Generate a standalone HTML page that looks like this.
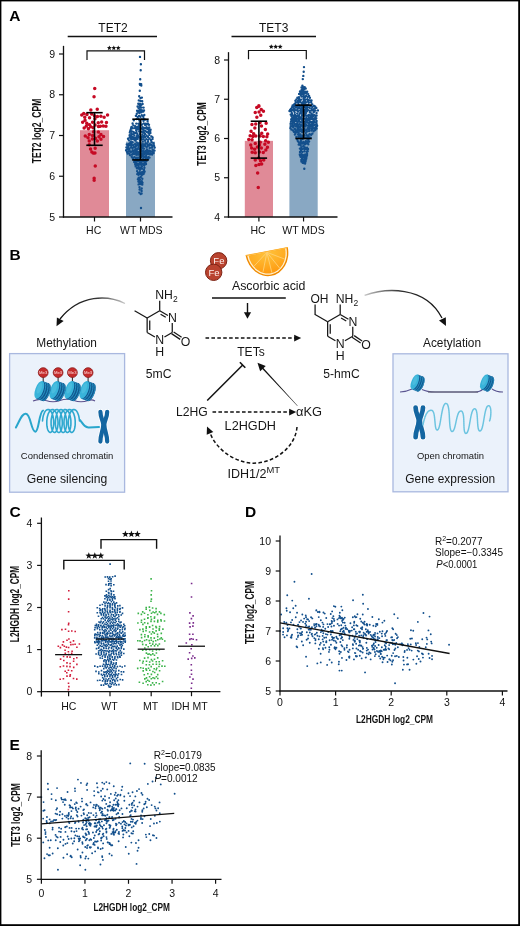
<!DOCTYPE html><html><head><meta charset="utf-8"><style>html,body{margin:0;padding:0;background:#fff;}svg{display:block;will-change:transform;}</style></head><body>
<svg width="520" height="926" viewBox="0 0 520 926" font-family='"Liberation Sans", sans-serif'>
<rect x="0" y="0" width="520" height="926" fill="#000"/>
<rect x="1.4" y="1.4" width="516.8" height="922.8" fill="#fff"/>
<text x="9.2" y="21.2" font-size="15.5" text-anchor="start" font-weight="bold" fill="#000" >A</text>
<text x="9.6" y="259.5" font-size="15.5" text-anchor="start" font-weight="bold" fill="#000" >B</text>
<text x="9.4" y="517.3" font-size="15.5" text-anchor="start" font-weight="bold" fill="#000" >C</text>
<text x="245" y="516.8" font-size="15.5" text-anchor="start" font-weight="bold" fill="#000" >D</text>
<text x="9.6" y="749.9" font-size="15.5" text-anchor="start" font-weight="bold" fill="#000" >E</text>
<text x="113" y="32.1" font-size="12" text-anchor="middle" font-weight="normal" fill="#111" >TET2</text>
<line x1="67.70" y1="36.50" x2="157.00" y2="36.50" stroke="#111" stroke-width="1.3" />
<rect x="80" y="130.20" width="29" height="86.80" fill="#e08a97"/>
<rect x="126" y="141.61" width="29" height="75.39" fill="#89a8c3"/>
<path d="M80.9,122.3a1.75,1.75 0 1,0 3.5,0a1.75,1.75 0 1,0 -3.5,0M89.9,114.1a1.75,1.75 0 1,0 3.5,0a1.75,1.75 0 1,0 -3.5,0M87.8,117.8a1.75,1.75 0 1,0 3.5,0a1.75,1.75 0 1,0 -3.5,0M86.3,137.7a1.75,1.75 0 1,0 3.5,0a1.75,1.75 0 1,0 -3.5,0M99.2,134.5a1.75,1.75 0 1,0 3.5,0a1.75,1.75 0 1,0 -3.5,0M105.8,114.9a1.75,1.75 0 1,0 3.5,0a1.75,1.75 0 1,0 -3.5,0M93.2,152.9a1.75,1.75 0 1,0 3.5,0a1.75,1.75 0 1,0 -3.5,0M95.7,116.4a1.75,1.75 0 1,0 3.5,0a1.75,1.75 0 1,0 -3.5,0M83.0,117.2a1.75,1.75 0 1,0 3.5,0a1.75,1.75 0 1,0 -3.5,0M91.4,127.8a1.75,1.75 0 1,0 3.5,0a1.75,1.75 0 1,0 -3.5,0M87.5,134.4a1.75,1.75 0 1,0 3.5,0a1.75,1.75 0 1,0 -3.5,0M90.8,135.4a1.75,1.75 0 1,0 3.5,0a1.75,1.75 0 1,0 -3.5,0M101.8,136.4a1.75,1.75 0 1,0 3.5,0a1.75,1.75 0 1,0 -3.5,0M86.6,128.7a1.75,1.75 0 1,0 3.5,0a1.75,1.75 0 1,0 -3.5,0M96.7,126.4a1.75,1.75 0 1,0 3.5,0a1.75,1.75 0 1,0 -3.5,0M87.8,124.7a1.75,1.75 0 1,0 3.5,0a1.75,1.75 0 1,0 -3.5,0M95.5,109.3a1.75,1.75 0 1,0 3.5,0a1.75,1.75 0 1,0 -3.5,0M102.4,117.3a1.75,1.75 0 1,0 3.5,0a1.75,1.75 0 1,0 -3.5,0M104.7,122.4a1.75,1.75 0 1,0 3.5,0a1.75,1.75 0 1,0 -3.5,0M89.1,109.9a1.75,1.75 0 1,0 3.5,0a1.75,1.75 0 1,0 -3.5,0M93.7,138.2a1.75,1.75 0 1,0 3.5,0a1.75,1.75 0 1,0 -3.5,0M87.5,140.9a1.75,1.75 0 1,0 3.5,0a1.75,1.75 0 1,0 -3.5,0M96.5,122.7a1.75,1.75 0 1,0 3.5,0a1.75,1.75 0 1,0 -3.5,0M93.4,148.3a1.75,1.75 0 1,0 3.5,0a1.75,1.75 0 1,0 -3.5,0M88.8,149.1a1.75,1.75 0 1,0 3.5,0a1.75,1.75 0 1,0 -3.5,0M101.5,126.0a1.75,1.75 0 1,0 3.5,0a1.75,1.75 0 1,0 -3.5,0M82.4,127.9a1.75,1.75 0 1,0 3.5,0a1.75,1.75 0 1,0 -3.5,0M82.0,113.4a1.75,1.75 0 1,0 3.5,0a1.75,1.75 0 1,0 -3.5,0M90.8,122.2a1.75,1.75 0 1,0 3.5,0a1.75,1.75 0 1,0 -3.5,0M84.6,126.1a1.75,1.75 0 1,0 3.5,0a1.75,1.75 0 1,0 -3.5,0M89.0,126.7a1.75,1.75 0 1,0 3.5,0a1.75,1.75 0 1,0 -3.5,0M97.2,136.7a1.75,1.75 0 1,0 3.5,0a1.75,1.75 0 1,0 -3.5,0M90.1,151.9a1.75,1.75 0 1,0 3.5,0a1.75,1.75 0 1,0 -3.5,0M99.2,139.3a1.75,1.75 0 1,0 3.5,0a1.75,1.75 0 1,0 -3.5,0M83.3,120.3a1.75,1.75 0 1,0 3.5,0a1.75,1.75 0 1,0 -3.5,0M90.6,138.9a1.75,1.75 0 1,0 3.5,0a1.75,1.75 0 1,0 -3.5,0M91.8,131.7a1.75,1.75 0 1,0 3.5,0a1.75,1.75 0 1,0 -3.5,0M91.4,153.1a1.75,1.75 0 1,0 3.5,0a1.75,1.75 0 1,0 -3.5,0M99.1,116.2a1.75,1.75 0 1,0 3.5,0a1.75,1.75 0 1,0 -3.5,0M95.6,141.1a1.75,1.75 0 1,0 3.5,0a1.75,1.75 0 1,0 -3.5,0M83.5,135.9a1.75,1.75 0 1,0 3.5,0a1.75,1.75 0 1,0 -3.5,0M85.2,114.6a1.75,1.75 0 1,0 3.5,0a1.75,1.75 0 1,0 -3.5,0M104.2,126.2a1.75,1.75 0 1,0 3.5,0a1.75,1.75 0 1,0 -3.5,0M92.7,115.7a1.75,1.75 0 1,0 3.5,0a1.75,1.75 0 1,0 -3.5,0M99.9,121.9a1.75,1.75 0 1,0 3.5,0a1.75,1.75 0 1,0 -3.5,0M93.2,118.8a1.75,1.75 0 1,0 3.5,0a1.75,1.75 0 1,0 -3.5,0M87.5,144.8a1.75,1.75 0 1,0 3.5,0a1.75,1.75 0 1,0 -3.5,0M93.3,125.1a1.75,1.75 0 1,0 3.5,0a1.75,1.75 0 1,0 -3.5,0M98.5,126.3a1.75,1.75 0 1,0 3.5,0a1.75,1.75 0 1,0 -3.5,0M80.0,114.9a1.75,1.75 0 1,0 3.5,0a1.75,1.75 0 1,0 -3.5,0M96.6,132.0a1.75,1.75 0 1,0 3.5,0a1.75,1.75 0 1,0 -3.5,0M85.0,123.2a1.75,1.75 0 1,0 3.5,0a1.75,1.75 0 1,0 -3.5,0M93.0,88.6a1.75,1.75 0 1,0 3.5,0a1.75,1.75 0 1,0 -3.5,0M92.3,96.8a1.75,1.75 0 1,0 3.5,0a1.75,1.75 0 1,0 -3.5,0M93.5,166.1a1.75,1.75 0 1,0 3.5,0a1.75,1.75 0 1,0 -3.5,0M92.4,178.3a1.75,1.75 0 1,0 3.5,0a1.75,1.75 0 1,0 -3.5,0M92.4,180.3a1.75,1.75 0 1,0 3.5,0a1.75,1.75 0 1,0 -3.5,0" fill="#c60a24"/>
<path d="M130.9,154.5a1.2,1.2 0 1,0 2.4,0a1.2,1.2 0 1,0 -2.4,0M142.3,174.0a1.2,1.2 0 1,0 2.4,0a1.2,1.2 0 1,0 -2.4,0M134.6,146.6a1.2,1.2 0 1,0 2.4,0a1.2,1.2 0 1,0 -2.4,0M136.2,127.0a1.2,1.2 0 1,0 2.4,0a1.2,1.2 0 1,0 -2.4,0M130.5,131.1a1.2,1.2 0 1,0 2.4,0a1.2,1.2 0 1,0 -2.4,0M144.6,158.3a1.2,1.2 0 1,0 2.4,0a1.2,1.2 0 1,0 -2.4,0M141.4,163.8a1.2,1.2 0 1,0 2.4,0a1.2,1.2 0 1,0 -2.4,0M140.7,151.2a1.2,1.2 0 1,0 2.4,0a1.2,1.2 0 1,0 -2.4,0M141.5,127.2a1.2,1.2 0 1,0 2.4,0a1.2,1.2 0 1,0 -2.4,0M128.5,143.4a1.2,1.2 0 1,0 2.4,0a1.2,1.2 0 1,0 -2.4,0M137.6,110.6a1.2,1.2 0 1,0 2.4,0a1.2,1.2 0 1,0 -2.4,0M141.2,134.4a1.2,1.2 0 1,0 2.4,0a1.2,1.2 0 1,0 -2.4,0M150.2,136.4a1.2,1.2 0 1,0 2.4,0a1.2,1.2 0 1,0 -2.4,0M145.3,127.3a1.2,1.2 0 1,0 2.4,0a1.2,1.2 0 1,0 -2.4,0M139.7,128.5a1.2,1.2 0 1,0 2.4,0a1.2,1.2 0 1,0 -2.4,0M124.9,150.2a1.2,1.2 0 1,0 2.4,0a1.2,1.2 0 1,0 -2.4,0M148.8,154.4a1.2,1.2 0 1,0 2.4,0a1.2,1.2 0 1,0 -2.4,0M127.1,145.9a1.2,1.2 0 1,0 2.4,0a1.2,1.2 0 1,0 -2.4,0M144.5,143.3a1.2,1.2 0 1,0 2.4,0a1.2,1.2 0 1,0 -2.4,0M138.7,163.3a1.2,1.2 0 1,0 2.4,0a1.2,1.2 0 1,0 -2.4,0M130.3,145.7a1.2,1.2 0 1,0 2.4,0a1.2,1.2 0 1,0 -2.4,0M128.4,135.3a1.2,1.2 0 1,0 2.4,0a1.2,1.2 0 1,0 -2.4,0M144.8,164.0a1.2,1.2 0 1,0 2.4,0a1.2,1.2 0 1,0 -2.4,0M136.3,163.7a1.2,1.2 0 1,0 2.4,0a1.2,1.2 0 1,0 -2.4,0M137.8,160.1a1.2,1.2 0 1,0 2.4,0a1.2,1.2 0 1,0 -2.4,0M134.3,153.0a1.2,1.2 0 1,0 2.4,0a1.2,1.2 0 1,0 -2.4,0M139.3,100.9a1.2,1.2 0 1,0 2.4,0a1.2,1.2 0 1,0 -2.4,0M137.4,184.4a1.2,1.2 0 1,0 2.4,0a1.2,1.2 0 1,0 -2.4,0M134.3,159.2a1.2,1.2 0 1,0 2.4,0a1.2,1.2 0 1,0 -2.4,0M142.3,160.9a1.2,1.2 0 1,0 2.4,0a1.2,1.2 0 1,0 -2.4,0M139.4,144.1a1.2,1.2 0 1,0 2.4,0a1.2,1.2 0 1,0 -2.4,0M140.5,188.5a1.2,1.2 0 1,0 2.4,0a1.2,1.2 0 1,0 -2.4,0M150.3,144.9a1.2,1.2 0 1,0 2.4,0a1.2,1.2 0 1,0 -2.4,0M145.3,161.1a1.2,1.2 0 1,0 2.4,0a1.2,1.2 0 1,0 -2.4,0M139.4,153.7a1.2,1.2 0 1,0 2.4,0a1.2,1.2 0 1,0 -2.4,0M132.2,125.4a1.2,1.2 0 1,0 2.4,0a1.2,1.2 0 1,0 -2.4,0M131.8,159.2a1.2,1.2 0 1,0 2.4,0a1.2,1.2 0 1,0 -2.4,0M141.2,136.6a1.2,1.2 0 1,0 2.4,0a1.2,1.2 0 1,0 -2.4,0M139.6,147.3a1.2,1.2 0 1,0 2.4,0a1.2,1.2 0 1,0 -2.4,0M137.5,146.8a1.2,1.2 0 1,0 2.4,0a1.2,1.2 0 1,0 -2.4,0M146.7,123.5a1.2,1.2 0 1,0 2.4,0a1.2,1.2 0 1,0 -2.4,0M135.4,161.3a1.2,1.2 0 1,0 2.4,0a1.2,1.2 0 1,0 -2.4,0M141.5,110.5a1.2,1.2 0 1,0 2.4,0a1.2,1.2 0 1,0 -2.4,0M134.7,115.7a1.2,1.2 0 1,0 2.4,0a1.2,1.2 0 1,0 -2.4,0M143.8,133.7a1.2,1.2 0 1,0 2.4,0a1.2,1.2 0 1,0 -2.4,0M137.5,177.6a1.2,1.2 0 1,0 2.4,0a1.2,1.2 0 1,0 -2.4,0M138.6,134.0a1.2,1.2 0 1,0 2.4,0a1.2,1.2 0 1,0 -2.4,0M128.4,137.5a1.2,1.2 0 1,0 2.4,0a1.2,1.2 0 1,0 -2.4,0M130.3,126.9a1.2,1.2 0 1,0 2.4,0a1.2,1.2 0 1,0 -2.4,0M140.1,157.0a1.2,1.2 0 1,0 2.4,0a1.2,1.2 0 1,0 -2.4,0M138.8,103.8a1.2,1.2 0 1,0 2.4,0a1.2,1.2 0 1,0 -2.4,0M139.3,116.7a1.2,1.2 0 1,0 2.4,0a1.2,1.2 0 1,0 -2.4,0M137.3,166.7a1.2,1.2 0 1,0 2.4,0a1.2,1.2 0 1,0 -2.4,0M143.9,151.5a1.2,1.2 0 1,0 2.4,0a1.2,1.2 0 1,0 -2.4,0M138.0,182.1a1.2,1.2 0 1,0 2.4,0a1.2,1.2 0 1,0 -2.4,0M139.2,122.3a1.2,1.2 0 1,0 2.4,0a1.2,1.2 0 1,0 -2.4,0M140.1,112.2a1.2,1.2 0 1,0 2.4,0a1.2,1.2 0 1,0 -2.4,0M140.1,85.6a1.2,1.2 0 1,0 2.4,0a1.2,1.2 0 1,0 -2.4,0M146.8,136.9a1.2,1.2 0 1,0 2.4,0a1.2,1.2 0 1,0 -2.4,0M135.9,133.8a1.2,1.2 0 1,0 2.4,0a1.2,1.2 0 1,0 -2.4,0M133.9,133.1a1.2,1.2 0 1,0 2.4,0a1.2,1.2 0 1,0 -2.4,0M142.4,139.2a1.2,1.2 0 1,0 2.4,0a1.2,1.2 0 1,0 -2.4,0M141.4,104.0a1.2,1.2 0 1,0 2.4,0a1.2,1.2 0 1,0 -2.4,0M131.5,137.1a1.2,1.2 0 1,0 2.4,0a1.2,1.2 0 1,0 -2.4,0M153.3,150.6a1.2,1.2 0 1,0 2.4,0a1.2,1.2 0 1,0 -2.4,0M131.4,142.2a1.2,1.2 0 1,0 2.4,0a1.2,1.2 0 1,0 -2.4,0M138.3,187.1a1.2,1.2 0 1,0 2.4,0a1.2,1.2 0 1,0 -2.4,0M135.0,130.2a1.2,1.2 0 1,0 2.4,0a1.2,1.2 0 1,0 -2.4,0M145.8,132.1a1.2,1.2 0 1,0 2.4,0a1.2,1.2 0 1,0 -2.4,0M141.7,146.6a1.2,1.2 0 1,0 2.4,0a1.2,1.2 0 1,0 -2.4,0M138.2,120.5a1.2,1.2 0 1,0 2.4,0a1.2,1.2 0 1,0 -2.4,0M133.6,128.1a1.2,1.2 0 1,0 2.4,0a1.2,1.2 0 1,0 -2.4,0M133.0,150.5a1.2,1.2 0 1,0 2.4,0a1.2,1.2 0 1,0 -2.4,0M138.5,172.2a1.2,1.2 0 1,0 2.4,0a1.2,1.2 0 1,0 -2.4,0M134.0,164.4a1.2,1.2 0 1,0 2.4,0a1.2,1.2 0 1,0 -2.4,0M146.9,159.2a1.2,1.2 0 1,0 2.4,0a1.2,1.2 0 1,0 -2.4,0M129.7,152.0a1.2,1.2 0 1,0 2.4,0a1.2,1.2 0 1,0 -2.4,0M148.0,145.4a1.2,1.2 0 1,0 2.4,0a1.2,1.2 0 1,0 -2.4,0M139.6,109.7a1.2,1.2 0 1,0 2.4,0a1.2,1.2 0 1,0 -2.4,0M136.9,153.3a1.2,1.2 0 1,0 2.4,0a1.2,1.2 0 1,0 -2.4,0M143.1,115.0a1.2,1.2 0 1,0 2.4,0a1.2,1.2 0 1,0 -2.4,0M149.2,132.9a1.2,1.2 0 1,0 2.4,0a1.2,1.2 0 1,0 -2.4,0M132.6,120.3a1.2,1.2 0 1,0 2.4,0a1.2,1.2 0 1,0 -2.4,0M153.5,147.5a1.2,1.2 0 1,0 2.4,0a1.2,1.2 0 1,0 -2.4,0M139.5,194.0a1.2,1.2 0 1,0 2.4,0a1.2,1.2 0 1,0 -2.4,0M139.2,125.8a1.2,1.2 0 1,0 2.4,0a1.2,1.2 0 1,0 -2.4,0M128.8,155.1a1.2,1.2 0 1,0 2.4,0a1.2,1.2 0 1,0 -2.4,0M143.2,163.2a1.2,1.2 0 1,0 2.4,0a1.2,1.2 0 1,0 -2.4,0M144.0,124.9a1.2,1.2 0 1,0 2.4,0a1.2,1.2 0 1,0 -2.4,0M128.6,132.6a1.2,1.2 0 1,0 2.4,0a1.2,1.2 0 1,0 -2.4,0M133.2,157.1a1.2,1.2 0 1,0 2.4,0a1.2,1.2 0 1,0 -2.4,0M145.9,153.9a1.2,1.2 0 1,0 2.4,0a1.2,1.2 0 1,0 -2.4,0M140.2,107.4a1.2,1.2 0 1,0 2.4,0a1.2,1.2 0 1,0 -2.4,0M141.8,153.8a1.2,1.2 0 1,0 2.4,0a1.2,1.2 0 1,0 -2.4,0M138.0,131.6a1.2,1.2 0 1,0 2.4,0a1.2,1.2 0 1,0 -2.4,0M137.5,164.7a1.2,1.2 0 1,0 2.4,0a1.2,1.2 0 1,0 -2.4,0M135.1,123.6a1.2,1.2 0 1,0 2.4,0a1.2,1.2 0 1,0 -2.4,0M140.7,166.2a1.2,1.2 0 1,0 2.4,0a1.2,1.2 0 1,0 -2.4,0M150.3,142.0a1.2,1.2 0 1,0 2.4,0a1.2,1.2 0 1,0 -2.4,0M140.6,181.3a1.2,1.2 0 1,0 2.4,0a1.2,1.2 0 1,0 -2.4,0M138.7,140.2a1.2,1.2 0 1,0 2.4,0a1.2,1.2 0 1,0 -2.4,0M146.4,120.9a1.2,1.2 0 1,0 2.4,0a1.2,1.2 0 1,0 -2.4,0M135.9,171.1a1.2,1.2 0 1,0 2.4,0a1.2,1.2 0 1,0 -2.4,0M126.4,153.5a1.2,1.2 0 1,0 2.4,0a1.2,1.2 0 1,0 -2.4,0M148.1,127.5a1.2,1.2 0 1,0 2.4,0a1.2,1.2 0 1,0 -2.4,0M144.2,137.1a1.2,1.2 0 1,0 2.4,0a1.2,1.2 0 1,0 -2.4,0M151.4,151.6a1.2,1.2 0 1,0 2.4,0a1.2,1.2 0 1,0 -2.4,0M135.9,136.0a1.2,1.2 0 1,0 2.4,0a1.2,1.2 0 1,0 -2.4,0M136.1,145.0a1.2,1.2 0 1,0 2.4,0a1.2,1.2 0 1,0 -2.4,0M140.1,119.4a1.2,1.2 0 1,0 2.4,0a1.2,1.2 0 1,0 -2.4,0M132.1,152.6a1.2,1.2 0 1,0 2.4,0a1.2,1.2 0 1,0 -2.4,0M143.5,128.0a1.2,1.2 0 1,0 2.4,0a1.2,1.2 0 1,0 -2.4,0M133.2,135.6a1.2,1.2 0 1,0 2.4,0a1.2,1.2 0 1,0 -2.4,0M146.3,129.1a1.2,1.2 0 1,0 2.4,0a1.2,1.2 0 1,0 -2.4,0M142.8,148.6a1.2,1.2 0 1,0 2.4,0a1.2,1.2 0 1,0 -2.4,0M142.4,130.2a1.2,1.2 0 1,0 2.4,0a1.2,1.2 0 1,0 -2.4,0M140.9,131.8a1.2,1.2 0 1,0 2.4,0a1.2,1.2 0 1,0 -2.4,0M131.3,148.2a1.2,1.2 0 1,0 2.4,0a1.2,1.2 0 1,0 -2.4,0M140.2,184.2a1.2,1.2 0 1,0 2.4,0a1.2,1.2 0 1,0 -2.4,0M137.6,100.4a1.2,1.2 0 1,0 2.4,0a1.2,1.2 0 1,0 -2.4,0M147.6,130.9a1.2,1.2 0 1,0 2.4,0a1.2,1.2 0 1,0 -2.4,0M136.5,157.6a1.2,1.2 0 1,0 2.4,0a1.2,1.2 0 1,0 -2.4,0M149.4,129.8a1.2,1.2 0 1,0 2.4,0a1.2,1.2 0 1,0 -2.4,0M150.5,153.3a1.2,1.2 0 1,0 2.4,0a1.2,1.2 0 1,0 -2.4,0M133.8,144.3a1.2,1.2 0 1,0 2.4,0a1.2,1.2 0 1,0 -2.4,0M144.1,119.6a1.2,1.2 0 1,0 2.4,0a1.2,1.2 0 1,0 -2.4,0M152.8,145.4a1.2,1.2 0 1,0 2.4,0a1.2,1.2 0 1,0 -2.4,0M147.3,152.8a1.2,1.2 0 1,0 2.4,0a1.2,1.2 0 1,0 -2.4,0M138.2,152.0a1.2,1.2 0 1,0 2.4,0a1.2,1.2 0 1,0 -2.4,0M140.9,172.3a1.2,1.2 0 1,0 2.4,0a1.2,1.2 0 1,0 -2.4,0M130.5,156.7a1.2,1.2 0 1,0 2.4,0a1.2,1.2 0 1,0 -2.4,0M143.8,153.7a1.2,1.2 0 1,0 2.4,0a1.2,1.2 0 1,0 -2.4,0M139.9,160.1a1.2,1.2 0 1,0 2.4,0a1.2,1.2 0 1,0 -2.4,0M137.3,174.8a1.2,1.2 0 1,0 2.4,0a1.2,1.2 0 1,0 -2.4,0M125.6,144.5a1.2,1.2 0 1,0 2.4,0a1.2,1.2 0 1,0 -2.4,0M147.3,157.0a1.2,1.2 0 1,0 2.4,0a1.2,1.2 0 1,0 -2.4,0M136.9,129.2a1.2,1.2 0 1,0 2.4,0a1.2,1.2 0 1,0 -2.4,0M135.9,110.8a1.2,1.2 0 1,0 2.4,0a1.2,1.2 0 1,0 -2.4,0M128.2,153.6a1.2,1.2 0 1,0 2.4,0a1.2,1.2 0 1,0 -2.4,0M151.3,139.1a1.2,1.2 0 1,0 2.4,0a1.2,1.2 0 1,0 -2.4,0M135.5,142.5a1.2,1.2 0 1,0 2.4,0a1.2,1.2 0 1,0 -2.4,0M136.7,172.6a1.2,1.2 0 1,0 2.4,0a1.2,1.2 0 1,0 -2.4,0M142.9,165.3a1.2,1.2 0 1,0 2.4,0a1.2,1.2 0 1,0 -2.4,0M136.5,116.9a1.2,1.2 0 1,0 2.4,0a1.2,1.2 0 1,0 -2.4,0M141.7,144.1a1.2,1.2 0 1,0 2.4,0a1.2,1.2 0 1,0 -2.4,0M140.9,124.5a1.2,1.2 0 1,0 2.4,0a1.2,1.2 0 1,0 -2.4,0M139.3,174.1a1.2,1.2 0 1,0 2.4,0a1.2,1.2 0 1,0 -2.4,0M134.6,137.8a1.2,1.2 0 1,0 2.4,0a1.2,1.2 0 1,0 -2.4,0M135.3,119.1a1.2,1.2 0 1,0 2.4,0a1.2,1.2 0 1,0 -2.4,0M137.3,118.9a1.2,1.2 0 1,0 2.4,0a1.2,1.2 0 1,0 -2.4,0M138.1,192.6a1.2,1.2 0 1,0 2.4,0a1.2,1.2 0 1,0 -2.4,0M146.7,141.7a1.2,1.2 0 1,0 2.4,0a1.2,1.2 0 1,0 -2.4,0M138.4,149.1a1.2,1.2 0 1,0 2.4,0a1.2,1.2 0 1,0 -2.4,0M138.0,127.8a1.2,1.2 0 1,0 2.4,0a1.2,1.2 0 1,0 -2.4,0M139.7,173.0a1.2,1.2 0 1,0 2.4,0a1.2,1.2 0 1,0 -2.4,0M132.9,154.0a1.2,1.2 0 1,0 2.4,0a1.2,1.2 0 1,0 -2.4,0M137.4,123.8a1.2,1.2 0 1,0 2.4,0a1.2,1.2 0 1,0 -2.4,0M146.3,144.3a1.2,1.2 0 1,0 2.4,0a1.2,1.2 0 1,0 -2.4,0M132.0,145.1a1.2,1.2 0 1,0 2.4,0a1.2,1.2 0 1,0 -2.4,0M139.3,98.1a1.2,1.2 0 1,0 2.4,0a1.2,1.2 0 1,0 -2.4,0M127.3,151.3a1.2,1.2 0 1,0 2.4,0a1.2,1.2 0 1,0 -2.4,0M138.7,179.5a1.2,1.2 0 1,0 2.4,0a1.2,1.2 0 1,0 -2.4,0M148.5,148.0a1.2,1.2 0 1,0 2.4,0a1.2,1.2 0 1,0 -2.4,0M133.0,162.0a1.2,1.2 0 1,0 2.4,0a1.2,1.2 0 1,0 -2.4,0M143.4,171.5a1.2,1.2 0 1,0 2.4,0a1.2,1.2 0 1,0 -2.4,0M132.0,139.3a1.2,1.2 0 1,0 2.4,0a1.2,1.2 0 1,0 -2.4,0M137.1,103.7a1.2,1.2 0 1,0 2.4,0a1.2,1.2 0 1,0 -2.4,0M136.5,138.7a1.2,1.2 0 1,0 2.4,0a1.2,1.2 0 1,0 -2.4,0M148.1,134.9a1.2,1.2 0 1,0 2.4,0a1.2,1.2 0 1,0 -2.4,0M149.3,151.1a1.2,1.2 0 1,0 2.4,0a1.2,1.2 0 1,0 -2.4,0M145.2,139.1a1.2,1.2 0 1,0 2.4,0a1.2,1.2 0 1,0 -2.4,0M131.5,128.3a1.2,1.2 0 1,0 2.4,0a1.2,1.2 0 1,0 -2.4,0M138.9,138.1a1.2,1.2 0 1,0 2.4,0a1.2,1.2 0 1,0 -2.4,0M145.5,124.6a1.2,1.2 0 1,0 2.4,0a1.2,1.2 0 1,0 -2.4,0M127.7,140.2a1.2,1.2 0 1,0 2.4,0a1.2,1.2 0 1,0 -2.4,0M138.4,158.1a1.2,1.2 0 1,0 2.4,0a1.2,1.2 0 1,0 -2.4,0M148.4,138.5a1.2,1.2 0 1,0 2.4,0a1.2,1.2 0 1,0 -2.4,0M152.3,143.3a1.2,1.2 0 1,0 2.4,0a1.2,1.2 0 1,0 -2.4,0M133.9,160.8a1.2,1.2 0 1,0 2.4,0a1.2,1.2 0 1,0 -2.4,0M139.5,136.5a1.2,1.2 0 1,0 2.4,0a1.2,1.2 0 1,0 -2.4,0M131.4,123.5a1.2,1.2 0 1,0 2.4,0a1.2,1.2 0 1,0 -2.4,0M135.1,164.0a1.2,1.2 0 1,0 2.4,0a1.2,1.2 0 1,0 -2.4,0M134.0,140.5a1.2,1.2 0 1,0 2.4,0a1.2,1.2 0 1,0 -2.4,0M129.5,129.6a1.2,1.2 0 1,0 2.4,0a1.2,1.2 0 1,0 -2.4,0M150.7,147.5a1.2,1.2 0 1,0 2.4,0a1.2,1.2 0 1,0 -2.4,0M140.6,153.7a1.2,1.2 0 1,0 2.4,0a1.2,1.2 0 1,0 -2.4,0M128.2,148.9a1.2,1.2 0 1,0 2.4,0a1.2,1.2 0 1,0 -2.4,0M143.9,140.7a1.2,1.2 0 1,0 2.4,0a1.2,1.2 0 1,0 -2.4,0M142.5,132.6a1.2,1.2 0 1,0 2.4,0a1.2,1.2 0 1,0 -2.4,0M147.0,139.8a1.2,1.2 0 1,0 2.4,0a1.2,1.2 0 1,0 -2.4,0M143.2,167.7a1.2,1.2 0 1,0 2.4,0a1.2,1.2 0 1,0 -2.4,0M142.6,123.4a1.2,1.2 0 1,0 2.4,0a1.2,1.2 0 1,0 -2.4,0M142.8,110.5a1.2,1.2 0 1,0 2.4,0a1.2,1.2 0 1,0 -2.4,0M140.7,168.5a1.2,1.2 0 1,0 2.4,0a1.2,1.2 0 1,0 -2.4,0M135.1,154.8a1.2,1.2 0 1,0 2.4,0a1.2,1.2 0 1,0 -2.4,0M143.6,160.1a1.2,1.2 0 1,0 2.4,0a1.2,1.2 0 1,0 -2.4,0M142.3,120.7a1.2,1.2 0 1,0 2.4,0a1.2,1.2 0 1,0 -2.4,0M138.1,113.0a1.2,1.2 0 1,0 2.4,0a1.2,1.2 0 1,0 -2.4,0M141.1,178.8a1.2,1.2 0 1,0 2.4,0a1.2,1.2 0 1,0 -2.4,0M135.5,150.7a1.2,1.2 0 1,0 2.4,0a1.2,1.2 0 1,0 -2.4,0M142.0,158.5a1.2,1.2 0 1,0 2.4,0a1.2,1.2 0 1,0 -2.4,0M127.2,144.3a1.2,1.2 0 1,0 2.4,0a1.2,1.2 0 1,0 -2.4,0M138.9,110.9a1.2,1.2 0 1,0 2.4,0a1.2,1.2 0 1,0 -2.4,0M140.9,173.5a1.2,1.2 0 1,0 2.4,0a1.2,1.2 0 1,0 -2.4,0M136.5,160.3a1.2,1.2 0 1,0 2.4,0a1.2,1.2 0 1,0 -2.4,0M137.4,143.4a1.2,1.2 0 1,0 2.4,0a1.2,1.2 0 1,0 -2.4,0M141.6,141.6a1.2,1.2 0 1,0 2.4,0a1.2,1.2 0 1,0 -2.4,0M141.3,128.8a1.2,1.2 0 1,0 2.4,0a1.2,1.2 0 1,0 -2.4,0M144.0,145.9a1.2,1.2 0 1,0 2.4,0a1.2,1.2 0 1,0 -2.4,0M140.1,163.3a1.2,1.2 0 1,0 2.4,0a1.2,1.2 0 1,0 -2.4,0M145.9,149.8a1.2,1.2 0 1,0 2.4,0a1.2,1.2 0 1,0 -2.4,0M138.6,90.8a1.2,1.2 0 1,0 2.4,0a1.2,1.2 0 1,0 -2.4,0M135.5,128.4a1.2,1.2 0 1,0 2.4,0a1.2,1.2 0 1,0 -2.4,0M134.5,166.4a1.2,1.2 0 1,0 2.4,0a1.2,1.2 0 1,0 -2.4,0M139.0,124.2a1.2,1.2 0 1,0 2.4,0a1.2,1.2 0 1,0 -2.4,0M145.9,151.7a1.2,1.2 0 1,0 2.4,0a1.2,1.2 0 1,0 -2.4,0M134.0,126.3a1.2,1.2 0 1,0 2.4,0a1.2,1.2 0 1,0 -2.4,0M138.4,189.5a1.2,1.2 0 1,0 2.4,0a1.2,1.2 0 1,0 -2.4,0M142.4,118.5a1.2,1.2 0 1,0 2.4,0a1.2,1.2 0 1,0 -2.4,0M140.9,161.1a1.2,1.2 0 1,0 2.4,0a1.2,1.2 0 1,0 -2.4,0M137.7,145.0a1.2,1.2 0 1,0 2.4,0a1.2,1.2 0 1,0 -2.4,0M132.0,134.1a1.2,1.2 0 1,0 2.4,0a1.2,1.2 0 1,0 -2.4,0M138.9,142.4a1.2,1.2 0 1,0 2.4,0a1.2,1.2 0 1,0 -2.4,0M137.2,160.8a1.2,1.2 0 1,0 2.4,0a1.2,1.2 0 1,0 -2.4,0M137.7,163.6a1.2,1.2 0 1,0 2.4,0a1.2,1.2 0 1,0 -2.4,0M152.4,153.0a1.2,1.2 0 1,0 2.4,0a1.2,1.2 0 1,0 -2.4,0M139.5,177.0a1.2,1.2 0 1,0 2.4,0a1.2,1.2 0 1,0 -2.4,0M143.1,156.8a1.2,1.2 0 1,0 2.4,0a1.2,1.2 0 1,0 -2.4,0M139.1,164.6a1.2,1.2 0 1,0 2.4,0a1.2,1.2 0 1,0 -2.4,0M143.6,144.5a1.2,1.2 0 1,0 2.4,0a1.2,1.2 0 1,0 -2.4,0M151.5,149.6a1.2,1.2 0 1,0 2.4,0a1.2,1.2 0 1,0 -2.4,0M133.1,138.3a1.2,1.2 0 1,0 2.4,0a1.2,1.2 0 1,0 -2.4,0M149.0,153.2a1.2,1.2 0 1,0 2.4,0a1.2,1.2 0 1,0 -2.4,0M139.1,181.7a1.2,1.2 0 1,0 2.4,0a1.2,1.2 0 1,0 -2.4,0M147.8,150.8a1.2,1.2 0 1,0 2.4,0a1.2,1.2 0 1,0 -2.4,0M142.3,128.1a1.2,1.2 0 1,0 2.4,0a1.2,1.2 0 1,0 -2.4,0M137.9,154.5a1.2,1.2 0 1,0 2.4,0a1.2,1.2 0 1,0 -2.4,0M125.2,147.4a1.2,1.2 0 1,0 2.4,0a1.2,1.2 0 1,0 -2.4,0M129.9,128.1a1.2,1.2 0 1,0 2.4,0a1.2,1.2 0 1,0 -2.4,0M145.4,147.3a1.2,1.2 0 1,0 2.4,0a1.2,1.2 0 1,0 -2.4,0M142.0,116.6a1.2,1.2 0 1,0 2.4,0a1.2,1.2 0 1,0 -2.4,0M136.7,111.6a1.2,1.2 0 1,0 2.4,0a1.2,1.2 0 1,0 -2.4,0M125.7,151.7a1.2,1.2 0 1,0 2.4,0a1.2,1.2 0 1,0 -2.4,0M138.6,129.4a1.2,1.2 0 1,0 2.4,0a1.2,1.2 0 1,0 -2.4,0M150.9,154.6a1.2,1.2 0 1,0 2.4,0a1.2,1.2 0 1,0 -2.4,0M142.3,163.5a1.2,1.2 0 1,0 2.4,0a1.2,1.2 0 1,0 -2.4,0M140.2,145.8a1.2,1.2 0 1,0 2.4,0a1.2,1.2 0 1,0 -2.4,0M135.9,137.4a1.2,1.2 0 1,0 2.4,0a1.2,1.2 0 1,0 -2.4,0M137.4,108.1a1.2,1.2 0 1,0 2.4,0a1.2,1.2 0 1,0 -2.4,0M134.5,162.8a1.2,1.2 0 1,0 2.4,0a1.2,1.2 0 1,0 -2.4,0M144.3,131.0a1.2,1.2 0 1,0 2.4,0a1.2,1.2 0 1,0 -2.4,0M130.1,144.0a1.2,1.2 0 1,0 2.4,0a1.2,1.2 0 1,0 -2.4,0M143.8,164.4a1.2,1.2 0 1,0 2.4,0a1.2,1.2 0 1,0 -2.4,0M138.0,96.2a1.2,1.2 0 1,0 2.4,0a1.2,1.2 0 1,0 -2.4,0M132.4,132.0a1.2,1.2 0 1,0 2.4,0a1.2,1.2 0 1,0 -2.4,0M140.3,164.8a1.2,1.2 0 1,0 2.4,0a1.2,1.2 0 1,0 -2.4,0M135.6,113.8a1.2,1.2 0 1,0 2.4,0a1.2,1.2 0 1,0 -2.4,0M135.7,168.2a1.2,1.2 0 1,0 2.4,0a1.2,1.2 0 1,0 -2.4,0M138.8,169.8a1.2,1.2 0 1,0 2.4,0a1.2,1.2 0 1,0 -2.4,0M131.3,150.8a1.2,1.2 0 1,0 2.4,0a1.2,1.2 0 1,0 -2.4,0M142.4,107.6a1.2,1.2 0 1,0 2.4,0a1.2,1.2 0 1,0 -2.4,0M140.0,182.0a1.2,1.2 0 1,0 2.4,0a1.2,1.2 0 1,0 -2.4,0M142.1,111.6a1.2,1.2 0 1,0 2.4,0a1.2,1.2 0 1,0 -2.4,0M137.6,136.9a1.2,1.2 0 1,0 2.4,0a1.2,1.2 0 1,0 -2.4,0M136.0,174.1a1.2,1.2 0 1,0 2.4,0a1.2,1.2 0 1,0 -2.4,0M130.0,139.3a1.2,1.2 0 1,0 2.4,0a1.2,1.2 0 1,0 -2.4,0M128.7,144.8a1.2,1.2 0 1,0 2.4,0a1.2,1.2 0 1,0 -2.4,0M140.3,139.5a1.2,1.2 0 1,0 2.4,0a1.2,1.2 0 1,0 -2.4,0M147.9,129.3a1.2,1.2 0 1,0 2.4,0a1.2,1.2 0 1,0 -2.4,0M147.3,133.1a1.2,1.2 0 1,0 2.4,0a1.2,1.2 0 1,0 -2.4,0M139.0,79.3a1.2,1.2 0 1,0 2.4,0a1.2,1.2 0 1,0 -2.4,0M139.2,161.7a1.2,1.2 0 1,0 2.4,0a1.2,1.2 0 1,0 -2.4,0M144.7,123.8a1.2,1.2 0 1,0 2.4,0a1.2,1.2 0 1,0 -2.4,0M132.9,147.1a1.2,1.2 0 1,0 2.4,0a1.2,1.2 0 1,0 -2.4,0M137.6,126.1a1.2,1.2 0 1,0 2.4,0a1.2,1.2 0 1,0 -2.4,0M137.9,116.0a1.2,1.2 0 1,0 2.4,0a1.2,1.2 0 1,0 -2.4,0M138.6,83.9a1.2,1.2 0 1,0 2.4,0a1.2,1.2 0 1,0 -2.4,0M147.6,153.9a1.2,1.2 0 1,0 2.4,0a1.2,1.2 0 1,0 -2.4,0M134.8,145.1a1.2,1.2 0 1,0 2.4,0a1.2,1.2 0 1,0 -2.4,0M136.4,106.5a1.2,1.2 0 1,0 2.4,0a1.2,1.2 0 1,0 -2.4,0M138.5,105.8a1.2,1.2 0 1,0 2.4,0a1.2,1.2 0 1,0 -2.4,0M134.4,148.9a1.2,1.2 0 1,0 2.4,0a1.2,1.2 0 1,0 -2.4,0M138.9,107.1a1.2,1.2 0 1,0 2.4,0a1.2,1.2 0 1,0 -2.4,0M129.8,147.4a1.2,1.2 0 1,0 2.4,0a1.2,1.2 0 1,0 -2.4,0M126.4,148.8a1.2,1.2 0 1,0 2.4,0a1.2,1.2 0 1,0 -2.4,0M146.9,128.0a1.2,1.2 0 1,0 2.4,0a1.2,1.2 0 1,0 -2.4,0M148.7,144.2a1.2,1.2 0 1,0 2.4,0a1.2,1.2 0 1,0 -2.4,0M142.4,145.3a1.2,1.2 0 1,0 2.4,0a1.2,1.2 0 1,0 -2.4,0M141.2,148.3a1.2,1.2 0 1,0 2.4,0a1.2,1.2 0 1,0 -2.4,0M146.5,146.1a1.2,1.2 0 1,0 2.4,0a1.2,1.2 0 1,0 -2.4,0M134.1,163.5a1.2,1.2 0 1,0 2.4,0a1.2,1.2 0 1,0 -2.4,0M140.5,175.2a1.2,1.2 0 1,0 2.4,0a1.2,1.2 0 1,0 -2.4,0M144.9,128.2a1.2,1.2 0 1,0 2.4,0a1.2,1.2 0 1,0 -2.4,0M135.1,139.5a1.2,1.2 0 1,0 2.4,0a1.2,1.2 0 1,0 -2.4,0M130.2,133.5a1.2,1.2 0 1,0 2.4,0a1.2,1.2 0 1,0 -2.4,0M147.8,124.7a1.2,1.2 0 1,0 2.4,0a1.2,1.2 0 1,0 -2.4,0M144.9,156.0a1.2,1.2 0 1,0 2.4,0a1.2,1.2 0 1,0 -2.4,0M141.5,155.8a1.2,1.2 0 1,0 2.4,0a1.2,1.2 0 1,0 -2.4,0M135.6,153.3a1.2,1.2 0 1,0 2.4,0a1.2,1.2 0 1,0 -2.4,0M136.5,152.0a1.2,1.2 0 1,0 2.4,0a1.2,1.2 0 1,0 -2.4,0M134.6,127.7a1.2,1.2 0 1,0 2.4,0a1.2,1.2 0 1,0 -2.4,0M136.5,148.8a1.2,1.2 0 1,0 2.4,0a1.2,1.2 0 1,0 -2.4,0M128.7,151.1a1.2,1.2 0 1,0 2.4,0a1.2,1.2 0 1,0 -2.4,0M145.4,135.5a1.2,1.2 0 1,0 2.4,0a1.2,1.2 0 1,0 -2.4,0M135.8,159.0a1.2,1.2 0 1,0 2.4,0a1.2,1.2 0 1,0 -2.4,0M139.1,167.8a1.2,1.2 0 1,0 2.4,0a1.2,1.2 0 1,0 -2.4,0M135.3,131.9a1.2,1.2 0 1,0 2.4,0a1.2,1.2 0 1,0 -2.4,0M136.8,128.0a1.2,1.2 0 1,0 2.4,0a1.2,1.2 0 1,0 -2.4,0M142.5,152.4a1.2,1.2 0 1,0 2.4,0a1.2,1.2 0 1,0 -2.4,0M130.2,135.6a1.2,1.2 0 1,0 2.4,0a1.2,1.2 0 1,0 -2.4,0M137.2,181.6a1.2,1.2 0 1,0 2.4,0a1.2,1.2 0 1,0 -2.4,0M127.0,147.4a1.2,1.2 0 1,0 2.4,0a1.2,1.2 0 1,0 -2.4,0M126.8,138.8a1.2,1.2 0 1,0 2.4,0a1.2,1.2 0 1,0 -2.4,0M136.5,154.6a1.2,1.2 0 1,0 2.4,0a1.2,1.2 0 1,0 -2.4,0M139.7,150.0a1.2,1.2 0 1,0 2.4,0a1.2,1.2 0 1,0 -2.4,0M142.5,137.0a1.2,1.2 0 1,0 2.4,0a1.2,1.2 0 1,0 -2.4,0M140.3,138.1a1.2,1.2 0 1,0 2.4,0a1.2,1.2 0 1,0 -2.4,0M144.4,161.9a1.2,1.2 0 1,0 2.4,0a1.2,1.2 0 1,0 -2.4,0M149.0,131.3a1.2,1.2 0 1,0 2.4,0a1.2,1.2 0 1,0 -2.4,0M142.2,171.8a1.2,1.2 0 1,0 2.4,0a1.2,1.2 0 1,0 -2.4,0M140.7,97.6a1.2,1.2 0 1,0 2.4,0a1.2,1.2 0 1,0 -2.4,0M135.0,157.8a1.2,1.2 0 1,0 2.4,0a1.2,1.2 0 1,0 -2.4,0M142.7,154.6a1.2,1.2 0 1,0 2.4,0a1.2,1.2 0 1,0 -2.4,0M146.2,158.0a1.2,1.2 0 1,0 2.4,0a1.2,1.2 0 1,0 -2.4,0M140.0,84.3a1.2,1.2 0 1,0 2.4,0a1.2,1.2 0 1,0 -2.4,0M145.1,152.9a1.2,1.2 0 1,0 2.4,0a1.2,1.2 0 1,0 -2.4,0M129.7,137.3a1.2,1.2 0 1,0 2.4,0a1.2,1.2 0 1,0 -2.4,0M139.0,84.9a1.2,1.2 0 1,0 2.4,0a1.2,1.2 0 1,0 -2.4,0M140.0,104.7a1.2,1.2 0 1,0 2.4,0a1.2,1.2 0 1,0 -2.4,0M136.7,179.3a1.2,1.2 0 1,0 2.4,0a1.2,1.2 0 1,0 -2.4,0M129.6,141.7a1.2,1.2 0 1,0 2.4,0a1.2,1.2 0 1,0 -2.4,0M151.4,137.5a1.2,1.2 0 1,0 2.4,0a1.2,1.2 0 1,0 -2.4,0M139.7,131.6a1.2,1.2 0 1,0 2.4,0a1.2,1.2 0 1,0 -2.4,0M142.1,150.6a1.2,1.2 0 1,0 2.4,0a1.2,1.2 0 1,0 -2.4,0M138.9,150.9a1.2,1.2 0 1,0 2.4,0a1.2,1.2 0 1,0 -2.4,0M140.4,193.4a1.2,1.2 0 1,0 2.4,0a1.2,1.2 0 1,0 -2.4,0M138.2,181.3a1.2,1.2 0 1,0 2.4,0a1.2,1.2 0 1,0 -2.4,0M149.8,140.2a1.2,1.2 0 1,0 2.4,0a1.2,1.2 0 1,0 -2.4,0M143.0,172.5a1.2,1.2 0 1,0 2.4,0a1.2,1.2 0 1,0 -2.4,0M131.3,157.8a1.2,1.2 0 1,0 2.4,0a1.2,1.2 0 1,0 -2.4,0M144.8,150.7a1.2,1.2 0 1,0 2.4,0a1.2,1.2 0 1,0 -2.4,0M138.1,173.4a1.2,1.2 0 1,0 2.4,0a1.2,1.2 0 1,0 -2.4,0M141.3,182.7a1.2,1.2 0 1,0 2.4,0a1.2,1.2 0 1,0 -2.4,0M138.5,109.9a1.2,1.2 0 1,0 2.4,0a1.2,1.2 0 1,0 -2.4,0M151.3,146.0a1.2,1.2 0 1,0 2.4,0a1.2,1.2 0 1,0 -2.4,0M148.3,157.6a1.2,1.2 0 1,0 2.4,0a1.2,1.2 0 1,0 -2.4,0M128.9,131.2a1.2,1.2 0 1,0 2.4,0a1.2,1.2 0 1,0 -2.4,0M140.4,190.9a1.2,1.2 0 1,0 2.4,0a1.2,1.2 0 1,0 -2.4,0M140.0,155.1a1.2,1.2 0 1,0 2.4,0a1.2,1.2 0 1,0 -2.4,0M141.0,101.3a1.2,1.2 0 1,0 2.4,0a1.2,1.2 0 1,0 -2.4,0M140.6,115.1a1.2,1.2 0 1,0 2.4,0a1.2,1.2 0 1,0 -2.4,0M142.9,135.6a1.2,1.2 0 1,0 2.4,0a1.2,1.2 0 1,0 -2.4,0M142.7,169.7a1.2,1.2 0 1,0 2.4,0a1.2,1.2 0 1,0 -2.4,0M134.3,151.4a1.2,1.2 0 1,0 2.4,0a1.2,1.2 0 1,0 -2.4,0M138.7,183.7a1.2,1.2 0 1,0 2.4,0a1.2,1.2 0 1,0 -2.4,0M138.6,156.7a1.2,1.2 0 1,0 2.4,0a1.2,1.2 0 1,0 -2.4,0M141.1,184.6a1.2,1.2 0 1,0 2.4,0a1.2,1.2 0 1,0 -2.4,0M136.1,165.1a1.2,1.2 0 1,0 2.4,0a1.2,1.2 0 1,0 -2.4,0M137.2,135.7a1.2,1.2 0 1,0 2.4,0a1.2,1.2 0 1,0 -2.4,0M137.2,168.6a1.2,1.2 0 1,0 2.4,0a1.2,1.2 0 1,0 -2.4,0M138.8,56.9a1.2,1.2 0 1,0 2.4,0a1.2,1.2 0 1,0 -2.4,0M139.7,64.2a1.2,1.2 0 1,0 2.4,0a1.2,1.2 0 1,0 -2.4,0M139.5,70.3a1.2,1.2 0 1,0 2.4,0a1.2,1.2 0 1,0 -2.4,0M139.8,208.0a1.2,1.2 0 1,0 2.4,0a1.2,1.2 0 1,0 -2.4,0" fill="#134f8c"/>
<line x1="94.50" y1="112.68" x2="94.50" y2="145.28" stroke="#000" stroke-width="1.6" />
<line x1="86.30" y1="112.68" x2="102.70" y2="112.68" stroke="#000" stroke-width="1.6" />
<line x1="86.30" y1="145.28" x2="102.70" y2="145.28" stroke="#000" stroke-width="1.6" />
<line x1="140.50" y1="119.20" x2="140.50" y2="159.95" stroke="#000" stroke-width="1.6" />
<line x1="132.30" y1="119.20" x2="148.70" y2="119.20" stroke="#000" stroke-width="1.6" />
<line x1="132.30" y1="159.95" x2="148.70" y2="159.95" stroke="#000" stroke-width="1.6" />
<line x1="63.50" y1="45.85" x2="63.50" y2="217.60" stroke="#111" stroke-width="1.3" />
<line x1="62.90" y1="217.00" x2="172.50" y2="217.00" stroke="#111" stroke-width="1.3" />
<line x1="59.00" y1="217.00" x2="63.50" y2="217.00" stroke="#111" stroke-width="1.2" />
<text x="55.0" y="220.6" font-size="10.5" text-anchor="end" font-weight="normal" fill="#111" >5</text>
<line x1="59.00" y1="176.25" x2="63.50" y2="176.25" stroke="#111" stroke-width="1.2" />
<text x="55.0" y="179.85" font-size="10.5" text-anchor="end" font-weight="normal" fill="#111" >6</text>
<line x1="59.00" y1="135.50" x2="63.50" y2="135.50" stroke="#111" stroke-width="1.2" />
<text x="55.0" y="139.1" font-size="10.5" text-anchor="end" font-weight="normal" fill="#111" >7</text>
<line x1="59.00" y1="94.75" x2="63.50" y2="94.75" stroke="#111" stroke-width="1.2" />
<text x="55.0" y="98.35" font-size="10.5" text-anchor="end" font-weight="normal" fill="#111" >8</text>
<line x1="59.00" y1="54.00" x2="63.50" y2="54.00" stroke="#111" stroke-width="1.2" />
<text x="55.0" y="57.6" font-size="10.5" text-anchor="end" font-weight="normal" fill="#111" >9</text>
<line x1="94.50" y1="217.00" x2="94.50" y2="221.50" stroke="#111" stroke-width="1.2" />
<line x1="140.50" y1="217.00" x2="140.50" y2="221.50" stroke="#111" stroke-width="1.2" />
<text transform="translate(41.2,131) rotate(-90)" x="0" y="0" font-size="12.2" font-weight="bold" text-anchor="middle" fill="#111" textLength="64.5" lengthAdjust="spacingAndGlyphs">TET2 log2_CPM</text>
<path d="M87,60 V50.8 H144.5 V60" fill="none" stroke="#111" stroke-width="1.2"/>
<path d="M109.35,45.45 L110.02,47.07 L111.78,47.21 L110.44,48.35 L110.85,50.06 L109.35,49.15 L107.85,50.06 L108.26,48.35 L106.92,47.21 L108.68,47.07ZM113.80,45.45 L114.47,47.07 L116.23,47.21 L114.89,48.35 L115.30,50.06 L113.80,49.15 L112.30,50.06 L112.71,48.35 L111.37,47.21 L113.13,47.07ZM118.25,45.45 L118.92,47.07 L120.68,47.21 L119.34,48.35 L119.75,50.06 L118.25,49.15 L116.75,50.06 L117.16,48.35 L115.82,47.21 L117.58,47.07Z" fill="#111"/>
<text x="93.7" y="234.2" font-size="10.5" text-anchor="middle" font-weight="normal" fill="#111" >HC</text>
<text x="141.3" y="234.2" font-size="10.5" text-anchor="middle" font-weight="normal" fill="#111" >WT MDS</text>
<text x="273.7" y="32.1" font-size="12" text-anchor="middle" font-weight="normal" fill="#111" >TET3</text>
<line x1="231.50" y1="36.50" x2="316.00" y2="36.50" stroke="#111" stroke-width="1.3" />
<rect x="244.8" y="140.85" width="28.19999999999999" height="76.15" fill="#e08a97"/>
<rect x="289.4" y="122.41" width="28.30000000000001" height="94.59" fill="#89a8c3"/>
<path d="M262.0,160.1a1.75,1.75 0 1,0 3.5,0a1.75,1.75 0 1,0 -3.5,0M265.9,133.9a1.75,1.75 0 1,0 3.5,0a1.75,1.75 0 1,0 -3.5,0M261.5,152.5a1.75,1.75 0 1,0 3.5,0a1.75,1.75 0 1,0 -3.5,0M250.3,139.8a1.75,1.75 0 1,0 3.5,0a1.75,1.75 0 1,0 -3.5,0M258.5,142.2a1.75,1.75 0 1,0 3.5,0a1.75,1.75 0 1,0 -3.5,0M248.4,135.8a1.75,1.75 0 1,0 3.5,0a1.75,1.75 0 1,0 -3.5,0M261.6,136.4a1.75,1.75 0 1,0 3.5,0a1.75,1.75 0 1,0 -3.5,0M259.0,115.2a1.75,1.75 0 1,0 3.5,0a1.75,1.75 0 1,0 -3.5,0M251.9,133.7a1.75,1.75 0 1,0 3.5,0a1.75,1.75 0 1,0 -3.5,0M255.6,147.1a1.75,1.75 0 1,0 3.5,0a1.75,1.75 0 1,0 -3.5,0M264.4,123.3a1.75,1.75 0 1,0 3.5,0a1.75,1.75 0 1,0 -3.5,0M253.5,160.0a1.75,1.75 0 1,0 3.5,0a1.75,1.75 0 1,0 -3.5,0M250.2,124.5a1.75,1.75 0 1,0 3.5,0a1.75,1.75 0 1,0 -3.5,0M258.3,136.1a1.75,1.75 0 1,0 3.5,0a1.75,1.75 0 1,0 -3.5,0M253.5,152.7a1.75,1.75 0 1,0 3.5,0a1.75,1.75 0 1,0 -3.5,0M259.7,125.9a1.75,1.75 0 1,0 3.5,0a1.75,1.75 0 1,0 -3.5,0M259.9,164.0a1.75,1.75 0 1,0 3.5,0a1.75,1.75 0 1,0 -3.5,0M255.9,172.9a1.75,1.75 0 1,0 3.5,0a1.75,1.75 0 1,0 -3.5,0M257.7,152.0a1.75,1.75 0 1,0 3.5,0a1.75,1.75 0 1,0 -3.5,0M247.0,139.4a1.75,1.75 0 1,0 3.5,0a1.75,1.75 0 1,0 -3.5,0M260.0,133.3a1.75,1.75 0 1,0 3.5,0a1.75,1.75 0 1,0 -3.5,0M252.9,149.3a1.75,1.75 0 1,0 3.5,0a1.75,1.75 0 1,0 -3.5,0M254.1,136.0a1.75,1.75 0 1,0 3.5,0a1.75,1.75 0 1,0 -3.5,0M259.5,109.4a1.75,1.75 0 1,0 3.5,0a1.75,1.75 0 1,0 -3.5,0M257.1,105.8a1.75,1.75 0 1,0 3.5,0a1.75,1.75 0 1,0 -3.5,0M253.1,127.9a1.75,1.75 0 1,0 3.5,0a1.75,1.75 0 1,0 -3.5,0M264.1,150.0a1.75,1.75 0 1,0 3.5,0a1.75,1.75 0 1,0 -3.5,0M263.9,140.7a1.75,1.75 0 1,0 3.5,0a1.75,1.75 0 1,0 -3.5,0M258.3,122.5a1.75,1.75 0 1,0 3.5,0a1.75,1.75 0 1,0 -3.5,0M255.1,117.3a1.75,1.75 0 1,0 3.5,0a1.75,1.75 0 1,0 -3.5,0M253.5,112.6a1.75,1.75 0 1,0 3.5,0a1.75,1.75 0 1,0 -3.5,0M249.0,145.1a1.75,1.75 0 1,0 3.5,0a1.75,1.75 0 1,0 -3.5,0M259.6,147.9a1.75,1.75 0 1,0 3.5,0a1.75,1.75 0 1,0 -3.5,0M249.9,148.0a1.75,1.75 0 1,0 3.5,0a1.75,1.75 0 1,0 -3.5,0M254.0,123.9a1.75,1.75 0 1,0 3.5,0a1.75,1.75 0 1,0 -3.5,0M257.3,112.0a1.75,1.75 0 1,0 3.5,0a1.75,1.75 0 1,0 -3.5,0M265.1,136.7a1.75,1.75 0 1,0 3.5,0a1.75,1.75 0 1,0 -3.5,0M266.6,142.3a1.75,1.75 0 1,0 3.5,0a1.75,1.75 0 1,0 -3.5,0M249.3,131.3a1.75,1.75 0 1,0 3.5,0a1.75,1.75 0 1,0 -3.5,0M253.5,143.4a1.75,1.75 0 1,0 3.5,0a1.75,1.75 0 1,0 -3.5,0M251.2,136.4a1.75,1.75 0 1,0 3.5,0a1.75,1.75 0 1,0 -3.5,0M256.9,157.9a1.75,1.75 0 1,0 3.5,0a1.75,1.75 0 1,0 -3.5,0M254.1,165.4a1.75,1.75 0 1,0 3.5,0a1.75,1.75 0 1,0 -3.5,0M263.1,144.2a1.75,1.75 0 1,0 3.5,0a1.75,1.75 0 1,0 -3.5,0M250.4,152.2a1.75,1.75 0 1,0 3.5,0a1.75,1.75 0 1,0 -3.5,0M258.8,160.8a1.75,1.75 0 1,0 3.5,0a1.75,1.75 0 1,0 -3.5,0M261.7,111.2a1.75,1.75 0 1,0 3.5,0a1.75,1.75 0 1,0 -3.5,0M263.6,129.4a1.75,1.75 0 1,0 3.5,0a1.75,1.75 0 1,0 -3.5,0M257.8,145.1a1.75,1.75 0 1,0 3.5,0a1.75,1.75 0 1,0 -3.5,0M255.0,107.5a1.75,1.75 0 1,0 3.5,0a1.75,1.75 0 1,0 -3.5,0M257.3,164.6a1.75,1.75 0 1,0 3.5,0a1.75,1.75 0 1,0 -3.5,0M265.7,147.3a1.75,1.75 0 1,0 3.5,0a1.75,1.75 0 1,0 -3.5,0M256.5,187.6a1.75,1.75 0 1,0 3.5,0a1.75,1.75 0 1,0 -3.5,0M257.2,106.3a1.75,1.75 0 1,0 3.5,0a1.75,1.75 0 1,0 -3.5,0" fill="#c60a24"/>
<path d="M310.6,110.5a1.2,1.2 0 1,0 2.4,0a1.2,1.2 0 1,0 -2.4,0M305.0,93.6a1.2,1.2 0 1,0 2.4,0a1.2,1.2 0 1,0 -2.4,0M311.5,114.6a1.2,1.2 0 1,0 2.4,0a1.2,1.2 0 1,0 -2.4,0M299.8,102.4a1.2,1.2 0 1,0 2.4,0a1.2,1.2 0 1,0 -2.4,0M299.0,118.6a1.2,1.2 0 1,0 2.4,0a1.2,1.2 0 1,0 -2.4,0M308.4,134.3a1.2,1.2 0 1,0 2.4,0a1.2,1.2 0 1,0 -2.4,0M293.7,123.9a1.2,1.2 0 1,0 2.4,0a1.2,1.2 0 1,0 -2.4,0M307.7,114.9a1.2,1.2 0 1,0 2.4,0a1.2,1.2 0 1,0 -2.4,0M303.0,118.6a1.2,1.2 0 1,0 2.4,0a1.2,1.2 0 1,0 -2.4,0M306.4,106.7a1.2,1.2 0 1,0 2.4,0a1.2,1.2 0 1,0 -2.4,0M307.5,118.2a1.2,1.2 0 1,0 2.4,0a1.2,1.2 0 1,0 -2.4,0M307.0,125.7a1.2,1.2 0 1,0 2.4,0a1.2,1.2 0 1,0 -2.4,0M295.5,119.4a1.2,1.2 0 1,0 2.4,0a1.2,1.2 0 1,0 -2.4,0M290.0,119.2a1.2,1.2 0 1,0 2.4,0a1.2,1.2 0 1,0 -2.4,0M304.4,161.6a1.2,1.2 0 1,0 2.4,0a1.2,1.2 0 1,0 -2.4,0M313.0,128.2a1.2,1.2 0 1,0 2.4,0a1.2,1.2 0 1,0 -2.4,0M302.5,116.6a1.2,1.2 0 1,0 2.4,0a1.2,1.2 0 1,0 -2.4,0M306.9,110.1a1.2,1.2 0 1,0 2.4,0a1.2,1.2 0 1,0 -2.4,0M291.4,123.6a1.2,1.2 0 1,0 2.4,0a1.2,1.2 0 1,0 -2.4,0M301.3,108.6a1.2,1.2 0 1,0 2.4,0a1.2,1.2 0 1,0 -2.4,0M304.6,120.0a1.2,1.2 0 1,0 2.4,0a1.2,1.2 0 1,0 -2.4,0M294.6,126.3a1.2,1.2 0 1,0 2.4,0a1.2,1.2 0 1,0 -2.4,0M294.3,132.9a1.2,1.2 0 1,0 2.4,0a1.2,1.2 0 1,0 -2.4,0M313.0,105.9a1.2,1.2 0 1,0 2.4,0a1.2,1.2 0 1,0 -2.4,0M306.5,96.8a1.2,1.2 0 1,0 2.4,0a1.2,1.2 0 1,0 -2.4,0M293.5,109.4a1.2,1.2 0 1,0 2.4,0a1.2,1.2 0 1,0 -2.4,0M296.6,134.4a1.2,1.2 0 1,0 2.4,0a1.2,1.2 0 1,0 -2.4,0M299.0,110.4a1.2,1.2 0 1,0 2.4,0a1.2,1.2 0 1,0 -2.4,0M291.9,119.9a1.2,1.2 0 1,0 2.4,0a1.2,1.2 0 1,0 -2.4,0M300.2,96.5a1.2,1.2 0 1,0 2.4,0a1.2,1.2 0 1,0 -2.4,0M301.5,162.8a1.2,1.2 0 1,0 2.4,0a1.2,1.2 0 1,0 -2.4,0M294.6,107.2a1.2,1.2 0 1,0 2.4,0a1.2,1.2 0 1,0 -2.4,0M313.1,121.8a1.2,1.2 0 1,0 2.4,0a1.2,1.2 0 1,0 -2.4,0M305.1,102.4a1.2,1.2 0 1,0 2.4,0a1.2,1.2 0 1,0 -2.4,0M298.1,115.0a1.2,1.2 0 1,0 2.4,0a1.2,1.2 0 1,0 -2.4,0M302.9,162.3a1.2,1.2 0 1,0 2.4,0a1.2,1.2 0 1,0 -2.4,0M288.3,111.0a1.2,1.2 0 1,0 2.4,0a1.2,1.2 0 1,0 -2.4,0M313.2,118.5a1.2,1.2 0 1,0 2.4,0a1.2,1.2 0 1,0 -2.4,0M304.5,133.1a1.2,1.2 0 1,0 2.4,0a1.2,1.2 0 1,0 -2.4,0M304.9,143.5a1.2,1.2 0 1,0 2.4,0a1.2,1.2 0 1,0 -2.4,0M313.4,125.0a1.2,1.2 0 1,0 2.4,0a1.2,1.2 0 1,0 -2.4,0M311.0,117.2a1.2,1.2 0 1,0 2.4,0a1.2,1.2 0 1,0 -2.4,0M297.8,121.2a1.2,1.2 0 1,0 2.4,0a1.2,1.2 0 1,0 -2.4,0M302.3,159.8a1.2,1.2 0 1,0 2.4,0a1.2,1.2 0 1,0 -2.4,0M299.6,140.6a1.2,1.2 0 1,0 2.4,0a1.2,1.2 0 1,0 -2.4,0M301.2,111.5a1.2,1.2 0 1,0 2.4,0a1.2,1.2 0 1,0 -2.4,0M293.8,117.9a1.2,1.2 0 1,0 2.4,0a1.2,1.2 0 1,0 -2.4,0M296.5,108.7a1.2,1.2 0 1,0 2.4,0a1.2,1.2 0 1,0 -2.4,0M311.0,124.2a1.2,1.2 0 1,0 2.4,0a1.2,1.2 0 1,0 -2.4,0M301.0,132.0a1.2,1.2 0 1,0 2.4,0a1.2,1.2 0 1,0 -2.4,0M309.3,105.9a1.2,1.2 0 1,0 2.4,0a1.2,1.2 0 1,0 -2.4,0M299.2,134.5a1.2,1.2 0 1,0 2.4,0a1.2,1.2 0 1,0 -2.4,0M301.1,151.9a1.2,1.2 0 1,0 2.4,0a1.2,1.2 0 1,0 -2.4,0M304.0,126.4a1.2,1.2 0 1,0 2.4,0a1.2,1.2 0 1,0 -2.4,0M306.6,122.5a1.2,1.2 0 1,0 2.4,0a1.2,1.2 0 1,0 -2.4,0M303.0,135.2a1.2,1.2 0 1,0 2.4,0a1.2,1.2 0 1,0 -2.4,0M301.7,92.5a1.2,1.2 0 1,0 2.4,0a1.2,1.2 0 1,0 -2.4,0M311.2,133.6a1.2,1.2 0 1,0 2.4,0a1.2,1.2 0 1,0 -2.4,0M301.5,143.5a1.2,1.2 0 1,0 2.4,0a1.2,1.2 0 1,0 -2.4,0M308.6,112.4a1.2,1.2 0 1,0 2.4,0a1.2,1.2 0 1,0 -2.4,0M304.7,141.1a1.2,1.2 0 1,0 2.4,0a1.2,1.2 0 1,0 -2.4,0M303.6,130.7a1.2,1.2 0 1,0 2.4,0a1.2,1.2 0 1,0 -2.4,0M298.2,124.3a1.2,1.2 0 1,0 2.4,0a1.2,1.2 0 1,0 -2.4,0M307.9,131.0a1.2,1.2 0 1,0 2.4,0a1.2,1.2 0 1,0 -2.4,0M293.5,112.7a1.2,1.2 0 1,0 2.4,0a1.2,1.2 0 1,0 -2.4,0M307.9,141.5a1.2,1.2 0 1,0 2.4,0a1.2,1.2 0 1,0 -2.4,0M290.7,113.2a1.2,1.2 0 1,0 2.4,0a1.2,1.2 0 1,0 -2.4,0M307.1,144.3a1.2,1.2 0 1,0 2.4,0a1.2,1.2 0 1,0 -2.4,0M290.3,116.2a1.2,1.2 0 1,0 2.4,0a1.2,1.2 0 1,0 -2.4,0M301.4,87.7a1.2,1.2 0 1,0 2.4,0a1.2,1.2 0 1,0 -2.4,0M298.5,106.5a1.2,1.2 0 1,0 2.4,0a1.2,1.2 0 1,0 -2.4,0M297.9,93.9a1.2,1.2 0 1,0 2.4,0a1.2,1.2 0 1,0 -2.4,0M305.1,117.9a1.2,1.2 0 1,0 2.4,0a1.2,1.2 0 1,0 -2.4,0M296.0,139.6a1.2,1.2 0 1,0 2.4,0a1.2,1.2 0 1,0 -2.4,0M289.7,126.3a1.2,1.2 0 1,0 2.4,0a1.2,1.2 0 1,0 -2.4,0M290.8,107.1a1.2,1.2 0 1,0 2.4,0a1.2,1.2 0 1,0 -2.4,0M297.9,142.4a1.2,1.2 0 1,0 2.4,0a1.2,1.2 0 1,0 -2.4,0M312.6,112.3a1.2,1.2 0 1,0 2.4,0a1.2,1.2 0 1,0 -2.4,0M315.4,128.5a1.2,1.2 0 1,0 2.4,0a1.2,1.2 0 1,0 -2.4,0M303.7,97.2a1.2,1.2 0 1,0 2.4,0a1.2,1.2 0 1,0 -2.4,0M292.0,127.2a1.2,1.2 0 1,0 2.4,0a1.2,1.2 0 1,0 -2.4,0M310.1,128.5a1.2,1.2 0 1,0 2.4,0a1.2,1.2 0 1,0 -2.4,0M299.1,131.1a1.2,1.2 0 1,0 2.4,0a1.2,1.2 0 1,0 -2.4,0M297.0,118.2a1.2,1.2 0 1,0 2.4,0a1.2,1.2 0 1,0 -2.4,0M299.6,93.0a1.2,1.2 0 1,0 2.4,0a1.2,1.2 0 1,0 -2.4,0M315.1,118.2a1.2,1.2 0 1,0 2.4,0a1.2,1.2 0 1,0 -2.4,0M304.3,108.8a1.2,1.2 0 1,0 2.4,0a1.2,1.2 0 1,0 -2.4,0M309.9,119.1a1.2,1.2 0 1,0 2.4,0a1.2,1.2 0 1,0 -2.4,0M304.6,148.7a1.2,1.2 0 1,0 2.4,0a1.2,1.2 0 1,0 -2.4,0M296.2,115.9a1.2,1.2 0 1,0 2.4,0a1.2,1.2 0 1,0 -2.4,0M305.6,115.5a1.2,1.2 0 1,0 2.4,0a1.2,1.2 0 1,0 -2.4,0M315.4,115.5a1.2,1.2 0 1,0 2.4,0a1.2,1.2 0 1,0 -2.4,0M301.7,129.7a1.2,1.2 0 1,0 2.4,0a1.2,1.2 0 1,0 -2.4,0M305.8,131.4a1.2,1.2 0 1,0 2.4,0a1.2,1.2 0 1,0 -2.4,0M306.5,128.2a1.2,1.2 0 1,0 2.4,0a1.2,1.2 0 1,0 -2.4,0M301.8,156.9a1.2,1.2 0 1,0 2.4,0a1.2,1.2 0 1,0 -2.4,0M307.3,139.3a1.2,1.2 0 1,0 2.4,0a1.2,1.2 0 1,0 -2.4,0M295.6,130.3a1.2,1.2 0 1,0 2.4,0a1.2,1.2 0 1,0 -2.4,0M300.4,119.5a1.2,1.2 0 1,0 2.4,0a1.2,1.2 0 1,0 -2.4,0M308.7,97.8a1.2,1.2 0 1,0 2.4,0a1.2,1.2 0 1,0 -2.4,0M314.2,110.6a1.2,1.2 0 1,0 2.4,0a1.2,1.2 0 1,0 -2.4,0M314.5,119.4a1.2,1.2 0 1,0 2.4,0a1.2,1.2 0 1,0 -2.4,0M291.4,109.9a1.2,1.2 0 1,0 2.4,0a1.2,1.2 0 1,0 -2.4,0M315.1,122.8a1.2,1.2 0 1,0 2.4,0a1.2,1.2 0 1,0 -2.4,0M305.9,154.0a1.2,1.2 0 1,0 2.4,0a1.2,1.2 0 1,0 -2.4,0M296.9,111.3a1.2,1.2 0 1,0 2.4,0a1.2,1.2 0 1,0 -2.4,0M316.7,110.4a1.2,1.2 0 1,0 2.4,0a1.2,1.2 0 1,0 -2.4,0M305.0,112.7a1.2,1.2 0 1,0 2.4,0a1.2,1.2 0 1,0 -2.4,0M307.7,102.6a1.2,1.2 0 1,0 2.4,0a1.2,1.2 0 1,0 -2.4,0M303.3,106.8a1.2,1.2 0 1,0 2.4,0a1.2,1.2 0 1,0 -2.4,0M301.0,104.1a1.2,1.2 0 1,0 2.4,0a1.2,1.2 0 1,0 -2.4,0M300.1,154.2a1.2,1.2 0 1,0 2.4,0a1.2,1.2 0 1,0 -2.4,0M302.1,75.9a1.2,1.2 0 1,0 2.4,0a1.2,1.2 0 1,0 -2.4,0M293.0,115.8a1.2,1.2 0 1,0 2.4,0a1.2,1.2 0 1,0 -2.4,0M300.9,115.6a1.2,1.2 0 1,0 2.4,0a1.2,1.2 0 1,0 -2.4,0M289.5,114.6a1.2,1.2 0 1,0 2.4,0a1.2,1.2 0 1,0 -2.4,0M312.4,131.2a1.2,1.2 0 1,0 2.4,0a1.2,1.2 0 1,0 -2.4,0M290.2,129.5a1.2,1.2 0 1,0 2.4,0a1.2,1.2 0 1,0 -2.4,0M296.9,100.8a1.2,1.2 0 1,0 2.4,0a1.2,1.2 0 1,0 -2.4,0M313.4,115.3a1.2,1.2 0 1,0 2.4,0a1.2,1.2 0 1,0 -2.4,0M304.2,91.7a1.2,1.2 0 1,0 2.4,0a1.2,1.2 0 1,0 -2.4,0M305.4,135.2a1.2,1.2 0 1,0 2.4,0a1.2,1.2 0 1,0 -2.4,0M294.6,116.0a1.2,1.2 0 1,0 2.4,0a1.2,1.2 0 1,0 -2.4,0M309.7,115.3a1.2,1.2 0 1,0 2.4,0a1.2,1.2 0 1,0 -2.4,0M304.6,155.7a1.2,1.2 0 1,0 2.4,0a1.2,1.2 0 1,0 -2.4,0M303.7,114.0a1.2,1.2 0 1,0 2.4,0a1.2,1.2 0 1,0 -2.4,0M300.8,125.6a1.2,1.2 0 1,0 2.4,0a1.2,1.2 0 1,0 -2.4,0M295.9,123.5a1.2,1.2 0 1,0 2.4,0a1.2,1.2 0 1,0 -2.4,0M307.7,137.1a1.2,1.2 0 1,0 2.4,0a1.2,1.2 0 1,0 -2.4,0M304.1,115.5a1.2,1.2 0 1,0 2.4,0a1.2,1.2 0 1,0 -2.4,0M303.0,111.9a1.2,1.2 0 1,0 2.4,0a1.2,1.2 0 1,0 -2.4,0M299.9,99.6a1.2,1.2 0 1,0 2.4,0a1.2,1.2 0 1,0 -2.4,0M294.2,103.3a1.2,1.2 0 1,0 2.4,0a1.2,1.2 0 1,0 -2.4,0M303.5,87.3a1.2,1.2 0 1,0 2.4,0a1.2,1.2 0 1,0 -2.4,0M304.5,88.5a1.2,1.2 0 1,0 2.4,0a1.2,1.2 0 1,0 -2.4,0M308.6,110.7a1.2,1.2 0 1,0 2.4,0a1.2,1.2 0 1,0 -2.4,0M310.2,130.6a1.2,1.2 0 1,0 2.4,0a1.2,1.2 0 1,0 -2.4,0M291.0,118.2a1.2,1.2 0 1,0 2.4,0a1.2,1.2 0 1,0 -2.4,0M298.7,148.6a1.2,1.2 0 1,0 2.4,0a1.2,1.2 0 1,0 -2.4,0M298.2,116.9a1.2,1.2 0 1,0 2.4,0a1.2,1.2 0 1,0 -2.4,0M297.8,129.3a1.2,1.2 0 1,0 2.4,0a1.2,1.2 0 1,0 -2.4,0M300.9,118.4a1.2,1.2 0 1,0 2.4,0a1.2,1.2 0 1,0 -2.4,0M310.3,108.4a1.2,1.2 0 1,0 2.4,0a1.2,1.2 0 1,0 -2.4,0M298.8,151.9a1.2,1.2 0 1,0 2.4,0a1.2,1.2 0 1,0 -2.4,0M302.5,100.9a1.2,1.2 0 1,0 2.4,0a1.2,1.2 0 1,0 -2.4,0M298.9,155.6a1.2,1.2 0 1,0 2.4,0a1.2,1.2 0 1,0 -2.4,0M308.1,120.6a1.2,1.2 0 1,0 2.4,0a1.2,1.2 0 1,0 -2.4,0M293.7,134.5a1.2,1.2 0 1,0 2.4,0a1.2,1.2 0 1,0 -2.4,0M302.6,155.4a1.2,1.2 0 1,0 2.4,0a1.2,1.2 0 1,0 -2.4,0M294.2,121.1a1.2,1.2 0 1,0 2.4,0a1.2,1.2 0 1,0 -2.4,0M292.7,131.7a1.2,1.2 0 1,0 2.4,0a1.2,1.2 0 1,0 -2.4,0M300.9,149.1a1.2,1.2 0 1,0 2.4,0a1.2,1.2 0 1,0 -2.4,0M303.8,104.4a1.2,1.2 0 1,0 2.4,0a1.2,1.2 0 1,0 -2.4,0M297.4,132.7a1.2,1.2 0 1,0 2.4,0a1.2,1.2 0 1,0 -2.4,0M302.6,94.9a1.2,1.2 0 1,0 2.4,0a1.2,1.2 0 1,0 -2.4,0M291.3,114.9a1.2,1.2 0 1,0 2.4,0a1.2,1.2 0 1,0 -2.4,0M311.2,127.0a1.2,1.2 0 1,0 2.4,0a1.2,1.2 0 1,0 -2.4,0M305.6,151.9a1.2,1.2 0 1,0 2.4,0a1.2,1.2 0 1,0 -2.4,0M310.0,102.4a1.2,1.2 0 1,0 2.4,0a1.2,1.2 0 1,0 -2.4,0M299.5,145.2a1.2,1.2 0 1,0 2.4,0a1.2,1.2 0 1,0 -2.4,0M300.4,107.1a1.2,1.2 0 1,0 2.4,0a1.2,1.2 0 1,0 -2.4,0M311.5,118.7a1.2,1.2 0 1,0 2.4,0a1.2,1.2 0 1,0 -2.4,0M310.0,122.3a1.2,1.2 0 1,0 2.4,0a1.2,1.2 0 1,0 -2.4,0M306.8,149.0a1.2,1.2 0 1,0 2.4,0a1.2,1.2 0 1,0 -2.4,0M302.2,124.0a1.2,1.2 0 1,0 2.4,0a1.2,1.2 0 1,0 -2.4,0M300.1,159.9a1.2,1.2 0 1,0 2.4,0a1.2,1.2 0 1,0 -2.4,0M308.2,107.7a1.2,1.2 0 1,0 2.4,0a1.2,1.2 0 1,0 -2.4,0M295.1,110.4a1.2,1.2 0 1,0 2.4,0a1.2,1.2 0 1,0 -2.4,0M302.3,141.9a1.2,1.2 0 1,0 2.4,0a1.2,1.2 0 1,0 -2.4,0M306.2,119.7a1.2,1.2 0 1,0 2.4,0a1.2,1.2 0 1,0 -2.4,0M304.4,137.7a1.2,1.2 0 1,0 2.4,0a1.2,1.2 0 1,0 -2.4,0M302.9,110.2a1.2,1.2 0 1,0 2.4,0a1.2,1.2 0 1,0 -2.4,0M297.5,136.8a1.2,1.2 0 1,0 2.4,0a1.2,1.2 0 1,0 -2.4,0M299.5,138.2a1.2,1.2 0 1,0 2.4,0a1.2,1.2 0 1,0 -2.4,0M291.9,130.4a1.2,1.2 0 1,0 2.4,0a1.2,1.2 0 1,0 -2.4,0M302.6,89.5a1.2,1.2 0 1,0 2.4,0a1.2,1.2 0 1,0 -2.4,0M307.2,104.7a1.2,1.2 0 1,0 2.4,0a1.2,1.2 0 1,0 -2.4,0M308.9,124.8a1.2,1.2 0 1,0 2.4,0a1.2,1.2 0 1,0 -2.4,0M292.7,106.1a1.2,1.2 0 1,0 2.4,0a1.2,1.2 0 1,0 -2.4,0M297.7,126.7a1.2,1.2 0 1,0 2.4,0a1.2,1.2 0 1,0 -2.4,0M295.2,136.9a1.2,1.2 0 1,0 2.4,0a1.2,1.2 0 1,0 -2.4,0M306.2,99.2a1.2,1.2 0 1,0 2.4,0a1.2,1.2 0 1,0 -2.4,0M300.4,155.8a1.2,1.2 0 1,0 2.4,0a1.2,1.2 0 1,0 -2.4,0M296.2,106.2a1.2,1.2 0 1,0 2.4,0a1.2,1.2 0 1,0 -2.4,0M306.0,91.8a1.2,1.2 0 1,0 2.4,0a1.2,1.2 0 1,0 -2.4,0M302.4,148.5a1.2,1.2 0 1,0 2.4,0a1.2,1.2 0 1,0 -2.4,0M295.8,102.1a1.2,1.2 0 1,0 2.4,0a1.2,1.2 0 1,0 -2.4,0M311.2,106.9a1.2,1.2 0 1,0 2.4,0a1.2,1.2 0 1,0 -2.4,0M301.3,154.8a1.2,1.2 0 1,0 2.4,0a1.2,1.2 0 1,0 -2.4,0M304.5,122.8a1.2,1.2 0 1,0 2.4,0a1.2,1.2 0 1,0 -2.4,0M296.1,131.8a1.2,1.2 0 1,0 2.4,0a1.2,1.2 0 1,0 -2.4,0M315.9,125.7a1.2,1.2 0 1,0 2.4,0a1.2,1.2 0 1,0 -2.4,0M292.6,125.8a1.2,1.2 0 1,0 2.4,0a1.2,1.2 0 1,0 -2.4,0M305.2,125.2a1.2,1.2 0 1,0 2.4,0a1.2,1.2 0 1,0 -2.4,0M300.2,161.6a1.2,1.2 0 1,0 2.4,0a1.2,1.2 0 1,0 -2.4,0M294.2,131.2a1.2,1.2 0 1,0 2.4,0a1.2,1.2 0 1,0 -2.4,0M314.0,130.1a1.2,1.2 0 1,0 2.4,0a1.2,1.2 0 1,0 -2.4,0M315.3,112.9a1.2,1.2 0 1,0 2.4,0a1.2,1.2 0 1,0 -2.4,0M304.5,110.9a1.2,1.2 0 1,0 2.4,0a1.2,1.2 0 1,0 -2.4,0M313.5,108.4a1.2,1.2 0 1,0 2.4,0a1.2,1.2 0 1,0 -2.4,0M296.0,113.5a1.2,1.2 0 1,0 2.4,0a1.2,1.2 0 1,0 -2.4,0M295.2,99.4a1.2,1.2 0 1,0 2.4,0a1.2,1.2 0 1,0 -2.4,0M299.6,117.4a1.2,1.2 0 1,0 2.4,0a1.2,1.2 0 1,0 -2.4,0M293.7,128.9a1.2,1.2 0 1,0 2.4,0a1.2,1.2 0 1,0 -2.4,0M305.8,155.2a1.2,1.2 0 1,0 2.4,0a1.2,1.2 0 1,0 -2.4,0M312.2,109.5a1.2,1.2 0 1,0 2.4,0a1.2,1.2 0 1,0 -2.4,0M309.0,117.1a1.2,1.2 0 1,0 2.4,0a1.2,1.2 0 1,0 -2.4,0M301.4,139.1a1.2,1.2 0 1,0 2.4,0a1.2,1.2 0 1,0 -2.4,0M293.7,119.6a1.2,1.2 0 1,0 2.4,0a1.2,1.2 0 1,0 -2.4,0M307.0,94.1a1.2,1.2 0 1,0 2.4,0a1.2,1.2 0 1,0 -2.4,0M293.8,115.0a1.2,1.2 0 1,0 2.4,0a1.2,1.2 0 1,0 -2.4,0M299.7,129.1a1.2,1.2 0 1,0 2.4,0a1.2,1.2 0 1,0 -2.4,0M294.5,105.4a1.2,1.2 0 1,0 2.4,0a1.2,1.2 0 1,0 -2.4,0M296.8,125.2a1.2,1.2 0 1,0 2.4,0a1.2,1.2 0 1,0 -2.4,0M303.7,160.3a1.2,1.2 0 1,0 2.4,0a1.2,1.2 0 1,0 -2.4,0M303.5,149.1a1.2,1.2 0 1,0 2.4,0a1.2,1.2 0 1,0 -2.4,0M298.8,91.5a1.2,1.2 0 1,0 2.4,0a1.2,1.2 0 1,0 -2.4,0M300.2,147.2a1.2,1.2 0 1,0 2.4,0a1.2,1.2 0 1,0 -2.4,0M304.8,106.7a1.2,1.2 0 1,0 2.4,0a1.2,1.2 0 1,0 -2.4,0M303.6,156.9a1.2,1.2 0 1,0 2.4,0a1.2,1.2 0 1,0 -2.4,0M289.6,123.8a1.2,1.2 0 1,0 2.4,0a1.2,1.2 0 1,0 -2.4,0M297.1,130.6a1.2,1.2 0 1,0 2.4,0a1.2,1.2 0 1,0 -2.4,0M302.1,127.5a1.2,1.2 0 1,0 2.4,0a1.2,1.2 0 1,0 -2.4,0M305.9,147.6a1.2,1.2 0 1,0 2.4,0a1.2,1.2 0 1,0 -2.4,0M299.5,124.8a1.2,1.2 0 1,0 2.4,0a1.2,1.2 0 1,0 -2.4,0M315.1,107.9a1.2,1.2 0 1,0 2.4,0a1.2,1.2 0 1,0 -2.4,0M308.4,118.9a1.2,1.2 0 1,0 2.4,0a1.2,1.2 0 1,0 -2.4,0M300.1,142.3a1.2,1.2 0 1,0 2.4,0a1.2,1.2 0 1,0 -2.4,0M301.5,105.5a1.2,1.2 0 1,0 2.4,0a1.2,1.2 0 1,0 -2.4,0M306.7,101.3a1.2,1.2 0 1,0 2.4,0a1.2,1.2 0 1,0 -2.4,0M300.7,122.3a1.2,1.2 0 1,0 2.4,0a1.2,1.2 0 1,0 -2.4,0M296.1,126.8a1.2,1.2 0 1,0 2.4,0a1.2,1.2 0 1,0 -2.4,0M304.9,159.6a1.2,1.2 0 1,0 2.4,0a1.2,1.2 0 1,0 -2.4,0M299.7,150.4a1.2,1.2 0 1,0 2.4,0a1.2,1.2 0 1,0 -2.4,0M309.9,126.1a1.2,1.2 0 1,0 2.4,0a1.2,1.2 0 1,0 -2.4,0M297.5,144.6a1.2,1.2 0 1,0 2.4,0a1.2,1.2 0 1,0 -2.4,0M300.4,90.0a1.2,1.2 0 1,0 2.4,0a1.2,1.2 0 1,0 -2.4,0M298.6,113.2a1.2,1.2 0 1,0 2.4,0a1.2,1.2 0 1,0 -2.4,0M303.2,129.0a1.2,1.2 0 1,0 2.4,0a1.2,1.2 0 1,0 -2.4,0M311.9,116.0a1.2,1.2 0 1,0 2.4,0a1.2,1.2 0 1,0 -2.4,0M305.9,138.6a1.2,1.2 0 1,0 2.4,0a1.2,1.2 0 1,0 -2.4,0M297.8,97.3a1.2,1.2 0 1,0 2.4,0a1.2,1.2 0 1,0 -2.4,0M312.5,120.1a1.2,1.2 0 1,0 2.4,0a1.2,1.2 0 1,0 -2.4,0M292.8,110.7a1.2,1.2 0 1,0 2.4,0a1.2,1.2 0 1,0 -2.4,0M302.4,137.4a1.2,1.2 0 1,0 2.4,0a1.2,1.2 0 1,0 -2.4,0M289.8,121.4a1.2,1.2 0 1,0 2.4,0a1.2,1.2 0 1,0 -2.4,0M300.8,110.1a1.2,1.2 0 1,0 2.4,0a1.2,1.2 0 1,0 -2.4,0M302.4,125.5a1.2,1.2 0 1,0 2.4,0a1.2,1.2 0 1,0 -2.4,0M303.3,151.2a1.2,1.2 0 1,0 2.4,0a1.2,1.2 0 1,0 -2.4,0M302.9,121.6a1.2,1.2 0 1,0 2.4,0a1.2,1.2 0 1,0 -2.4,0M311.1,104.4a1.2,1.2 0 1,0 2.4,0a1.2,1.2 0 1,0 -2.4,0M292.9,122.0a1.2,1.2 0 1,0 2.4,0a1.2,1.2 0 1,0 -2.4,0M302.4,87.4a1.2,1.2 0 1,0 2.4,0a1.2,1.2 0 1,0 -2.4,0M292.2,117.2a1.2,1.2 0 1,0 2.4,0a1.2,1.2 0 1,0 -2.4,0M308.8,100.4a1.2,1.2 0 1,0 2.4,0a1.2,1.2 0 1,0 -2.4,0M305.5,156.6a1.2,1.2 0 1,0 2.4,0a1.2,1.2 0 1,0 -2.4,0M300.6,113.8a1.2,1.2 0 1,0 2.4,0a1.2,1.2 0 1,0 -2.4,0M297.8,119.6a1.2,1.2 0 1,0 2.4,0a1.2,1.2 0 1,0 -2.4,0M314.8,126.9a1.2,1.2 0 1,0 2.4,0a1.2,1.2 0 1,0 -2.4,0M302.3,98.7a1.2,1.2 0 1,0 2.4,0a1.2,1.2 0 1,0 -2.4,0M303.7,147.4a1.2,1.2 0 1,0 2.4,0a1.2,1.2 0 1,0 -2.4,0M301.1,120.8a1.2,1.2 0 1,0 2.4,0a1.2,1.2 0 1,0 -2.4,0M307.9,129.3a1.2,1.2 0 1,0 2.4,0a1.2,1.2 0 1,0 -2.4,0M300.4,91.8a1.2,1.2 0 1,0 2.4,0a1.2,1.2 0 1,0 -2.4,0M301.4,106.8a1.2,1.2 0 1,0 2.4,0a1.2,1.2 0 1,0 -2.4,0M301.2,135.8a1.2,1.2 0 1,0 2.4,0a1.2,1.2 0 1,0 -2.4,0M306.4,142.9a1.2,1.2 0 1,0 2.4,0a1.2,1.2 0 1,0 -2.4,0M300.8,158.3a1.2,1.2 0 1,0 2.4,0a1.2,1.2 0 1,0 -2.4,0M309.4,137.6a1.2,1.2 0 1,0 2.4,0a1.2,1.2 0 1,0 -2.4,0M304.9,96.0a1.2,1.2 0 1,0 2.4,0a1.2,1.2 0 1,0 -2.4,0M298.7,101.1a1.2,1.2 0 1,0 2.4,0a1.2,1.2 0 1,0 -2.4,0M299.9,105.8a1.2,1.2 0 1,0 2.4,0a1.2,1.2 0 1,0 -2.4,0M295.2,124.9a1.2,1.2 0 1,0 2.4,0a1.2,1.2 0 1,0 -2.4,0M315.4,121.0a1.2,1.2 0 1,0 2.4,0a1.2,1.2 0 1,0 -2.4,0M314.3,116.5a1.2,1.2 0 1,0 2.4,0a1.2,1.2 0 1,0 -2.4,0M305.6,105.2a1.2,1.2 0 1,0 2.4,0a1.2,1.2 0 1,0 -2.4,0M303.9,163.5a1.2,1.2 0 1,0 2.4,0a1.2,1.2 0 1,0 -2.4,0M306.5,137.4a1.2,1.2 0 1,0 2.4,0a1.2,1.2 0 1,0 -2.4,0M307.2,116.2a1.2,1.2 0 1,0 2.4,0a1.2,1.2 0 1,0 -2.4,0M296.7,141.3a1.2,1.2 0 1,0 2.4,0a1.2,1.2 0 1,0 -2.4,0M299.5,94.9a1.2,1.2 0 1,0 2.4,0a1.2,1.2 0 1,0 -2.4,0M304.0,154.4a1.2,1.2 0 1,0 2.4,0a1.2,1.2 0 1,0 -2.4,0M301.3,89.0a1.2,1.2 0 1,0 2.4,0a1.2,1.2 0 1,0 -2.4,0M310.0,134.8a1.2,1.2 0 1,0 2.4,0a1.2,1.2 0 1,0 -2.4,0M298.9,136.4a1.2,1.2 0 1,0 2.4,0a1.2,1.2 0 1,0 -2.4,0M307.9,123.8a1.2,1.2 0 1,0 2.4,0a1.2,1.2 0 1,0 -2.4,0M310.3,113.5a1.2,1.2 0 1,0 2.4,0a1.2,1.2 0 1,0 -2.4,0M300.3,87.5a1.2,1.2 0 1,0 2.4,0a1.2,1.2 0 1,0 -2.4,0M296.0,121.3a1.2,1.2 0 1,0 2.4,0a1.2,1.2 0 1,0 -2.4,0M298.1,99.1a1.2,1.2 0 1,0 2.4,0a1.2,1.2 0 1,0 -2.4,0M304.2,99.7a1.2,1.2 0 1,0 2.4,0a1.2,1.2 0 1,0 -2.4,0M301.2,85.7a1.2,1.2 0 1,0 2.4,0a1.2,1.2 0 1,0 -2.4,0M299.3,126.8a1.2,1.2 0 1,0 2.4,0a1.2,1.2 0 1,0 -2.4,0M305.6,121.4a1.2,1.2 0 1,0 2.4,0a1.2,1.2 0 1,0 -2.4,0M303.5,158.8a1.2,1.2 0 1,0 2.4,0a1.2,1.2 0 1,0 -2.4,0M311.8,125.7a1.2,1.2 0 1,0 2.4,0a1.2,1.2 0 1,0 -2.4,0M308.3,127.1a1.2,1.2 0 1,0 2.4,0a1.2,1.2 0 1,0 -2.4,0M302.9,143.2a1.2,1.2 0 1,0 2.4,0a1.2,1.2 0 1,0 -2.4,0M297.2,103.9a1.2,1.2 0 1,0 2.4,0a1.2,1.2 0 1,0 -2.4,0M300.5,130.7a1.2,1.2 0 1,0 2.4,0a1.2,1.2 0 1,0 -2.4,0M304.0,142.5a1.2,1.2 0 1,0 2.4,0a1.2,1.2 0 1,0 -2.4,0M303.8,144.3a1.2,1.2 0 1,0 2.4,0a1.2,1.2 0 1,0 -2.4,0M305.1,158.2a1.2,1.2 0 1,0 2.4,0a1.2,1.2 0 1,0 -2.4,0M292.3,108.1a1.2,1.2 0 1,0 2.4,0a1.2,1.2 0 1,0 -2.4,0M293.0,118.6a1.2,1.2 0 1,0 2.4,0a1.2,1.2 0 1,0 -2.4,0M301.7,119.0a1.2,1.2 0 1,0 2.4,0a1.2,1.2 0 1,0 -2.4,0M304.0,124.3a1.2,1.2 0 1,0 2.4,0a1.2,1.2 0 1,0 -2.4,0M302.4,91.1a1.2,1.2 0 1,0 2.4,0a1.2,1.2 0 1,0 -2.4,0M308.8,125.9a1.2,1.2 0 1,0 2.4,0a1.2,1.2 0 1,0 -2.4,0M311.5,121.4a1.2,1.2 0 1,0 2.4,0a1.2,1.2 0 1,0 -2.4,0M305.9,111.1a1.2,1.2 0 1,0 2.4,0a1.2,1.2 0 1,0 -2.4,0M307.9,96.0a1.2,1.2 0 1,0 2.4,0a1.2,1.2 0 1,0 -2.4,0M301.7,102.2a1.2,1.2 0 1,0 2.4,0a1.2,1.2 0 1,0 -2.4,0M310.3,100.5a1.2,1.2 0 1,0 2.4,0a1.2,1.2 0 1,0 -2.4,0M300.4,137.3a1.2,1.2 0 1,0 2.4,0a1.2,1.2 0 1,0 -2.4,0M301.1,94.1a1.2,1.2 0 1,0 2.4,0a1.2,1.2 0 1,0 -2.4,0M292.9,104.4a1.2,1.2 0 1,0 2.4,0a1.2,1.2 0 1,0 -2.4,0M289.2,128.1a1.2,1.2 0 1,0 2.4,0a1.2,1.2 0 1,0 -2.4,0M291.4,105.5a1.2,1.2 0 1,0 2.4,0a1.2,1.2 0 1,0 -2.4,0M303.5,92.9a1.2,1.2 0 1,0 2.4,0a1.2,1.2 0 1,0 -2.4,0M289.9,108.7a1.2,1.2 0 1,0 2.4,0a1.2,1.2 0 1,0 -2.4,0M299.5,108.9a1.2,1.2 0 1,0 2.4,0a1.2,1.2 0 1,0 -2.4,0M302.4,103.5a1.2,1.2 0 1,0 2.4,0a1.2,1.2 0 1,0 -2.4,0M294.2,100.7a1.2,1.2 0 1,0 2.4,0a1.2,1.2 0 1,0 -2.4,0M314.1,106.8a1.2,1.2 0 1,0 2.4,0a1.2,1.2 0 1,0 -2.4,0M305.7,149.4a1.2,1.2 0 1,0 2.4,0a1.2,1.2 0 1,0 -2.4,0M297.9,135.2a1.2,1.2 0 1,0 2.4,0a1.2,1.2 0 1,0 -2.4,0M299.3,143.7a1.2,1.2 0 1,0 2.4,0a1.2,1.2 0 1,0 -2.4,0M308.9,121.8a1.2,1.2 0 1,0 2.4,0a1.2,1.2 0 1,0 -2.4,0M306.5,151.2a1.2,1.2 0 1,0 2.4,0a1.2,1.2 0 1,0 -2.4,0M294.9,117.7a1.2,1.2 0 1,0 2.4,0a1.2,1.2 0 1,0 -2.4,0M302.1,96.5a1.2,1.2 0 1,0 2.4,0a1.2,1.2 0 1,0 -2.4,0M301.6,86.8a1.2,1.2 0 1,0 2.4,0a1.2,1.2 0 1,0 -2.4,0M301.6,155.7a1.2,1.2 0 1,0 2.4,0a1.2,1.2 0 1,0 -2.4,0M290.2,111.5a1.2,1.2 0 1,0 2.4,0a1.2,1.2 0 1,0 -2.4,0M306.4,141.2a1.2,1.2 0 1,0 2.4,0a1.2,1.2 0 1,0 -2.4,0M303.8,101.9a1.2,1.2 0 1,0 2.4,0a1.2,1.2 0 1,0 -2.4,0M299.4,156.8a1.2,1.2 0 1,0 2.4,0a1.2,1.2 0 1,0 -2.4,0M302.2,145.9a1.2,1.2 0 1,0 2.4,0a1.2,1.2 0 1,0 -2.4,0M296.4,128.4a1.2,1.2 0 1,0 2.4,0a1.2,1.2 0 1,0 -2.4,0M302.5,163.1a1.2,1.2 0 1,0 2.4,0a1.2,1.2 0 1,0 -2.4,0M299.6,112.4a1.2,1.2 0 1,0 2.4,0a1.2,1.2 0 1,0 -2.4,0M307.2,135.5a1.2,1.2 0 1,0 2.4,0a1.2,1.2 0 1,0 -2.4,0M305.3,109.8a1.2,1.2 0 1,0 2.4,0a1.2,1.2 0 1,0 -2.4,0M302.4,93.4a1.2,1.2 0 1,0 2.4,0a1.2,1.2 0 1,0 -2.4,0M304.2,121.6a1.2,1.2 0 1,0 2.4,0a1.2,1.2 0 1,0 -2.4,0M291.3,121.6a1.2,1.2 0 1,0 2.4,0a1.2,1.2 0 1,0 -2.4,0M301.6,79.1a1.2,1.2 0 1,0 2.4,0a1.2,1.2 0 1,0 -2.4,0M314.1,128.9a1.2,1.2 0 1,0 2.4,0a1.2,1.2 0 1,0 -2.4,0M307.4,100.1a1.2,1.2 0 1,0 2.4,0a1.2,1.2 0 1,0 -2.4,0M296.3,110.1a1.2,1.2 0 1,0 2.4,0a1.2,1.2 0 1,0 -2.4,0M302.0,161.8a1.2,1.2 0 1,0 2.4,0a1.2,1.2 0 1,0 -2.4,0M305.5,129.7a1.2,1.2 0 1,0 2.4,0a1.2,1.2 0 1,0 -2.4,0M289.0,109.7a1.2,1.2 0 1,0 2.4,0a1.2,1.2 0 1,0 -2.4,0M298.6,154.4a1.2,1.2 0 1,0 2.4,0a1.2,1.2 0 1,0 -2.4,0M297.5,102.3a1.2,1.2 0 1,0 2.4,0a1.2,1.2 0 1,0 -2.4,0M296.2,97.8a1.2,1.2 0 1,0 2.4,0a1.2,1.2 0 1,0 -2.4,0M297.8,107.9a1.2,1.2 0 1,0 2.4,0a1.2,1.2 0 1,0 -2.4,0M298.3,105.2a1.2,1.2 0 1,0 2.4,0a1.2,1.2 0 1,0 -2.4,0M302.2,115.4a1.2,1.2 0 1,0 2.4,0a1.2,1.2 0 1,0 -2.4,0M302.8,105.3a1.2,1.2 0 1,0 2.4,0a1.2,1.2 0 1,0 -2.4,0M298.8,121.7a1.2,1.2 0 1,0 2.4,0a1.2,1.2 0 1,0 -2.4,0M315.3,124.5a1.2,1.2 0 1,0 2.4,0a1.2,1.2 0 1,0 -2.4,0M312.7,110.6a1.2,1.2 0 1,0 2.4,0a1.2,1.2 0 1,0 -2.4,0M296.8,121.8a1.2,1.2 0 1,0 2.4,0a1.2,1.2 0 1,0 -2.4,0M311.3,129.1a1.2,1.2 0 1,0 2.4,0a1.2,1.2 0 1,0 -2.4,0M302.3,131.5a1.2,1.2 0 1,0 2.4,0a1.2,1.2 0 1,0 -2.4,0M312.1,123.2a1.2,1.2 0 1,0 2.4,0a1.2,1.2 0 1,0 -2.4,0M291.4,125.8a1.2,1.2 0 1,0 2.4,0a1.2,1.2 0 1,0 -2.4,0M305.7,108.2a1.2,1.2 0 1,0 2.4,0a1.2,1.2 0 1,0 -2.4,0M302.8,67.1a1.2,1.2 0 1,0 2.4,0a1.2,1.2 0 1,0 -2.4,0M302.5,71.8a1.2,1.2 0 1,0 2.4,0a1.2,1.2 0 1,0 -2.4,0M303.1,168.7a1.2,1.2 0 1,0 2.4,0a1.2,1.2 0 1,0 -2.4,0" fill="#134f8c"/>
<line x1="258.90" y1="121.23" x2="258.90" y2="158.12" stroke="#000" stroke-width="1.6" />
<line x1="250.70" y1="121.23" x2="267.10" y2="121.23" stroke="#000" stroke-width="1.6" />
<line x1="250.70" y1="158.12" x2="267.10" y2="158.12" stroke="#000" stroke-width="1.6" />
<line x1="303.55" y1="105.14" x2="303.55" y2="138.50" stroke="#000" stroke-width="1.6" />
<line x1="295.35" y1="105.14" x2="311.75" y2="105.14" stroke="#000" stroke-width="1.6" />
<line x1="295.35" y1="138.50" x2="311.75" y2="138.50" stroke="#000" stroke-width="1.6" />
<line x1="228.50" y1="52.15" x2="228.50" y2="217.60" stroke="#111" stroke-width="1.3" />
<line x1="227.90" y1="217.00" x2="337.50" y2="217.00" stroke="#111" stroke-width="1.3" />
<line x1="224.00" y1="217.00" x2="228.50" y2="217.00" stroke="#111" stroke-width="1.2" />
<text x="220.0" y="220.6" font-size="10.5" text-anchor="end" font-weight="normal" fill="#111" >4</text>
<line x1="224.00" y1="177.75" x2="228.50" y2="177.75" stroke="#111" stroke-width="1.2" />
<text x="220.0" y="181.35" font-size="10.5" text-anchor="end" font-weight="normal" fill="#111" >5</text>
<line x1="224.00" y1="138.50" x2="228.50" y2="138.50" stroke="#111" stroke-width="1.2" />
<text x="220.0" y="142.1" font-size="10.5" text-anchor="end" font-weight="normal" fill="#111" >6</text>
<line x1="224.00" y1="99.25" x2="228.50" y2="99.25" stroke="#111" stroke-width="1.2" />
<text x="220.0" y="102.85" font-size="10.5" text-anchor="end" font-weight="normal" fill="#111" >7</text>
<line x1="224.00" y1="60.00" x2="228.50" y2="60.00" stroke="#111" stroke-width="1.2" />
<text x="220.0" y="63.6" font-size="10.5" text-anchor="end" font-weight="normal" fill="#111" >8</text>
<line x1="258.90" y1="217.00" x2="258.90" y2="221.50" stroke="#111" stroke-width="1.2" />
<line x1="303.55" y1="217.00" x2="303.55" y2="221.50" stroke="#111" stroke-width="1.2" />
<text transform="translate(206,134) rotate(-90)" x="0" y="0" font-size="12.2" font-weight="bold" text-anchor="middle" fill="#111" textLength="63.5" lengthAdjust="spacingAndGlyphs">TET3 log2_CPM</text>
<path d="M248.5,59.2 V50.5 H306.3 V59.2" fill="none" stroke="#111" stroke-width="1.2"/>
<path d="M271.25,44.25 L271.92,45.87 L273.68,46.01 L272.34,47.15 L272.75,48.86 L271.25,47.95 L269.75,48.86 L270.16,47.15 L268.82,46.01 L270.58,45.87ZM275.70,44.25 L276.37,45.87 L278.13,46.01 L276.79,47.15 L277.20,48.86 L275.70,47.95 L274.20,48.86 L274.61,47.15 L273.27,46.01 L275.03,45.87ZM280.15,44.25 L280.82,45.87 L282.58,46.01 L281.24,47.15 L281.65,48.86 L280.15,47.95 L278.65,48.86 L279.06,47.15 L277.72,46.01 L279.48,45.87Z" fill="#111"/>
<text x="258.09999999999997" y="234.2" font-size="10.5" text-anchor="middle" font-weight="normal" fill="#111" >HC</text>
<text x="303.44999999999993" y="234.2" font-size="10.5" text-anchor="middle" font-weight="normal" fill="#111" >WT MDS</text>
<rect x="9.6" y="353.6" width="115" height="138.6" fill="#ebf2fb" stroke="#a9b8df" stroke-width="1.3"/>
<rect x="393" y="353.8" width="115" height="138" fill="#ebf2fb" stroke="#a9b8df" stroke-width="1.3"/>
<defs><linearGradient id="ga1" x1="125" y1="0" x2="60" y2="0" gradientUnits="userSpaceOnUse"><stop offset="0" stop-color="#c8c8c8"/><stop offset="0.45" stop-color="#333"/><stop offset="1" stop-color="#111"/></linearGradient><linearGradient id="ga2" x1="364" y1="0" x2="444" y2="0" gradientUnits="userSpaceOnUse"><stop offset="0" stop-color="#c8c8c8"/><stop offset="0.45" stop-color="#333"/><stop offset="1" stop-color="#111"/></linearGradient></defs>
<path d="M125,303.5 C108,295 80,294 60,319" fill="none" stroke="url(#ga1)" stroke-width="1.3"/>
<path d="M56.50,326.30 L56.91,317.45 L63.62,321.03 Z" fill="#111"/>
<path d="M364.6,295.4 C385,288 425,285 442,318" fill="none" stroke="url(#ga2)" stroke-width="1.3"/>
<path d="M446.00,326.00 L439.02,320.54 L445.82,317.15 Z" fill="#111"/>
<text x="66.6" y="347" font-size="12" text-anchor="middle" font-weight="normal" fill="#161616" textLength="60.7" lengthAdjust="spacingAndGlyphs" >Methylation</text>
<text x="452" y="346.8" font-size="12" text-anchor="middle" font-weight="normal" fill="#161616" textLength="58" lengthAdjust="spacingAndGlyphs" >Acetylation</text>
<text x="67.1" y="458.5" font-size="9" text-anchor="middle" font-weight="normal" fill="#161616" textLength="92.6" lengthAdjust="spacingAndGlyphs" >Condensed chromatin</text>
<text x="67" y="483" font-size="12.2" text-anchor="middle" font-weight="normal" fill="#161616" textLength="80.5" lengthAdjust="spacingAndGlyphs" >Gene silencing</text>
<text x="450.5" y="459" font-size="9.3" text-anchor="middle" font-weight="normal" fill="#161616" textLength="67.1" lengthAdjust="spacingAndGlyphs" >Open chromatin</text>
<text x="450.3" y="483.4" font-size="11.9" text-anchor="middle" font-weight="normal" fill="#161616" textLength="89.9" lengthAdjust="spacingAndGlyphs" >Gene expression</text>
<line x1="159.70" y1="310.80" x2="167.93" y2="315.55" stroke="#161616" stroke-width="1.25" />
<line x1="160.57" y1="314.30" x2="165.76" y2="317.30" stroke="#161616" stroke-width="1.25" />
<line x1="172.26" y1="323.05" x2="172.26" y2="332.55" stroke="#161616" stroke-width="1.25" />
<line x1="172.26" y1="332.55" x2="164.46" y2="337.05" stroke="#161616" stroke-width="1.25" />
<line x1="154.94" y1="337.05" x2="147.14" y2="332.55" stroke="#161616" stroke-width="1.25" />
<line x1="147.14" y1="332.55" x2="147.14" y2="318.05" stroke="#161616" stroke-width="1.25" />
<line x1="149.74" y1="330.05" x2="149.74" y2="320.55" stroke="#161616" stroke-width="1.25" />
<line x1="147.14" y1="318.05" x2="159.70" y2="310.80" stroke="#161616" stroke-width="1.25" />
<line x1="159.70" y1="310.80" x2="159.70" y2="300.80" stroke="#161616" stroke-width="1.25" />
<text x="155.29999999999998" y="299.3" font-size="12.2" fill="#161616">NH<tspan font-size="8.5" dy="3">2</tspan></text>
<text x="172.55736835487437" y="322.45" font-size="12.3" text-anchor="middle" font-weight="normal" fill="#161616" >N</text>
<text x="159.7" y="344.2" font-size="12.3" text-anchor="middle" font-weight="normal" fill="#161616" >N</text>
<text x="159.7" y="356.40000000000003" font-size="12.3" text-anchor="middle" font-weight="normal" fill="#161616" >H</text>
<line x1="171.54" y1="333.63" x2="180.16" y2="339.38" stroke="#161616" stroke-width="1.25" />
<line x1="173.64" y1="331.91" x2="181.60" y2="337.22" stroke="#161616" stroke-width="1.25" />
<text x="185.45736835487435" y="345.75" font-size="12.3" text-anchor="middle" font-weight="normal" fill="#161616" >O</text>
<line x1="147.14" y1="318.05" x2="134.59" y2="310.80" stroke="#161616" stroke-width="1.25" />
<line x1="340.20" y1="314.50" x2="348.43" y2="319.25" stroke="#161616" stroke-width="1.25" />
<line x1="341.07" y1="318.00" x2="346.26" y2="321.00" stroke="#161616" stroke-width="1.25" />
<line x1="352.76" y1="326.75" x2="352.76" y2="336.25" stroke="#161616" stroke-width="1.25" />
<line x1="352.76" y1="336.25" x2="344.96" y2="340.75" stroke="#161616" stroke-width="1.25" />
<line x1="335.44" y1="340.75" x2="327.64" y2="336.25" stroke="#161616" stroke-width="1.25" />
<line x1="327.64" y1="336.25" x2="327.64" y2="321.75" stroke="#161616" stroke-width="1.25" />
<line x1="330.24" y1="333.75" x2="330.24" y2="324.25" stroke="#161616" stroke-width="1.25" />
<line x1="327.64" y1="321.75" x2="340.20" y2="314.50" stroke="#161616" stroke-width="1.25" />
<line x1="340.20" y1="314.50" x2="340.20" y2="304.50" stroke="#161616" stroke-width="1.25" />
<text x="335.8" y="303.0" font-size="12.2" fill="#161616">NH<tspan font-size="8.5" dy="3">2</tspan></text>
<text x="353.05736835487437" y="326.15" font-size="12.3" text-anchor="middle" font-weight="normal" fill="#161616" >N</text>
<text x="340.2" y="347.9" font-size="12.3" text-anchor="middle" font-weight="normal" fill="#161616" >N</text>
<text x="340.2" y="360.1" font-size="12.3" text-anchor="middle" font-weight="normal" fill="#161616" >H</text>
<line x1="352.04" y1="337.33" x2="360.66" y2="343.08" stroke="#161616" stroke-width="1.25" />
<line x1="354.14" y1="335.61" x2="362.10" y2="340.92" stroke="#161616" stroke-width="1.25" />
<text x="365.95736835487435" y="349.45" font-size="12.3" text-anchor="middle" font-weight="normal" fill="#161616" >O</text>
<line x1="327.64" y1="321.75" x2="315.09" y2="314.50" stroke="#161616" stroke-width="1.25" />
<line x1="315.09" y1="315.00" x2="315.09" y2="304.50" stroke="#161616" stroke-width="1.25" />
<text x="310.4852632902512" y="302.5" font-size="12" text-anchor="start" font-weight="normal" fill="#161616" >OH</text>
<text x="158.6" y="377.7" font-size="12" text-anchor="middle" font-weight="normal" fill="#161616" textLength="25.7" lengthAdjust="spacingAndGlyphs" >5mC</text>
<text x="341.5" y="377.7" font-size="12" text-anchor="middle" font-weight="normal" fill="#161616" textLength="36.3" lengthAdjust="spacingAndGlyphs" >5-hmC</text>
<text x="268.7" y="289.5" font-size="12.3" text-anchor="middle" font-weight="normal" fill="#161616" textLength="73.5" lengthAdjust="spacingAndGlyphs" >Ascorbic acid</text>
<line x1="212.00" y1="298.00" x2="285.80" y2="298.00" stroke="#111" stroke-width="1.5" />
<line x1="247.50" y1="303.00" x2="247.50" y2="313.00" stroke="#111" stroke-width="1.4" />
<path d="M247.50,318.80 L243.90,312.30 L251.10,312.30 Z" fill="#111"/>
<line x1="205.5" y1="338.1" x2="295" y2="338.1" stroke="#111" stroke-width="1.5" stroke-dasharray="3.6,2.3"/>
<path d="M301.20,338.10 L294.20,341.50 L294.20,334.70 Z" fill="#111"/>
<text x="251" y="356.4" font-size="12" text-anchor="middle" font-weight="normal" fill="#161616" textLength="27.5" lengthAdjust="spacingAndGlyphs" >TETs</text>
<line x1="207.20" y1="400.50" x2="242.70" y2="365.00" stroke="#111" stroke-width="1.5" />
<line x1="239.90" y1="362.30" x2="245.30" y2="367.70" stroke="#111" stroke-width="1.6" />
<path d="M297.65,405.66 L262.55,366.99 L261.45,368.01 L297.35,405.94Z" fill="#111"/>
<path d="M257.50,362.80 L265.73,366.07 L260.17,371.24 Z" fill="#111"/>
<text x="191.8" y="416.2" font-size="12" text-anchor="middle" font-weight="normal" fill="#161616" textLength="31.8" lengthAdjust="spacingAndGlyphs" >L2HG</text>
<text x="309.1" y="415.9" font-size="12" text-anchor="middle" font-weight="normal" fill="#161616" textLength="26" lengthAdjust="spacingAndGlyphs" >&#945;KG</text>
<line x1="212.5" y1="412.1" x2="290" y2="412.1" stroke="#111" stroke-width="1.5" stroke-dasharray="3.6,2.3"/>
<path d="M296.20,412.10 L289.20,415.50 L289.20,408.70 Z" fill="#111"/>
<text x="250.3" y="429.7" font-size="12" text-anchor="middle" font-weight="normal" fill="#161616" textLength="51.4" lengthAdjust="spacingAndGlyphs" >L2HGDH</text>
<path d="M297,427 C295,450 270,465 250,463 C232,461 216,448 210.5,434" fill="none" stroke="#111" stroke-width="1.5" stroke-dasharray="3.6,2.3"/>
<path d="M207.00,426.50 L213.30,431.93 L206.71,434.81 Z" fill="#111"/>
<text x="227.5" y="477.9" font-size="12" fill="#161616" textLength="52.5" lengthAdjust="spacingAndGlyphs">IDH1/2<tspan font-size="9" dy="-5">MT</tspan></text>
<circle cx="218.6" cy="260.8" r="8.2" fill="#b9432f" stroke="#7d2314" stroke-width="1"/>
<text x="218.9" y="264.2" font-size="9.5" text-anchor="middle" font-weight="normal" fill="#fff2ee" >Fe</text>
<circle cx="213.7" cy="272.3" r="8.2" fill="#b9432f" stroke="#7d2314" stroke-width="1"/>
<text x="214.0" y="275.7" font-size="9.5" text-anchor="middle" font-weight="normal" fill="#fff2ee" >Fe</text>
<defs><radialGradient id="og" cx="0.5" cy="0.1" r="0.9"><stop offset="0" stop-color="#ffc23a"/><stop offset="1" stop-color="#ff9a10"/></radialGradient></defs>
<g transform="translate(266.7,251.3) rotate(-11)"><path d="M-21.5,0 A21.5,25 0 0,0 21.5,0 Z" fill="#f08a00"/><path d="M-20,0.3 A20,23.3 0 0,0 20,0.3 Z" fill="#fff1d0"/><path d="M-18.6,0.6 A18.6,21.8 0 0,0 18.6,0.6 Z" fill="url(#og)"/><path d="M0,1 L-15,12 M0,1 L-7.5,19.5 M0,1 L1,22 M0,1 L9.5,19 M0,1 L16,11" stroke="#ffd278" stroke-width="0.8" fill="none"/><line x1="-21.5" y1="0.2" x2="21.5" y2="0.2" stroke="#ffb431" stroke-width="1"/></g>
<path d="M33,401 Q40,398 46,400.5 Q53,403 60,400.5 Q67,398 74,400.5 Q81,403 88,400.5 Q92,399 95,401" fill="none" stroke="#5a4f8c" stroke-width="1.1"/>
<line x1="43.20" y1="377.00" x2="43.20" y2="383.00" stroke="#222" stroke-width="1.0" />
<line x1="58.10" y1="377.00" x2="58.10" y2="383.00" stroke="#222" stroke-width="1.0" />
<line x1="72.40" y1="377.00" x2="72.40" y2="383.00" stroke="#222" stroke-width="1.0" />
<line x1="88.10" y1="377.00" x2="88.10" y2="383.00" stroke="#222" stroke-width="1.0" />
<g transform="translate(87.5,391) rotate(20) scale(1.0)"><ellipse cx="3.6" cy="0" rx="4.0" ry="9.4" fill="#11578f"/><rect x="-3.4" y="-9.4" width="7" height="18.8" fill="#11578f"/><path d="M-1.2,-9.2 A4.0,9.3 0 0,1 -1.2,9.2" fill="none" stroke="#2c9fcc" stroke-width="0.8"/><path d="M1.2,-9.2 A4.0,9.3 0 0,1 1.2,9.2" fill="none" stroke="#2c9fcc" stroke-width="0.8"/><path d="M3.6,-8.8 A3.9,8.9 0 0,1 3.6,8.8" fill="none" stroke="#2c9fcc" stroke-width="0.7"/><ellipse cx="-3.4" cy="0" rx="4.0" ry="9.4" fill="#38b3d9"/><ellipse cx="-3.9" cy="-1.5" rx="2.2" ry="5.6" fill="#5cc6e4" opacity="0.5"/></g>
<g transform="translate(72.5,391) rotate(20) scale(1.0)"><ellipse cx="3.6" cy="0" rx="4.0" ry="9.4" fill="#11578f"/><rect x="-3.4" y="-9.4" width="7" height="18.8" fill="#11578f"/><path d="M-1.2,-9.2 A4.0,9.3 0 0,1 -1.2,9.2" fill="none" stroke="#2c9fcc" stroke-width="0.8"/><path d="M1.2,-9.2 A4.0,9.3 0 0,1 1.2,9.2" fill="none" stroke="#2c9fcc" stroke-width="0.8"/><path d="M3.6,-8.8 A3.9,8.9 0 0,1 3.6,8.8" fill="none" stroke="#2c9fcc" stroke-width="0.7"/><ellipse cx="-3.4" cy="0" rx="4.0" ry="9.4" fill="#38b3d9"/><ellipse cx="-3.9" cy="-1.5" rx="2.2" ry="5.6" fill="#5cc6e4" opacity="0.5"/></g>
<g transform="translate(57.5,391) rotate(20) scale(1.0)"><ellipse cx="3.6" cy="0" rx="4.0" ry="9.4" fill="#11578f"/><rect x="-3.4" y="-9.4" width="7" height="18.8" fill="#11578f"/><path d="M-1.2,-9.2 A4.0,9.3 0 0,1 -1.2,9.2" fill="none" stroke="#2c9fcc" stroke-width="0.8"/><path d="M1.2,-9.2 A4.0,9.3 0 0,1 1.2,9.2" fill="none" stroke="#2c9fcc" stroke-width="0.8"/><path d="M3.6,-8.8 A3.9,8.9 0 0,1 3.6,8.8" fill="none" stroke="#2c9fcc" stroke-width="0.7"/><ellipse cx="-3.4" cy="0" rx="4.0" ry="9.4" fill="#38b3d9"/><ellipse cx="-3.9" cy="-1.5" rx="2.2" ry="5.6" fill="#5cc6e4" opacity="0.5"/></g>
<g transform="translate(42.5,391) rotate(20) scale(1.0)"><ellipse cx="3.6" cy="0" rx="4.0" ry="9.4" fill="#11578f"/><rect x="-3.4" y="-9.4" width="7" height="18.8" fill="#11578f"/><path d="M-1.2,-9.2 A4.0,9.3 0 0,1 -1.2,9.2" fill="none" stroke="#2c9fcc" stroke-width="0.8"/><path d="M1.2,-9.2 A4.0,9.3 0 0,1 1.2,9.2" fill="none" stroke="#2c9fcc" stroke-width="0.8"/><path d="M3.6,-8.8 A3.9,8.9 0 0,1 3.6,8.8" fill="none" stroke="#2c9fcc" stroke-width="0.7"/><ellipse cx="-3.4" cy="0" rx="4.0" ry="9.4" fill="#38b3d9"/><ellipse cx="-3.9" cy="-1.5" rx="2.2" ry="5.6" fill="#5cc6e4" opacity="0.5"/></g>
<circle cx="43.2" cy="372.6" r="4.9" fill="#c42b2b" stroke="#8a1a1a" stroke-width="0.8"/>
<text x="43.2" y="374.1" font-size="4.2" text-anchor="middle" font-weight="normal" fill="#ffe0e0" >Me3</text>
<circle cx="58.1" cy="372.6" r="4.9" fill="#c42b2b" stroke="#8a1a1a" stroke-width="0.8"/>
<text x="58.1" y="374.1" font-size="4.2" text-anchor="middle" font-weight="normal" fill="#ffe0e0" >Me3</text>
<circle cx="72.4" cy="372.6" r="4.9" fill="#c42b2b" stroke="#8a1a1a" stroke-width="0.8"/>
<text x="72.4" y="374.1" font-size="4.2" text-anchor="middle" font-weight="normal" fill="#ffe0e0" >Me3</text>
<circle cx="88.1" cy="372.6" r="4.9" fill="#c42b2b" stroke="#8a1a1a" stroke-width="0.8"/>
<text x="88.1" y="374.1" font-size="4.2" text-anchor="middle" font-weight="normal" fill="#ffe0e0" >Me3</text>
<path d="M15.9,427.5 C20,420 22,413 26,413.8 C31,414.5 31,432 35.4,431.7 C39,431.5 39,412 43,410.6" fill="none" stroke="#29a6cc" stroke-width="2" stroke-linecap="round"/>
<path d="M42.5,421.0 L42.7,419.1 L43.0,417.2 L43.4,415.4 L44.0,413.8 L44.6,412.4 L45.3,411.2 L46.1,410.3 L47.0,409.8 L47.9,409.5 L48.8,409.6 L49.6,410.0 L50.4,410.8 L51.2,411.8 L51.9,413.1 L52.5,414.6 L53.0,416.3 L53.3,418.2 L53.6,420.1 L53.7,422.1 L53.7,424.0 L53.5,425.8 L53.3,427.5 L52.9,429.0 L52.4,430.3 L51.9,431.3 L51.3,432.0 L50.7,432.4 L50.0,432.5 L49.4,432.2 L48.8,431.6 L48.2,430.7 L47.7,429.5 L47.3,428.1 L47.0,426.5 L46.8,424.7 L46.8,422.8 L46.8,420.8 L47.0,418.9 L47.3,417.0 L47.8,415.2 L48.3,413.6 L49.0,412.3 L49.7,411.1 L50.5,410.3 L51.4,409.7 L52.2,409.5 L53.1,409.6 L54.0,410.1 L54.8,410.8 L55.6,411.9 L56.3,413.2 L56.8,414.7 L57.3,416.5 L57.7,418.3 L57.9,420.2 L58.0,422.2 L58.0,424.1 L57.8,426.0 L57.6,427.6 L57.2,429.1 L56.7,430.4 L56.2,431.4 L55.6,432.1 L54.9,432.4 L54.3,432.5 L53.6,432.2 L53.0,431.6 L52.5,430.6 L52.0,429.4 L51.6,428.0 L51.3,426.4 L51.1,424.6 L51.1,422.7 L51.1,420.7 L51.3,418.8 L51.7,416.9 L52.1,415.1 L52.7,413.5 L53.3,412.2 L54.1,411.0 L54.9,410.2 L55.7,409.7 L56.6,409.5 L57.5,409.6 L58.4,410.1 L59.2,410.9 L59.9,412.0 L60.6,413.3 L61.2,414.9 L61.7,416.6 L62.0,418.5 L62.2,420.4 L62.3,422.4 L62.3,424.3 L62.1,426.1 L61.8,427.8 L61.5,429.2 L61.0,430.5 L60.4,431.4 L59.8,432.1 L59.2,432.5 L58.5,432.5 L57.9,432.1 L57.3,431.5 L56.7,430.6 L56.3,429.3 L55.9,427.9 L55.6,426.2 L55.4,424.4 L55.4,422.5 L55.5,420.5 L55.7,418.6 L56.0,416.7 L56.5,415.0 L57.0,413.4 L57.7,412.1 L58.5,411.0 L59.3,410.2 L60.1,409.7 L61.0,409.5 L61.9,409.7 L62.7,410.2 L63.5,411.0 L64.3,412.1 L65.0,413.4 L65.5,415.0 L66.0,416.7 L66.3,418.6 L66.5,420.5 L66.6,422.5 L66.6,424.4 L66.4,426.2 L66.1,427.9 L65.7,429.3 L65.3,430.6 L64.7,431.5 L64.1,432.1 L63.5,432.5 L62.8,432.5 L62.2,432.1 L61.6,431.4 L61.0,430.5 L60.5,429.2 L60.2,427.8 L59.9,426.1 L59.7,424.3 L59.7,422.4 L59.8,420.4 L60.0,418.5 L60.3,416.6 L60.8,414.9 L61.4,413.3 L62.1,412.0 L62.8,410.9 L63.6,410.1 L64.5,409.6 L65.4,409.5 L66.3,409.7 L67.1,410.2 L67.9,411.0 L68.7,412.2 L69.3,413.5 L69.9,415.1 L70.3,416.9 L70.7,418.8 L70.9,420.7 L70.9,422.7 L70.9,424.6 L70.7,426.4 L70.4,428.0 L70.0,429.4 L69.5,430.6 L69.0,431.6 L68.4,432.2 L67.7,432.5 L67.1,432.4 L66.4,432.1 L65.8,431.4 L65.3,430.4 L64.8,429.1 L64.4,427.6 L64.2,426.0 L64.0,424.1 L64.0,422.2 L64.1,420.2 L64.3,418.3 L64.7,416.5 L65.2,414.7 L65.7,413.2 L66.4,411.9 L67.2,410.8 L68.0,410.1 L68.9,409.6 L69.8,409.5 L70.6,409.7 L71.5,410.3 L72.3,411.1 L73.0,412.3 L73.7,413.6 L74.2,415.2 L74.7,417.0 L75.0,418.9 L75.2,420.8 L75.2,422.8 L75.2,424.7 L75.0,426.5 L74.7,428.1 L74.3,429.5 L73.8,430.7 L73.2,431.6 L72.6,432.2 L72.0,432.5 L71.3,432.4 L70.7,432.0 L70.1,431.3 L69.6,430.3 L69.1,429.0 L68.7,427.5 L68.5,425.8 L68.3,424.0 L68.3,422.1 L68.4,420.1 L68.7,418.2 L69.0,416.3 L69.5,414.6 L70.1,413.1 L70.8,411.8 L71.6,410.8 L72.4,410.0 L73.2,409.6 L74.1,409.5 L75.0,409.8 L75.9,410.3 L76.7,411.2 L77.4,412.4 L78.0,413.8 L78.6,415.4 L79.0,417.2 L79.3,419.1 L79.5,421.0" fill="none" stroke="#2ea8cf" stroke-width="1.6" stroke-linecap="round"/>
<path d="M80,420 C83,424 85,428 89,427.5 L99,427" fill="none" stroke="#29a6cc" stroke-width="2" stroke-linecap="round"/>
<path d="M100.40,411.80 C100.40,417.65 103.25,420.25 103.25,424.80 C103.25,430.68 100.40,434.04 100.40,441.60" fill="none" stroke="#ffffff" stroke-width="5.800000000000001" stroke-linecap="round"/>
<path d="M107.20,411.80 C107.20,417.65 104.35,420.25 104.35,424.80 C104.35,430.68 107.20,434.04 107.20,441.60" fill="none" stroke="#ffffff" stroke-width="5.800000000000001" stroke-linecap="round"/>
<path d="M100.40,411.80 C100.40,417.65 103.25,420.25 103.25,424.80 C103.25,430.68 100.40,434.04 100.40,441.60" fill="none" stroke="#1466a1" stroke-width="4.2" stroke-linecap="round"/>
<path d="M107.20,411.80 C107.20,417.65 104.35,420.25 104.35,424.80 C104.35,430.68 107.20,434.04 107.20,441.60" fill="none" stroke="#1466a1" stroke-width="4.2" stroke-linecap="round"/>
<path d="M400,392 Q407,391.5 412,389 M422,389.5 Q427,392 435,392 L475,392 Q480,392 483,389 M492,389 Q496,392 503,392" fill="none" stroke="#5a5590" stroke-width="1.1"/>
<line x1="428.00" y1="392.00" x2="478.00" y2="392.00" stroke="#5a5a6a" stroke-width="1.0" />
<g transform="translate(417.5,383) rotate(22) scale(0.85)"><ellipse cx="3.6" cy="0" rx="4.0" ry="9.4" fill="#11578f"/><rect x="-3.4" y="-9.4" width="7" height="18.8" fill="#11578f"/><path d="M-1.2,-9.2 A4.0,9.3 0 0,1 -1.2,9.2" fill="none" stroke="#2c9fcc" stroke-width="0.8"/><path d="M1.2,-9.2 A4.0,9.3 0 0,1 1.2,9.2" fill="none" stroke="#2c9fcc" stroke-width="0.8"/><path d="M3.6,-8.8 A3.9,8.9 0 0,1 3.6,8.8" fill="none" stroke="#2c9fcc" stroke-width="0.7"/><ellipse cx="-3.4" cy="0" rx="4.0" ry="9.4" fill="#38b3d9"/><ellipse cx="-3.9" cy="-1.5" rx="2.2" ry="5.6" fill="#5cc6e4" opacity="0.5"/></g>
<g transform="translate(487,383) rotate(22) scale(0.85)"><ellipse cx="3.6" cy="0" rx="4.0" ry="9.4" fill="#11578f"/><rect x="-3.4" y="-9.4" width="7" height="18.8" fill="#11578f"/><path d="M-1.2,-9.2 A4.0,9.3 0 0,1 -1.2,9.2" fill="none" stroke="#2c9fcc" stroke-width="0.8"/><path d="M1.2,-9.2 A4.0,9.3 0 0,1 1.2,9.2" fill="none" stroke="#2c9fcc" stroke-width="0.8"/><path d="M3.6,-8.8 A3.9,8.9 0 0,1 3.6,8.8" fill="none" stroke="#2c9fcc" stroke-width="0.7"/><ellipse cx="-3.4" cy="0" rx="4.0" ry="9.4" fill="#38b3d9"/><ellipse cx="-3.9" cy="-1.5" rx="2.2" ry="5.6" fill="#5cc6e4" opacity="0.5"/></g>
<path d="M415.60,407.60 C415.60,413.54 418.75,416.18 418.75,420.80 C418.75,426.54 415.60,429.82 415.60,437.20" fill="none" stroke="#ffffff" stroke-width="6.300000000000001" stroke-linecap="round"/>
<path d="M423.00,407.60 C423.00,413.54 419.85,416.18 419.85,420.80 C419.85,426.54 423.00,429.82 423.00,437.20" fill="none" stroke="#ffffff" stroke-width="6.300000000000001" stroke-linecap="round"/>
<path d="M415.60,407.60 C415.60,413.54 418.75,416.18 418.75,420.80 C418.75,426.54 415.60,429.82 415.60,437.20" fill="none" stroke="#1466a1" stroke-width="4.7" stroke-linecap="round"/>
<path d="M423.00,407.60 C423.00,413.54 419.85,416.18 419.85,420.80 C419.85,426.54 423.00,429.82 423.00,437.20" fill="none" stroke="#1466a1" stroke-width="4.7" stroke-linecap="round"/>
<path d="M423,425 C425,414 428,410 431.5,410.3 C436,410.5 434,429.5 437,430 C441,431 441,403.4 446,403.4 C451,403.4 448,431 452,431.5 C456,432 456,411 460.8,411 C466,411 462,433.4 466,433.4 C470,433.4 470,408.8 474.6,408.8 C479,408.8 476,431 480,431 C484,431 484,405.7 488.5,405.7 C492,405.7 491,418 489.5,421" fill="none" stroke="#6cc4e0" stroke-width="1.5" stroke-dasharray="1.5,0.5" stroke-linecap="round"/>
<path d="M63.8,569.6 V560.4 H124.2 V569.6" fill="none" stroke="#111" stroke-width="1.4"/>
<path d="M101,548.8 V539.6 H156.6 V548.8" fill="none" stroke="#111" stroke-width="1.4"/>
<path d="M88.80,552.20 L89.69,554.58 L92.22,554.69 L90.24,556.27 L90.92,558.71 L88.80,557.31 L86.68,558.71 L87.36,556.27 L85.38,554.69 L87.91,554.58ZM94.80,552.20 L95.69,554.58 L98.22,554.69 L96.24,556.27 L96.92,558.71 L94.80,557.31 L92.68,558.71 L93.36,556.27 L91.38,554.69 L93.91,554.58ZM100.80,552.20 L101.69,554.58 L104.22,554.69 L102.24,556.27 L102.92,558.71 L100.80,557.31 L98.68,558.71 L99.36,556.27 L97.38,554.69 L99.91,554.58Z" fill="#111"/>
<path d="M125.40,530.60 L126.29,532.98 L128.82,533.09 L126.84,534.67 L127.52,537.11 L125.40,535.71 L123.28,537.11 L123.96,534.67 L121.98,533.09 L124.51,532.98ZM131.40,530.60 L132.29,532.98 L134.82,533.09 L132.84,534.67 L133.52,537.11 L131.40,535.71 L129.28,537.11 L129.96,534.67 L127.98,533.09 L130.51,532.98ZM137.40,530.60 L138.29,532.98 L140.82,533.09 L138.84,534.67 L139.52,537.11 L137.40,535.71 L135.28,537.11 L135.96,534.67 L133.98,533.09 L136.51,532.98Z" fill="#111"/>
<path d="M68.0,589.9h1.6v1.6h-1.6zM67.9,598.3h1.6v1.6h-1.6zM67.8,610.9h1.6v1.6h-1.6zM67.9,622.5h1.6v1.6h-1.6zM67.7,624.0h1.6v1.6h-1.6zM61.1,628.8h1.6v1.6h-1.6zM64.7,628.4h1.6v1.6h-1.6zM67.8,630.4h1.6v1.6h-1.6zM71.0,630.2h1.6v1.6h-1.6zM74.4,630.7h1.6v1.6h-1.6zM68.1,638.2h1.6v1.6h-1.6zM62.6,641.1h1.6v1.6h-1.6zM66.2,639.5h1.6v1.6h-1.6zM69.7,641.4h1.6v1.6h-1.6zM72.7,640.1h1.6v1.6h-1.6zM57.5,645.4h1.6v1.6h-1.6zM59.6,646.8h1.6v1.6h-1.6zM61.7,644.1h1.6v1.6h-1.6zM63.5,645.4h1.6v1.6h-1.6zM65.6,646.3h1.6v1.6h-1.6zM67.8,646.7h1.6v1.6h-1.6zM70.1,643.8h1.6v1.6h-1.6zM72.2,643.7h1.6v1.6h-1.6zM74.3,643.4h1.6v1.6h-1.6zM76.1,646.5h1.6v1.6h-1.6zM78.6,643.2h1.6v1.6h-1.6zM64.3,649.5h1.6v1.6h-1.6zM67.6,651.0h1.6v1.6h-1.6zM71.3,650.5h1.6v1.6h-1.6zM64.5,652.5h1.6v1.6h-1.6zM67.9,653.7h1.6v1.6h-1.6zM70.9,652.5h1.6v1.6h-1.6zM59.8,658.3h1.6v1.6h-1.6zM62.8,655.7h1.6v1.6h-1.6zM66.4,656.1h1.6v1.6h-1.6zM69.2,656.3h1.6v1.6h-1.6zM73.0,658.0h1.6v1.6h-1.6zM76.0,657.0h1.6v1.6h-1.6zM63.0,659.7h1.6v1.6h-1.6zM66.2,662.1h1.6v1.6h-1.6zM69.3,662.7h1.6v1.6h-1.6zM72.8,660.4h1.6v1.6h-1.6zM59.5,665.9h1.6v1.6h-1.6zM62.7,665.2h1.6v1.6h-1.6zM66.1,665.6h1.6v1.6h-1.6zM69.2,665.8h1.6v1.6h-1.6zM72.9,666.6h1.6v1.6h-1.6zM76.1,663.6h1.6v1.6h-1.6zM64.4,670.5h1.6v1.6h-1.6zM67.6,669.4h1.6v1.6h-1.6zM70.9,670.0h1.6v1.6h-1.6zM66.0,671.9h1.6v1.6h-1.6zM69.5,674.0h1.6v1.6h-1.6zM59.4,678.5h1.6v1.6h-1.6zM62.6,677.9h1.6v1.6h-1.6zM66.2,675.3h1.6v1.6h-1.6zM69.2,675.5h1.6v1.6h-1.6zM72.7,677.7h1.6v1.6h-1.6zM76.0,678.3h1.6v1.6h-1.6zM67.7,682.5h1.6v1.6h-1.6zM68.1,685.8h1.6v1.6h-1.6zM67.6,688.8h1.6v1.6h-1.6z" fill="#d21e3c"/>
<path d="M109.3,563.3h1.6v1.6h-1.6zM104.4,576.2h1.6v1.6h-1.6zM106.7,576.1h1.6v1.6h-1.6zM109.0,576.3h1.6v1.6h-1.6zM111.8,575.9h1.6v1.6h-1.6zM114.3,575.3h1.6v1.6h-1.6zM107.7,577.8h1.6v1.6h-1.6zM110.4,578.1h1.6v1.6h-1.6zM109.3,578.4h1.6v1.6h-1.6zM107.7,580.4h1.6v1.6h-1.6zM110.2,580.2h1.6v1.6h-1.6zM109.3,582.7h1.6v1.6h-1.6zM105.2,583.8h1.6v1.6h-1.6zM108.0,583.0h1.6v1.6h-1.6zM110.3,582.8h1.6v1.6h-1.6zM113.0,584.0h1.6v1.6h-1.6zM107.8,584.4h1.6v1.6h-1.6zM110.3,584.9h1.6v1.6h-1.6zM109.4,587.8h1.6v1.6h-1.6zM107.8,588.8h1.6v1.6h-1.6zM110.2,589.9h1.6v1.6h-1.6zM105.5,590.5h1.6v1.6h-1.6zM107.7,591.7h1.6v1.6h-1.6zM110.6,591.0h1.6v1.6h-1.6zM112.7,590.4h1.6v1.6h-1.6zM108.1,592.3h1.6v1.6h-1.6zM110.5,592.9h1.6v1.6h-1.6zM105.7,594.1h1.6v1.6h-1.6zM108.1,594.5h1.6v1.6h-1.6zM110.5,594.1h1.6v1.6h-1.6zM113.1,594.1h1.6v1.6h-1.6zM104.1,595.1h1.6v1.6h-1.6zM106.5,595.8h1.6v1.6h-1.6zM109.2,595.9h1.6v1.6h-1.6zM111.9,596.1h1.6v1.6h-1.6zM114.0,595.9h1.6v1.6h-1.6zM105.6,596.3h1.6v1.6h-1.6zM107.7,596.6h1.6v1.6h-1.6zM110.5,596.3h1.6v1.6h-1.6zM113.2,596.8h1.6v1.6h-1.6zM104.1,598.0h1.6v1.6h-1.6zM106.7,598.3h1.6v1.6h-1.6zM109.1,598.5h1.6v1.6h-1.6zM111.5,597.9h1.6v1.6h-1.6zM114.2,597.8h1.6v1.6h-1.6zM106.7,599.6h1.6v1.6h-1.6zM109.2,599.4h1.6v1.6h-1.6zM111.7,599.4h1.6v1.6h-1.6zM103.1,601.3h1.6v1.6h-1.6zM105.3,601.6h1.6v1.6h-1.6zM107.7,602.1h1.6v1.6h-1.6zM110.6,600.9h1.6v1.6h-1.6zM113.0,601.3h1.6v1.6h-1.6zM115.7,602.1h1.6v1.6h-1.6zM104.2,602.9h1.6v1.6h-1.6zM106.8,603.0h1.6v1.6h-1.6zM109.3,603.1h1.6v1.6h-1.6zM111.8,603.1h1.6v1.6h-1.6zM114.1,602.9h1.6v1.6h-1.6zM99.2,604.4h1.6v1.6h-1.6zM101.6,603.7h1.6v1.6h-1.6zM104.3,605.0h1.6v1.6h-1.6zM106.8,605.1h1.6v1.6h-1.6zM109.2,604.7h1.6v1.6h-1.6zM111.6,604.1h1.6v1.6h-1.6zM114.1,604.6h1.6v1.6h-1.6zM117.0,605.1h1.6v1.6h-1.6zM119.1,604.8h1.6v1.6h-1.6zM104.3,605.2h1.6v1.6h-1.6zM106.7,605.8h1.6v1.6h-1.6zM109.3,605.6h1.6v1.6h-1.6zM111.5,606.7h1.6v1.6h-1.6zM114.0,605.2h1.6v1.6h-1.6zM96.5,607.0h1.6v1.6h-1.6zM98.9,607.7h1.6v1.6h-1.6zM101.9,608.0h1.6v1.6h-1.6zM103.9,607.7h1.6v1.6h-1.6zM106.4,607.1h1.6v1.6h-1.6zM109.2,607.0h1.6v1.6h-1.6zM111.7,607.8h1.6v1.6h-1.6zM114.4,606.8h1.6v1.6h-1.6zM116.7,607.5h1.6v1.6h-1.6zM119.4,607.7h1.6v1.6h-1.6zM121.7,607.1h1.6v1.6h-1.6zM99.5,609.1h1.6v1.6h-1.6zM101.5,609.1h1.6v1.6h-1.6zM104.2,608.7h1.6v1.6h-1.6zM106.6,609.2h1.6v1.6h-1.6zM109.3,609.4h1.6v1.6h-1.6zM111.8,608.6h1.6v1.6h-1.6zM113.9,609.1h1.6v1.6h-1.6zM116.6,608.7h1.6v1.6h-1.6zM119.0,608.5h1.6v1.6h-1.6zM99.2,610.0h1.6v1.6h-1.6zM101.7,610.8h1.6v1.6h-1.6zM104.5,610.2h1.6v1.6h-1.6zM106.5,611.0h1.6v1.6h-1.6zM109.1,610.8h1.6v1.6h-1.6zM111.5,611.1h1.6v1.6h-1.6zM114.1,610.4h1.6v1.6h-1.6zM116.6,610.0h1.6v1.6h-1.6zM119.2,610.7h1.6v1.6h-1.6zM96.5,611.9h1.6v1.6h-1.6zM99.3,611.9h1.6v1.6h-1.6zM101.9,611.4h1.6v1.6h-1.6zM104.1,612.0h1.6v1.6h-1.6zM106.9,612.0h1.6v1.6h-1.6zM109.5,611.6h1.6v1.6h-1.6zM112.0,611.2h1.6v1.6h-1.6zM114.4,612.1h1.6v1.6h-1.6zM116.4,611.7h1.6v1.6h-1.6zM119.1,611.4h1.6v1.6h-1.6zM121.7,612.6h1.6v1.6h-1.6zM100.3,612.8h1.6v1.6h-1.6zM102.7,612.9h1.6v1.6h-1.6zM105.2,613.8h1.6v1.6h-1.6zM107.7,613.5h1.6v1.6h-1.6zM110.7,613.5h1.6v1.6h-1.6zM112.7,613.9h1.6v1.6h-1.6zM115.7,613.7h1.6v1.6h-1.6zM117.8,613.9h1.6v1.6h-1.6zM97.7,615.4h1.6v1.6h-1.6zM100.6,614.2h1.6v1.6h-1.6zM102.9,614.6h1.6v1.6h-1.6zM105.3,614.6h1.6v1.6h-1.6zM107.9,615.6h1.6v1.6h-1.6zM110.3,615.2h1.6v1.6h-1.6zM112.8,615.1h1.6v1.6h-1.6zM115.2,614.4h1.6v1.6h-1.6zM118.1,615.7h1.6v1.6h-1.6zM120.4,614.2h1.6v1.6h-1.6zM101.7,616.7h1.6v1.6h-1.6zM104.3,616.3h1.6v1.6h-1.6zM106.5,616.6h1.6v1.6h-1.6zM109.1,617.2h1.6v1.6h-1.6zM111.5,617.1h1.6v1.6h-1.6zM114.2,616.0h1.6v1.6h-1.6zM116.7,616.9h1.6v1.6h-1.6zM100.5,618.0h1.6v1.6h-1.6zM102.7,617.9h1.6v1.6h-1.6zM105.3,617.4h1.6v1.6h-1.6zM107.8,618.1h1.6v1.6h-1.6zM110.3,618.7h1.6v1.6h-1.6zM113.2,617.9h1.6v1.6h-1.6zM115.2,617.9h1.6v1.6h-1.6zM117.9,618.5h1.6v1.6h-1.6zM104.4,619.3h1.6v1.6h-1.6zM107.0,619.8h1.6v1.6h-1.6zM109.0,619.7h1.6v1.6h-1.6zM112.0,619.1h1.6v1.6h-1.6zM114.5,619.4h1.6v1.6h-1.6zM98.2,621.2h1.6v1.6h-1.6zM100.2,620.6h1.6v1.6h-1.6zM102.7,621.1h1.6v1.6h-1.6zM105.5,621.5h1.6v1.6h-1.6zM107.7,621.0h1.6v1.6h-1.6zM110.5,621.2h1.6v1.6h-1.6zM112.7,621.2h1.6v1.6h-1.6zM115.5,620.7h1.6v1.6h-1.6zM118.0,620.6h1.6v1.6h-1.6zM120.2,621.3h1.6v1.6h-1.6zM99.3,622.0h1.6v1.6h-1.6zM101.7,622.3h1.6v1.6h-1.6zM104.1,623.2h1.6v1.6h-1.6zM106.6,622.9h1.6v1.6h-1.6zM109.4,622.6h1.6v1.6h-1.6zM111.9,622.6h1.6v1.6h-1.6zM114.3,622.0h1.6v1.6h-1.6zM116.8,623.0h1.6v1.6h-1.6zM119.3,622.0h1.6v1.6h-1.6zM95.7,623.5h1.6v1.6h-1.6zM97.8,623.9h1.6v1.6h-1.6zM100.2,624.6h1.6v1.6h-1.6zM102.7,624.5h1.6v1.6h-1.6zM105.5,623.9h1.6v1.6h-1.6zM107.9,624.6h1.6v1.6h-1.6zM110.4,624.6h1.6v1.6h-1.6zM113.0,624.2h1.6v1.6h-1.6zM115.7,624.2h1.6v1.6h-1.6zM117.8,623.9h1.6v1.6h-1.6zM120.2,624.6h1.6v1.6h-1.6zM123.0,623.6h1.6v1.6h-1.6zM94.5,624.8h1.6v1.6h-1.6zM95.8,624.9h1.6v1.6h-1.6zM97.7,625.4h1.6v1.6h-1.6zM100.0,624.9h1.6v1.6h-1.6zM101.6,626.1h1.6v1.6h-1.6zM103.4,625.8h1.6v1.6h-1.6zM105.3,626.2h1.6v1.6h-1.6zM107.2,625.1h1.6v1.6h-1.6zM109.2,625.6h1.6v1.6h-1.6zM111.3,625.0h1.6v1.6h-1.6zM112.7,624.9h1.6v1.6h-1.6zM114.8,624.7h1.6v1.6h-1.6zM117.0,625.2h1.6v1.6h-1.6zM118.5,625.0h1.6v1.6h-1.6zM120.5,624.8h1.6v1.6h-1.6zM122.6,626.0h1.6v1.6h-1.6zM123.9,625.0h1.6v1.6h-1.6zM94.3,627.0h1.6v1.6h-1.6zM96.4,626.7h1.6v1.6h-1.6zM98.7,626.8h1.6v1.6h-1.6zM101.3,627.2h1.6v1.6h-1.6zM103.5,626.7h1.6v1.6h-1.6zM105.5,626.8h1.6v1.6h-1.6zM108.0,626.4h1.6v1.6h-1.6zM110.3,626.6h1.6v1.6h-1.6zM112.7,626.4h1.6v1.6h-1.6zM114.8,627.2h1.6v1.6h-1.6zM117.1,627.3h1.6v1.6h-1.6zM119.4,626.4h1.6v1.6h-1.6zM121.7,626.8h1.6v1.6h-1.6zM124.2,627.5h1.6v1.6h-1.6zM93.9,628.9h1.6v1.6h-1.6zM96.6,627.8h1.6v1.6h-1.6zM99.0,628.9h1.6v1.6h-1.6zM101.5,628.9h1.6v1.6h-1.6zM104.3,628.9h1.6v1.6h-1.6zM106.7,628.0h1.6v1.6h-1.6zM109.4,628.1h1.6v1.6h-1.6zM111.9,628.0h1.6v1.6h-1.6zM114.2,628.7h1.6v1.6h-1.6zM116.6,628.5h1.6v1.6h-1.6zM119.2,629.1h1.6v1.6h-1.6zM121.6,628.8h1.6v1.6h-1.6zM124.0,628.7h1.6v1.6h-1.6zM103.1,630.0h1.6v1.6h-1.6zM105.5,629.8h1.6v1.6h-1.6zM108.2,630.3h1.6v1.6h-1.6zM110.2,629.4h1.6v1.6h-1.6zM113.2,629.7h1.6v1.6h-1.6zM115.3,629.9h1.6v1.6h-1.6zM96.9,631.8h1.6v1.6h-1.6zM99.4,631.7h1.6v1.6h-1.6zM101.8,631.7h1.6v1.6h-1.6zM103.9,631.0h1.6v1.6h-1.6zM106.5,631.7h1.6v1.6h-1.6zM109.4,632.2h1.6v1.6h-1.6zM111.8,631.0h1.6v1.6h-1.6zM114.5,630.9h1.6v1.6h-1.6zM116.9,632.1h1.6v1.6h-1.6zM118.9,631.1h1.6v1.6h-1.6zM121.9,631.1h1.6v1.6h-1.6zM94.4,633.2h1.6v1.6h-1.6zM95.8,633.7h1.6v1.6h-1.6zM98.1,633.7h1.6v1.6h-1.6zM99.6,632.4h1.6v1.6h-1.6zM102.0,632.6h1.6v1.6h-1.6zM103.7,632.2h1.6v1.6h-1.6zM105.7,632.9h1.6v1.6h-1.6zM107.2,632.6h1.6v1.6h-1.6zM109.3,632.5h1.6v1.6h-1.6zM111.3,632.5h1.6v1.6h-1.6zM112.7,633.4h1.6v1.6h-1.6zM115.1,633.2h1.6v1.6h-1.6zM116.5,632.6h1.6v1.6h-1.6zM118.6,633.5h1.6v1.6h-1.6zM120.5,632.3h1.6v1.6h-1.6zM122.6,633.6h1.6v1.6h-1.6zM124.1,632.2h1.6v1.6h-1.6zM94.0,634.3h1.6v1.6h-1.6zM96.4,634.2h1.6v1.6h-1.6zM99.5,634.5h1.6v1.6h-1.6zM101.6,634.9h1.6v1.6h-1.6zM104.2,634.0h1.6v1.6h-1.6zM106.4,633.9h1.6v1.6h-1.6zM109.0,634.5h1.6v1.6h-1.6zM111.7,634.6h1.6v1.6h-1.6zM114.3,634.2h1.6v1.6h-1.6zM116.7,634.6h1.6v1.6h-1.6zM119.0,634.9h1.6v1.6h-1.6zM121.9,634.7h1.6v1.6h-1.6zM124.4,634.5h1.6v1.6h-1.6zM94.0,636.4h1.6v1.6h-1.6zM96.1,636.5h1.6v1.6h-1.6zM98.6,635.6h1.6v1.6h-1.6zM100.7,636.6h1.6v1.6h-1.6zM102.8,636.3h1.6v1.6h-1.6zM105.1,635.3h1.6v1.6h-1.6zM107.0,636.2h1.6v1.6h-1.6zM109.3,636.0h1.6v1.6h-1.6zM111.1,635.6h1.6v1.6h-1.6zM113.6,635.2h1.6v1.6h-1.6zM115.8,635.7h1.6v1.6h-1.6zM117.9,635.9h1.6v1.6h-1.6zM120.2,636.6h1.6v1.6h-1.6zM122.3,635.4h1.6v1.6h-1.6zM123.9,635.4h1.6v1.6h-1.6zM93.9,637.1h1.6v1.6h-1.6zM95.8,638.0h1.6v1.6h-1.6zM97.0,637.7h1.6v1.6h-1.6zM98.5,637.7h1.6v1.6h-1.6zM100.5,638.0h1.6v1.6h-1.6zM101.5,637.4h1.6v1.6h-1.6zM103.0,637.1h1.6v1.6h-1.6zM104.9,637.0h1.6v1.6h-1.6zM106.4,636.8h1.6v1.6h-1.6zM107.5,637.5h1.6v1.6h-1.6zM109.1,637.9h1.6v1.6h-1.6zM110.7,637.7h1.6v1.6h-1.6zM112.4,637.5h1.6v1.6h-1.6zM113.5,638.2h1.6v1.6h-1.6zM115.1,637.2h1.6v1.6h-1.6zM116.5,636.7h1.6v1.6h-1.6zM118.0,636.9h1.6v1.6h-1.6zM119.5,636.8h1.6v1.6h-1.6zM121.0,637.2h1.6v1.6h-1.6zM122.4,638.2h1.6v1.6h-1.6zM124.2,638.1h1.6v1.6h-1.6zM95.7,639.1h1.6v1.6h-1.6zM97.9,639.4h1.6v1.6h-1.6zM100.3,638.3h1.6v1.6h-1.6zM102.7,638.3h1.6v1.6h-1.6zM105.4,639.0h1.6v1.6h-1.6zM108.1,639.5h1.6v1.6h-1.6zM110.7,638.9h1.6v1.6h-1.6zM112.7,639.1h1.6v1.6h-1.6zM115.5,639.6h1.6v1.6h-1.6zM117.9,638.4h1.6v1.6h-1.6zM120.6,638.4h1.6v1.6h-1.6zM123.1,638.3h1.6v1.6h-1.6zM94.0,641.1h1.6v1.6h-1.6zM96.1,641.1h1.6v1.6h-1.6zM97.2,640.6h1.6v1.6h-1.6zM98.8,640.7h1.6v1.6h-1.6zM100.7,640.1h1.6v1.6h-1.6zM102.2,639.9h1.6v1.6h-1.6zM103.9,639.7h1.6v1.6h-1.6zM105.2,640.5h1.6v1.6h-1.6zM107.0,640.5h1.6v1.6h-1.6zM108.3,639.9h1.6v1.6h-1.6zM110.0,641.1h1.6v1.6h-1.6zM111.5,640.3h1.6v1.6h-1.6zM113.2,640.9h1.6v1.6h-1.6zM114.7,640.4h1.6v1.6h-1.6zM116.0,640.7h1.6v1.6h-1.6zM117.8,640.8h1.6v1.6h-1.6zM119.5,640.5h1.6v1.6h-1.6zM120.9,641.0h1.6v1.6h-1.6zM122.8,640.2h1.6v1.6h-1.6zM124.5,640.3h1.6v1.6h-1.6zM94.3,641.9h1.6v1.6h-1.6zM96.5,641.6h1.6v1.6h-1.6zM98.2,641.4h1.6v1.6h-1.6zM100.4,642.2h1.6v1.6h-1.6zM102.8,642.5h1.6v1.6h-1.6zM104.9,641.3h1.6v1.6h-1.6zM107.2,641.8h1.6v1.6h-1.6zM109.2,641.2h1.6v1.6h-1.6zM111.2,642.2h1.6v1.6h-1.6zM113.6,642.5h1.6v1.6h-1.6zM115.9,641.4h1.6v1.6h-1.6zM117.7,642.7h1.6v1.6h-1.6zM120.0,641.7h1.6v1.6h-1.6zM122.3,642.4h1.6v1.6h-1.6zM124.4,641.3h1.6v1.6h-1.6zM97.9,643.1h1.6v1.6h-1.6zM100.7,643.1h1.6v1.6h-1.6zM103.2,644.1h1.6v1.6h-1.6zM105.3,643.7h1.6v1.6h-1.6zM107.7,643.5h1.6v1.6h-1.6zM110.7,644.1h1.6v1.6h-1.6zM112.8,643.2h1.6v1.6h-1.6zM115.2,643.0h1.6v1.6h-1.6zM118.0,642.7h1.6v1.6h-1.6zM120.4,643.5h1.6v1.6h-1.6zM96.5,644.4h1.6v1.6h-1.6zM99.4,644.9h1.6v1.6h-1.6zM101.6,645.4h1.6v1.6h-1.6zM104.4,645.0h1.6v1.6h-1.6zM106.6,644.8h1.6v1.6h-1.6zM109.5,644.3h1.6v1.6h-1.6zM111.9,645.6h1.6v1.6h-1.6zM114.1,645.6h1.6v1.6h-1.6zM116.4,645.3h1.6v1.6h-1.6zM119.2,644.3h1.6v1.6h-1.6zM121.5,644.6h1.6v1.6h-1.6zM98.1,646.4h1.6v1.6h-1.6zM100.7,645.7h1.6v1.6h-1.6zM102.9,646.8h1.6v1.6h-1.6zM105.3,645.8h1.6v1.6h-1.6zM108.2,646.5h1.6v1.6h-1.6zM110.7,646.5h1.6v1.6h-1.6zM112.8,645.8h1.6v1.6h-1.6zM115.4,646.8h1.6v1.6h-1.6zM117.7,646.9h1.6v1.6h-1.6zM120.6,646.0h1.6v1.6h-1.6zM95.7,647.8h1.6v1.6h-1.6zM97.8,647.4h1.6v1.6h-1.6zM100.4,648.6h1.6v1.6h-1.6zM103.0,647.6h1.6v1.6h-1.6zM105.4,647.7h1.6v1.6h-1.6zM107.7,648.0h1.6v1.6h-1.6zM110.7,647.7h1.6v1.6h-1.6zM112.7,648.4h1.6v1.6h-1.6zM115.5,647.7h1.6v1.6h-1.6zM118.2,647.7h1.6v1.6h-1.6zM120.5,647.6h1.6v1.6h-1.6zM123.0,648.3h1.6v1.6h-1.6zM99.3,649.4h1.6v1.6h-1.6zM101.6,649.4h1.6v1.6h-1.6zM104.1,649.9h1.6v1.6h-1.6zM106.8,650.2h1.6v1.6h-1.6zM108.9,650.0h1.6v1.6h-1.6zM111.7,650.0h1.6v1.6h-1.6zM114.5,650.0h1.6v1.6h-1.6zM116.7,648.8h1.6v1.6h-1.6zM119.5,649.8h1.6v1.6h-1.6zM97.9,650.2h1.6v1.6h-1.6zM100.6,650.8h1.6v1.6h-1.6zM102.7,650.2h1.6v1.6h-1.6zM105.5,650.2h1.6v1.6h-1.6zM108.1,650.9h1.6v1.6h-1.6zM110.7,650.4h1.6v1.6h-1.6zM112.7,650.3h1.6v1.6h-1.6zM115.5,650.2h1.6v1.6h-1.6zM118.1,651.5h1.6v1.6h-1.6zM120.7,651.6h1.6v1.6h-1.6zM95.3,653.2h1.6v1.6h-1.6zM97.8,652.1h1.6v1.6h-1.6zM100.5,651.9h1.6v1.6h-1.6zM103.1,651.9h1.6v1.6h-1.6zM105.5,652.6h1.6v1.6h-1.6zM108.1,651.8h1.6v1.6h-1.6zM110.7,652.5h1.6v1.6h-1.6zM112.7,652.1h1.6v1.6h-1.6zM115.3,652.5h1.6v1.6h-1.6zM118.0,652.0h1.6v1.6h-1.6zM120.2,652.6h1.6v1.6h-1.6zM123.0,652.7h1.6v1.6h-1.6zM97.8,653.6h1.6v1.6h-1.6zM100.6,653.5h1.6v1.6h-1.6zM103.2,653.8h1.6v1.6h-1.6zM105.2,654.0h1.6v1.6h-1.6zM108.2,654.1h1.6v1.6h-1.6zM110.2,654.1h1.6v1.6h-1.6zM113.1,653.7h1.6v1.6h-1.6zM115.7,653.8h1.6v1.6h-1.6zM118.1,653.8h1.6v1.6h-1.6zM120.6,654.5h1.6v1.6h-1.6zM99.2,654.7h1.6v1.6h-1.6zM101.6,655.3h1.6v1.6h-1.6zM104.3,655.4h1.6v1.6h-1.6zM106.9,655.8h1.6v1.6h-1.6zM109.1,655.5h1.6v1.6h-1.6zM111.4,655.9h1.6v1.6h-1.6zM114.2,655.9h1.6v1.6h-1.6zM116.7,655.9h1.6v1.6h-1.6zM118.9,655.8h1.6v1.6h-1.6zM99.4,657.2h1.6v1.6h-1.6zM101.5,657.5h1.6v1.6h-1.6zM104.3,656.5h1.6v1.6h-1.6zM107.0,657.2h1.6v1.6h-1.6zM109.0,657.3h1.6v1.6h-1.6zM111.5,656.3h1.6v1.6h-1.6zM114.0,657.6h1.6v1.6h-1.6zM116.9,657.0h1.6v1.6h-1.6zM119.3,656.3h1.6v1.6h-1.6zM104.1,658.9h1.6v1.6h-1.6zM106.9,659.0h1.6v1.6h-1.6zM109.4,658.3h1.6v1.6h-1.6zM111.8,658.5h1.6v1.6h-1.6zM114.0,658.0h1.6v1.6h-1.6zM103.1,659.7h1.6v1.6h-1.6zM105.4,659.8h1.6v1.6h-1.6zM108.1,659.4h1.6v1.6h-1.6zM110.3,660.6h1.6v1.6h-1.6zM112.8,659.3h1.6v1.6h-1.6zM115.7,659.2h1.6v1.6h-1.6zM103.1,660.7h1.6v1.6h-1.6zM105.2,661.6h1.6v1.6h-1.6zM107.9,660.8h1.6v1.6h-1.6zM110.5,661.6h1.6v1.6h-1.6zM112.7,662.2h1.6v1.6h-1.6zM115.4,661.9h1.6v1.6h-1.6zM102.7,663.4h1.6v1.6h-1.6zM105.4,663.3h1.6v1.6h-1.6zM107.8,663.5h1.6v1.6h-1.6zM110.2,662.8h1.6v1.6h-1.6zM112.9,662.8h1.6v1.6h-1.6zM115.2,663.3h1.6v1.6h-1.6zM104.3,664.6h1.6v1.6h-1.6zM106.5,664.1h1.6v1.6h-1.6zM109.2,664.5h1.6v1.6h-1.6zM111.9,664.0h1.6v1.6h-1.6zM114.0,665.1h1.6v1.6h-1.6zM94.0,665.3h1.6v1.6h-1.6zM96.8,666.1h1.6v1.6h-1.6zM99.3,665.5h1.6v1.6h-1.6zM101.8,665.3h1.6v1.6h-1.6zM104.3,665.8h1.6v1.6h-1.6zM106.6,665.9h1.6v1.6h-1.6zM109.4,666.3h1.6v1.6h-1.6zM111.7,665.7h1.6v1.6h-1.6zM113.9,666.0h1.6v1.6h-1.6zM116.6,665.8h1.6v1.6h-1.6zM119.3,665.5h1.6v1.6h-1.6zM121.4,666.2h1.6v1.6h-1.6zM124.0,665.2h1.6v1.6h-1.6zM103.0,667.8h1.6v1.6h-1.6zM105.4,667.1h1.6v1.6h-1.6zM108.1,667.6h1.6v1.6h-1.6zM110.5,667.0h1.6v1.6h-1.6zM113.2,667.1h1.6v1.6h-1.6zM115.3,667.8h1.6v1.6h-1.6zM106.7,669.6h1.6v1.6h-1.6zM109.3,669.1h1.6v1.6h-1.6zM111.5,668.6h1.6v1.6h-1.6zM95.2,670.6h1.6v1.6h-1.6zM98.0,671.2h1.6v1.6h-1.6zM100.7,669.8h1.6v1.6h-1.6zM103.0,671.2h1.6v1.6h-1.6zM105.3,670.9h1.6v1.6h-1.6zM107.8,670.6h1.6v1.6h-1.6zM110.7,670.3h1.6v1.6h-1.6zM113.0,669.8h1.6v1.6h-1.6zM115.2,670.2h1.6v1.6h-1.6zM118.0,669.8h1.6v1.6h-1.6zM120.5,671.0h1.6v1.6h-1.6zM122.8,671.1h1.6v1.6h-1.6zM104.1,671.4h1.6v1.6h-1.6zM106.4,671.4h1.6v1.6h-1.6zM109.1,671.3h1.6v1.6h-1.6zM111.5,671.9h1.6v1.6h-1.6zM114.5,671.8h1.6v1.6h-1.6zM98.0,673.0h1.6v1.6h-1.6zM100.6,673.6h1.6v1.6h-1.6zM103.0,673.4h1.6v1.6h-1.6zM105.7,673.1h1.6v1.6h-1.6zM108.0,673.1h1.6v1.6h-1.6zM110.5,673.6h1.6v1.6h-1.6zM112.9,673.8h1.6v1.6h-1.6zM115.3,673.6h1.6v1.6h-1.6zM117.8,672.9h1.6v1.6h-1.6zM120.7,673.7h1.6v1.6h-1.6zM101.6,674.7h1.6v1.6h-1.6zM103.9,674.3h1.6v1.6h-1.6zM106.6,674.9h1.6v1.6h-1.6zM109.3,674.2h1.6v1.6h-1.6zM111.4,675.0h1.6v1.6h-1.6zM114.5,674.3h1.6v1.6h-1.6zM116.9,674.4h1.6v1.6h-1.6zM101.9,677.0h1.6v1.6h-1.6zM104.0,675.9h1.6v1.6h-1.6zM106.4,675.7h1.6v1.6h-1.6zM109.1,675.8h1.6v1.6h-1.6zM111.9,676.4h1.6v1.6h-1.6zM114.2,675.9h1.6v1.6h-1.6zM116.9,676.5h1.6v1.6h-1.6zM103.0,678.3h1.6v1.6h-1.6zM105.2,678.2h1.6v1.6h-1.6zM108.0,677.9h1.6v1.6h-1.6zM110.5,677.8h1.6v1.6h-1.6zM112.7,678.4h1.6v1.6h-1.6zM115.7,677.8h1.6v1.6h-1.6zM96.8,679.7h1.6v1.6h-1.6zM99.1,679.4h1.6v1.6h-1.6zM101.8,680.1h1.6v1.6h-1.6zM104.5,680.1h1.6v1.6h-1.6zM106.9,679.3h1.6v1.6h-1.6zM109.4,679.9h1.6v1.6h-1.6zM111.9,679.3h1.6v1.6h-1.6zM114.0,679.6h1.6v1.6h-1.6zM116.7,679.8h1.6v1.6h-1.6zM119.4,678.7h1.6v1.6h-1.6zM121.8,679.1h1.6v1.6h-1.6zM104.4,681.0h1.6v1.6h-1.6zM106.5,680.3h1.6v1.6h-1.6zM109.5,680.5h1.6v1.6h-1.6zM111.4,681.6h1.6v1.6h-1.6zM114.2,680.4h1.6v1.6h-1.6zM104.3,682.7h1.6v1.6h-1.6zM106.5,682.7h1.6v1.6h-1.6zM109.2,682.6h1.6v1.6h-1.6zM112.0,682.2h1.6v1.6h-1.6zM114.4,682.4h1.6v1.6h-1.6zM100.4,684.3h1.6v1.6h-1.6zM102.8,684.3h1.6v1.6h-1.6zM105.2,683.5h1.6v1.6h-1.6zM107.7,684.4h1.6v1.6h-1.6zM110.7,683.5h1.6v1.6h-1.6zM113.2,683.9h1.6v1.6h-1.6zM115.6,684.1h1.6v1.6h-1.6zM118.1,683.8h1.6v1.6h-1.6zM108.2,685.8h1.6v1.6h-1.6zM110.2,685.5h1.6v1.6h-1.6zM109.3,686.4h1.6v1.6h-1.6z" fill="#13508d"/>
<path d="M150.3,578.1h1.6v1.6h-1.6zM150.7,589.9h1.6v1.6h-1.6zM150.4,594.1h1.6v1.6h-1.6zM150.6,598.3h1.6v1.6h-1.6zM150.2,600.4h1.6v1.6h-1.6zM145.4,606.7h1.6v1.6h-1.6zM148.6,606.3h1.6v1.6h-1.6zM151.8,607.2h1.6v1.6h-1.6zM155.3,607.8h1.6v1.6h-1.6zM141.9,611.1h1.6v1.6h-1.6zM145.4,608.4h1.6v1.6h-1.6zM149.0,609.6h1.6v1.6h-1.6zM152.3,611.2h1.6v1.6h-1.6zM155.3,610.8h1.6v1.6h-1.6zM158.7,611.1h1.6v1.6h-1.6zM137.5,612.6h1.6v1.6h-1.6zM140.6,613.6h1.6v1.6h-1.6zM143.7,612.5h1.6v1.6h-1.6zM147.1,614.0h1.6v1.6h-1.6zM150.7,612.4h1.6v1.6h-1.6zM153.9,612.0h1.6v1.6h-1.6zM156.7,613.6h1.6v1.6h-1.6zM160.1,612.6h1.6v1.6h-1.6zM163.5,613.8h1.6v1.6h-1.6zM147.2,616.9h1.6v1.6h-1.6zM150.1,616.0h1.6v1.6h-1.6zM153.8,616.2h1.6v1.6h-1.6zM140.7,619.5h1.6v1.6h-1.6zM143.7,618.5h1.6v1.6h-1.6zM147.0,617.5h1.6v1.6h-1.6zM150.6,618.6h1.6v1.6h-1.6zM153.6,617.5h1.6v1.6h-1.6zM157.0,619.6h1.6v1.6h-1.6zM160.1,619.0h1.6v1.6h-1.6zM137.1,622.2h1.6v1.6h-1.6zM140.6,621.4h1.6v1.6h-1.6zM143.9,622.0h1.6v1.6h-1.6zM147.0,622.6h1.6v1.6h-1.6zM150.2,620.6h1.6v1.6h-1.6zM153.6,620.6h1.6v1.6h-1.6zM156.9,621.2h1.6v1.6h-1.6zM160.4,620.2h1.6v1.6h-1.6zM163.7,620.2h1.6v1.6h-1.6zM142.1,623.6h1.6v1.6h-1.6zM145.4,626.0h1.6v1.6h-1.6zM148.8,626.0h1.6v1.6h-1.6zM151.8,624.7h1.6v1.6h-1.6zM155.1,625.8h1.6v1.6h-1.6zM158.8,625.8h1.6v1.6h-1.6zM139.1,628.8h1.6v1.6h-1.6zM142.1,628.3h1.6v1.6h-1.6zM145.4,627.5h1.6v1.6h-1.6zM148.9,626.5h1.6v1.6h-1.6zM152.2,628.2h1.6v1.6h-1.6zM155.6,626.8h1.6v1.6h-1.6zM158.5,628.0h1.6v1.6h-1.6zM162.1,628.3h1.6v1.6h-1.6zM142.4,630.6h1.6v1.6h-1.6zM145.2,629.8h1.6v1.6h-1.6zM148.8,631.2h1.6v1.6h-1.6zM151.9,631.1h1.6v1.6h-1.6zM155.3,630.1h1.6v1.6h-1.6zM158.5,629.5h1.6v1.6h-1.6zM140.6,633.8h1.6v1.6h-1.6zM144.1,634.0h1.6v1.6h-1.6zM147.3,635.0h1.6v1.6h-1.6zM150.6,633.2h1.6v1.6h-1.6zM153.5,632.3h1.6v1.6h-1.6zM156.7,633.5h1.6v1.6h-1.6zM160.5,632.6h1.6v1.6h-1.6zM140.8,636.8h1.6v1.6h-1.6zM144.0,636.0h1.6v1.6h-1.6zM147.4,636.1h1.6v1.6h-1.6zM150.2,637.1h1.6v1.6h-1.6zM153.5,637.3h1.6v1.6h-1.6zM156.9,635.8h1.6v1.6h-1.6zM160.5,637.1h1.6v1.6h-1.6zM137.0,640.0h1.6v1.6h-1.6zM139.2,640.1h1.6v1.6h-1.6zM141.5,641.0h1.6v1.6h-1.6zM143.8,639.7h1.6v1.6h-1.6zM145.8,638.9h1.6v1.6h-1.6zM148.4,639.8h1.6v1.6h-1.6zM150.5,639.4h1.6v1.6h-1.6zM152.4,640.8h1.6v1.6h-1.6zM154.9,639.9h1.6v1.6h-1.6zM157.0,639.0h1.6v1.6h-1.6zM159.1,638.2h1.6v1.6h-1.6zM161.6,638.4h1.6v1.6h-1.6zM164.0,640.2h1.6v1.6h-1.6zM141.9,643.6h1.6v1.6h-1.6zM145.3,644.1h1.6v1.6h-1.6zM149.0,642.5h1.6v1.6h-1.6zM151.9,643.3h1.6v1.6h-1.6zM155.1,643.5h1.6v1.6h-1.6zM158.6,643.2h1.6v1.6h-1.6zM144.0,647.2h1.6v1.6h-1.6zM147.4,645.9h1.6v1.6h-1.6zM150.3,645.0h1.6v1.6h-1.6zM153.8,645.1h1.6v1.6h-1.6zM157.0,644.8h1.6v1.6h-1.6zM141.9,649.5h1.6v1.6h-1.6zM145.3,649.1h1.6v1.6h-1.6zM148.9,649.0h1.6v1.6h-1.6zM151.8,650.2h1.6v1.6h-1.6zM155.6,649.1h1.6v1.6h-1.6zM158.5,649.0h1.6v1.6h-1.6zM145.6,652.3h1.6v1.6h-1.6zM148.5,653.2h1.6v1.6h-1.6zM152.0,653.1h1.6v1.6h-1.6zM155.6,652.2h1.6v1.6h-1.6zM147.2,653.4h1.6v1.6h-1.6zM150.1,654.1h1.6v1.6h-1.6zM153.7,654.5h1.6v1.6h-1.6zM143.8,657.3h1.6v1.6h-1.6zM147.2,656.8h1.6v1.6h-1.6zM150.6,658.8h1.6v1.6h-1.6zM153.7,658.5h1.6v1.6h-1.6zM156.9,657.1h1.6v1.6h-1.6zM139.0,659.7h1.6v1.6h-1.6zM142.4,660.4h1.6v1.6h-1.6zM145.7,660.4h1.6v1.6h-1.6zM148.9,661.2h1.6v1.6h-1.6zM151.8,660.2h1.6v1.6h-1.6zM155.5,661.0h1.6v1.6h-1.6zM158.4,661.0h1.6v1.6h-1.6zM161.8,660.0h1.6v1.6h-1.6zM141.9,662.2h1.6v1.6h-1.6zM145.5,663.9h1.6v1.6h-1.6zM148.6,663.9h1.6v1.6h-1.6zM152.2,663.4h1.6v1.6h-1.6zM155.6,663.5h1.6v1.6h-1.6zM158.7,663.5h1.6v1.6h-1.6zM136.9,667.6h1.6v1.6h-1.6zM139.9,666.9h1.6v1.6h-1.6zM142.4,667.4h1.6v1.6h-1.6zM145.2,668.1h1.6v1.6h-1.6zM147.7,667.5h1.6v1.6h-1.6zM150.4,665.8h1.6v1.6h-1.6zM153.4,667.9h1.6v1.6h-1.6zM155.9,667.4h1.6v1.6h-1.6zM158.2,665.7h1.6v1.6h-1.6zM161.2,665.3h1.6v1.6h-1.6zM164.0,665.4h1.6v1.6h-1.6zM142.4,670.1h1.6v1.6h-1.6zM145.7,669.3h1.6v1.6h-1.6zM149.0,669.4h1.6v1.6h-1.6zM152.1,670.7h1.6v1.6h-1.6zM155.5,669.0h1.6v1.6h-1.6zM158.8,670.0h1.6v1.6h-1.6zM143.5,674.0h1.6v1.6h-1.6zM147.0,672.9h1.6v1.6h-1.6zM150.6,673.6h1.6v1.6h-1.6zM153.9,671.7h1.6v1.6h-1.6zM156.9,673.8h1.6v1.6h-1.6zM145.7,677.1h1.6v1.6h-1.6zM148.8,676.0h1.6v1.6h-1.6zM152.2,676.9h1.6v1.6h-1.6zM155.6,675.9h1.6v1.6h-1.6zM144.0,678.1h1.6v1.6h-1.6zM146.9,679.5h1.6v1.6h-1.6zM150.5,678.0h1.6v1.6h-1.6zM153.8,677.6h1.6v1.6h-1.6zM157.0,677.7h1.6v1.6h-1.6zM138.6,681.5h1.6v1.6h-1.6zM142.3,682.4h1.6v1.6h-1.6zM145.4,680.8h1.6v1.6h-1.6zM148.5,680.4h1.6v1.6h-1.6zM151.8,682.1h1.6v1.6h-1.6zM155.4,681.9h1.6v1.6h-1.6zM158.5,683.0h1.6v1.6h-1.6zM161.8,680.7h1.6v1.6h-1.6zM147.0,683.9h1.6v1.6h-1.6zM150.1,684.3h1.6v1.6h-1.6zM153.4,683.9h1.6v1.6h-1.6z" fill="#3cb44b"/>
<path d="M190.8,582.7h1.6v1.6h-1.6zM190.7,596.2h1.6v1.6h-1.6zM189.1,612.1h1.6v1.6h-1.6zM192.3,615.1h1.6v1.6h-1.6zM190.6,617.8h1.6v1.6h-1.6zM188.8,622.3h1.6v1.6h-1.6zM192.5,622.1h1.6v1.6h-1.6zM189.3,626.1h1.6v1.6h-1.6zM192.1,625.3h1.6v1.6h-1.6zM188.8,633.5h1.6v1.6h-1.6zM192.1,633.5h1.6v1.6h-1.6zM190.6,638.0h1.6v1.6h-1.6zM185.5,642.2h1.6v1.6h-1.6zM189.0,638.6h1.6v1.6h-1.6zM192.4,638.4h1.6v1.6h-1.6zM195.7,638.9h1.6v1.6h-1.6zM191.0,644.0h1.6v1.6h-1.6zM190.4,647.9h1.6v1.6h-1.6zM188.8,651.9h1.6v1.6h-1.6zM192.1,655.2h1.6v1.6h-1.6zM187.4,658.3h1.6v1.6h-1.6zM190.9,657.6h1.6v1.6h-1.6zM194.0,657.1h1.6v1.6h-1.6zM190.5,663.9h1.6v1.6h-1.6zM190.6,669.4h1.6v1.6h-1.6zM190.7,673.5h1.6v1.6h-1.6zM189.1,676.2h1.6v1.6h-1.6zM192.2,678.3h1.6v1.6h-1.6zM190.9,682.5h1.6v1.6h-1.6zM190.5,687.5h1.6v1.6h-1.6z" fill="#7a2a8c"/>
<line x1="55.10" y1="654.65" x2="82.10" y2="654.65" stroke="#111" stroke-width="1.3" />
<line x1="96.00" y1="639.08" x2="124.00" y2="639.08" stroke="#111" stroke-width="1.3" />
<line x1="137.70" y1="649.18" x2="164.70" y2="649.18" stroke="#111" stroke-width="1.3" />
<line x1="178.00" y1="646.23" x2="205.00" y2="646.23" stroke="#111" stroke-width="1.3" />
<line x1="41.40" y1="517.50" x2="41.40" y2="696.60" stroke="#111" stroke-width="1.3" />
<line x1="40.80" y1="691.70" x2="220.40" y2="691.70" stroke="#111" stroke-width="1.3" />
<line x1="37.10" y1="691.70" x2="41.40" y2="691.70" stroke="#111" stroke-width="1.2" />
<text x="32.4" y="695.3000000000001" font-size="10.5" text-anchor="end" font-weight="normal" fill="#111" >0</text>
<line x1="37.10" y1="649.60" x2="41.40" y2="649.60" stroke="#111" stroke-width="1.2" />
<text x="32.4" y="653.2" font-size="10.5" text-anchor="end" font-weight="normal" fill="#111" >1</text>
<line x1="37.10" y1="607.50" x2="41.40" y2="607.50" stroke="#111" stroke-width="1.2" />
<text x="32.4" y="611.1" font-size="10.5" text-anchor="end" font-weight="normal" fill="#111" >2</text>
<line x1="37.10" y1="565.40" x2="41.40" y2="565.40" stroke="#111" stroke-width="1.2" />
<text x="32.4" y="569.0000000000001" font-size="10.5" text-anchor="end" font-weight="normal" fill="#111" >3</text>
<line x1="37.10" y1="523.30" x2="41.40" y2="523.30" stroke="#111" stroke-width="1.2" />
<text x="32.4" y="526.9000000000001" font-size="10.5" text-anchor="end" font-weight="normal" fill="#111" >4</text>
<line x1="68.60" y1="691.70" x2="68.60" y2="696.20" stroke="#111" stroke-width="1.2" />
<text x="68.8" y="709.6" font-size="10.5" text-anchor="middle" font-weight="normal" fill="#111" >HC</text>
<line x1="110.00" y1="691.70" x2="110.00" y2="696.20" stroke="#111" stroke-width="1.2" />
<text x="109.4" y="709.6" font-size="10.5" text-anchor="middle" font-weight="normal" fill="#111" >WT</text>
<line x1="151.20" y1="691.70" x2="151.20" y2="696.20" stroke="#111" stroke-width="1.2" />
<text x="150.6" y="709.6" font-size="10.5" text-anchor="middle" font-weight="normal" fill="#111" >MT</text>
<line x1="191.50" y1="691.70" x2="191.50" y2="696.20" stroke="#111" stroke-width="1.2" />
<text x="189.7" y="709.6" font-size="10.5" text-anchor="middle" font-weight="normal" fill="#111" >IDH MT</text>
<text transform="translate(19.2,604) rotate(-90)" x="0" y="0" font-size="12.2" font-weight="bold" text-anchor="middle" fill="#111" textLength="76.3" lengthAdjust="spacingAndGlyphs">L2HGDH log2_CPM</text>
<path d="M327.2,627.0a0.95,0.95 0 1,0 1.9,0a0.95,0.95 0 1,0 -1.9,0M289.1,612.2a0.95,0.95 0 1,0 1.9,0a0.95,0.95 0 1,0 -1.9,0M369.8,634.9a0.95,0.95 0 1,0 1.9,0a0.95,0.95 0 1,0 -1.9,0M374.1,636.6a0.95,0.95 0 1,0 1.9,0a0.95,0.95 0 1,0 -1.9,0M341.9,640.1a0.95,0.95 0 1,0 1.9,0a0.95,0.95 0 1,0 -1.9,0M362.6,637.8a0.95,0.95 0 1,0 1.9,0a0.95,0.95 0 1,0 -1.9,0M403.6,652.1a0.95,0.95 0 1,0 1.9,0a0.95,0.95 0 1,0 -1.9,0M383.8,645.2a0.95,0.95 0 1,0 1.9,0a0.95,0.95 0 1,0 -1.9,0M373.0,638.8a0.95,0.95 0 1,0 1.9,0a0.95,0.95 0 1,0 -1.9,0M372.4,625.7a0.95,0.95 0 1,0 1.9,0a0.95,0.95 0 1,0 -1.9,0M324.9,634.1a0.95,0.95 0 1,0 1.9,0a0.95,0.95 0 1,0 -1.9,0M380.8,633.6a0.95,0.95 0 1,0 1.9,0a0.95,0.95 0 1,0 -1.9,0M300.9,641.5a0.95,0.95 0 1,0 1.9,0a0.95,0.95 0 1,0 -1.9,0M341.2,637.4a0.95,0.95 0 1,0 1.9,0a0.95,0.95 0 1,0 -1.9,0M338.0,618.1a0.95,0.95 0 1,0 1.9,0a0.95,0.95 0 1,0 -1.9,0M298.5,622.1a0.95,0.95 0 1,0 1.9,0a0.95,0.95 0 1,0 -1.9,0M348.0,657.0a0.95,0.95 0 1,0 1.9,0a0.95,0.95 0 1,0 -1.9,0M401.6,645.2a0.95,0.95 0 1,0 1.9,0a0.95,0.95 0 1,0 -1.9,0M340.9,636.9a0.95,0.95 0 1,0 1.9,0a0.95,0.95 0 1,0 -1.9,0M314.4,643.4a0.95,0.95 0 1,0 1.9,0a0.95,0.95 0 1,0 -1.9,0M348.5,656.4a0.95,0.95 0 1,0 1.9,0a0.95,0.95 0 1,0 -1.9,0M377.4,651.9a0.95,0.95 0 1,0 1.9,0a0.95,0.95 0 1,0 -1.9,0M357.2,649.7a0.95,0.95 0 1,0 1.9,0a0.95,0.95 0 1,0 -1.9,0M351.2,627.2a0.95,0.95 0 1,0 1.9,0a0.95,0.95 0 1,0 -1.9,0M308.2,621.1a0.95,0.95 0 1,0 1.9,0a0.95,0.95 0 1,0 -1.9,0M366.7,630.9a0.95,0.95 0 1,0 1.9,0a0.95,0.95 0 1,0 -1.9,0M366.2,625.5a0.95,0.95 0 1,0 1.9,0a0.95,0.95 0 1,0 -1.9,0M396.9,647.3a0.95,0.95 0 1,0 1.9,0a0.95,0.95 0 1,0 -1.9,0M372.4,635.5a0.95,0.95 0 1,0 1.9,0a0.95,0.95 0 1,0 -1.9,0M301.1,634.8a0.95,0.95 0 1,0 1.9,0a0.95,0.95 0 1,0 -1.9,0M307.4,635.4a0.95,0.95 0 1,0 1.9,0a0.95,0.95 0 1,0 -1.9,0M317.8,639.3a0.95,0.95 0 1,0 1.9,0a0.95,0.95 0 1,0 -1.9,0M360.3,635.4a0.95,0.95 0 1,0 1.9,0a0.95,0.95 0 1,0 -1.9,0M327.3,632.1a0.95,0.95 0 1,0 1.9,0a0.95,0.95 0 1,0 -1.9,0M391.4,628.3a0.95,0.95 0 1,0 1.9,0a0.95,0.95 0 1,0 -1.9,0M358.8,632.4a0.95,0.95 0 1,0 1.9,0a0.95,0.95 0 1,0 -1.9,0M362.5,635.3a0.95,0.95 0 1,0 1.9,0a0.95,0.95 0 1,0 -1.9,0M374.3,640.2a0.95,0.95 0 1,0 1.9,0a0.95,0.95 0 1,0 -1.9,0M361.7,647.1a0.95,0.95 0 1,0 1.9,0a0.95,0.95 0 1,0 -1.9,0M308.2,626.5a0.95,0.95 0 1,0 1.9,0a0.95,0.95 0 1,0 -1.9,0M426.3,639.4a0.95,0.95 0 1,0 1.9,0a0.95,0.95 0 1,0 -1.9,0M396.1,638.2a0.95,0.95 0 1,0 1.9,0a0.95,0.95 0 1,0 -1.9,0M397.9,657.0a0.95,0.95 0 1,0 1.9,0a0.95,0.95 0 1,0 -1.9,0M328.5,649.8a0.95,0.95 0 1,0 1.9,0a0.95,0.95 0 1,0 -1.9,0M294.8,617.2a0.95,0.95 0 1,0 1.9,0a0.95,0.95 0 1,0 -1.9,0M305.3,625.2a0.95,0.95 0 1,0 1.9,0a0.95,0.95 0 1,0 -1.9,0M319.1,626.4a0.95,0.95 0 1,0 1.9,0a0.95,0.95 0 1,0 -1.9,0M378.3,650.9a0.95,0.95 0 1,0 1.9,0a0.95,0.95 0 1,0 -1.9,0M378.9,631.8a0.95,0.95 0 1,0 1.9,0a0.95,0.95 0 1,0 -1.9,0M395.9,635.1a0.95,0.95 0 1,0 1.9,0a0.95,0.95 0 1,0 -1.9,0M416.8,650.6a0.95,0.95 0 1,0 1.9,0a0.95,0.95 0 1,0 -1.9,0M367.3,631.7a0.95,0.95 0 1,0 1.9,0a0.95,0.95 0 1,0 -1.9,0M362.2,648.6a0.95,0.95 0 1,0 1.9,0a0.95,0.95 0 1,0 -1.9,0M340.2,634.7a0.95,0.95 0 1,0 1.9,0a0.95,0.95 0 1,0 -1.9,0M341.0,657.9a0.95,0.95 0 1,0 1.9,0a0.95,0.95 0 1,0 -1.9,0M315.9,632.7a0.95,0.95 0 1,0 1.9,0a0.95,0.95 0 1,0 -1.9,0M367.0,609.0a0.95,0.95 0 1,0 1.9,0a0.95,0.95 0 1,0 -1.9,0M361.1,628.9a0.95,0.95 0 1,0 1.9,0a0.95,0.95 0 1,0 -1.9,0M338.9,612.7a0.95,0.95 0 1,0 1.9,0a0.95,0.95 0 1,0 -1.9,0M326.5,624.1a0.95,0.95 0 1,0 1.9,0a0.95,0.95 0 1,0 -1.9,0M365.3,635.1a0.95,0.95 0 1,0 1.9,0a0.95,0.95 0 1,0 -1.9,0M391.3,640.0a0.95,0.95 0 1,0 1.9,0a0.95,0.95 0 1,0 -1.9,0M353.8,640.6a0.95,0.95 0 1,0 1.9,0a0.95,0.95 0 1,0 -1.9,0M360.0,628.2a0.95,0.95 0 1,0 1.9,0a0.95,0.95 0 1,0 -1.9,0M334.6,641.1a0.95,0.95 0 1,0 1.9,0a0.95,0.95 0 1,0 -1.9,0M343.7,633.4a0.95,0.95 0 1,0 1.9,0a0.95,0.95 0 1,0 -1.9,0M342.6,627.7a0.95,0.95 0 1,0 1.9,0a0.95,0.95 0 1,0 -1.9,0M333.1,637.7a0.95,0.95 0 1,0 1.9,0a0.95,0.95 0 1,0 -1.9,0M363.5,624.6a0.95,0.95 0 1,0 1.9,0a0.95,0.95 0 1,0 -1.9,0M391.1,637.2a0.95,0.95 0 1,0 1.9,0a0.95,0.95 0 1,0 -1.9,0M322.4,633.2a0.95,0.95 0 1,0 1.9,0a0.95,0.95 0 1,0 -1.9,0M394.1,656.3a0.95,0.95 0 1,0 1.9,0a0.95,0.95 0 1,0 -1.9,0M339.0,635.0a0.95,0.95 0 1,0 1.9,0a0.95,0.95 0 1,0 -1.9,0M340.1,638.5a0.95,0.95 0 1,0 1.9,0a0.95,0.95 0 1,0 -1.9,0M285.4,622.7a0.95,0.95 0 1,0 1.9,0a0.95,0.95 0 1,0 -1.9,0M373.8,634.7a0.95,0.95 0 1,0 1.9,0a0.95,0.95 0 1,0 -1.9,0M318.0,625.8a0.95,0.95 0 1,0 1.9,0a0.95,0.95 0 1,0 -1.9,0M376.0,651.0a0.95,0.95 0 1,0 1.9,0a0.95,0.95 0 1,0 -1.9,0M352.9,629.3a0.95,0.95 0 1,0 1.9,0a0.95,0.95 0 1,0 -1.9,0M359.0,631.8a0.95,0.95 0 1,0 1.9,0a0.95,0.95 0 1,0 -1.9,0M392.1,660.3a0.95,0.95 0 1,0 1.9,0a0.95,0.95 0 1,0 -1.9,0M349.1,631.0a0.95,0.95 0 1,0 1.9,0a0.95,0.95 0 1,0 -1.9,0M298.2,626.8a0.95,0.95 0 1,0 1.9,0a0.95,0.95 0 1,0 -1.9,0M381.1,636.2a0.95,0.95 0 1,0 1.9,0a0.95,0.95 0 1,0 -1.9,0M412.4,659.6a0.95,0.95 0 1,0 1.9,0a0.95,0.95 0 1,0 -1.9,0M348.4,638.8a0.95,0.95 0 1,0 1.9,0a0.95,0.95 0 1,0 -1.9,0M329.9,634.5a0.95,0.95 0 1,0 1.9,0a0.95,0.95 0 1,0 -1.9,0M308.8,642.8a0.95,0.95 0 1,0 1.9,0a0.95,0.95 0 1,0 -1.9,0M368.0,632.4a0.95,0.95 0 1,0 1.9,0a0.95,0.95 0 1,0 -1.9,0M296.4,629.3a0.95,0.95 0 1,0 1.9,0a0.95,0.95 0 1,0 -1.9,0M313.2,624.1a0.95,0.95 0 1,0 1.9,0a0.95,0.95 0 1,0 -1.9,0M355.5,648.5a0.95,0.95 0 1,0 1.9,0a0.95,0.95 0 1,0 -1.9,0M354.4,653.1a0.95,0.95 0 1,0 1.9,0a0.95,0.95 0 1,0 -1.9,0M343.4,648.2a0.95,0.95 0 1,0 1.9,0a0.95,0.95 0 1,0 -1.9,0M313.3,638.1a0.95,0.95 0 1,0 1.9,0a0.95,0.95 0 1,0 -1.9,0M314.9,624.3a0.95,0.95 0 1,0 1.9,0a0.95,0.95 0 1,0 -1.9,0M338.5,615.8a0.95,0.95 0 1,0 1.9,0a0.95,0.95 0 1,0 -1.9,0M353.3,621.8a0.95,0.95 0 1,0 1.9,0a0.95,0.95 0 1,0 -1.9,0M341.0,617.8a0.95,0.95 0 1,0 1.9,0a0.95,0.95 0 1,0 -1.9,0M412.3,630.7a0.95,0.95 0 1,0 1.9,0a0.95,0.95 0 1,0 -1.9,0M332.9,606.1a0.95,0.95 0 1,0 1.9,0a0.95,0.95 0 1,0 -1.9,0M370.8,636.5a0.95,0.95 0 1,0 1.9,0a0.95,0.95 0 1,0 -1.9,0M333.4,620.6a0.95,0.95 0 1,0 1.9,0a0.95,0.95 0 1,0 -1.9,0M361.1,629.2a0.95,0.95 0 1,0 1.9,0a0.95,0.95 0 1,0 -1.9,0M337.8,664.2a0.95,0.95 0 1,0 1.9,0a0.95,0.95 0 1,0 -1.9,0M339.3,631.2a0.95,0.95 0 1,0 1.9,0a0.95,0.95 0 1,0 -1.9,0M401.0,643.5a0.95,0.95 0 1,0 1.9,0a0.95,0.95 0 1,0 -1.9,0M341.0,628.7a0.95,0.95 0 1,0 1.9,0a0.95,0.95 0 1,0 -1.9,0M403.8,651.0a0.95,0.95 0 1,0 1.9,0a0.95,0.95 0 1,0 -1.9,0M328.7,640.2a0.95,0.95 0 1,0 1.9,0a0.95,0.95 0 1,0 -1.9,0M337.0,639.0a0.95,0.95 0 1,0 1.9,0a0.95,0.95 0 1,0 -1.9,0M385.3,632.5a0.95,0.95 0 1,0 1.9,0a0.95,0.95 0 1,0 -1.9,0M300.1,620.4a0.95,0.95 0 1,0 1.9,0a0.95,0.95 0 1,0 -1.9,0M351.9,617.3a0.95,0.95 0 1,0 1.9,0a0.95,0.95 0 1,0 -1.9,0M365.9,653.4a0.95,0.95 0 1,0 1.9,0a0.95,0.95 0 1,0 -1.9,0M368.8,624.7a0.95,0.95 0 1,0 1.9,0a0.95,0.95 0 1,0 -1.9,0M341.4,610.3a0.95,0.95 0 1,0 1.9,0a0.95,0.95 0 1,0 -1.9,0M307.1,638.5a0.95,0.95 0 1,0 1.9,0a0.95,0.95 0 1,0 -1.9,0M376.8,639.1a0.95,0.95 0 1,0 1.9,0a0.95,0.95 0 1,0 -1.9,0M365.0,657.4a0.95,0.95 0 1,0 1.9,0a0.95,0.95 0 1,0 -1.9,0M316.4,663.4a0.95,0.95 0 1,0 1.9,0a0.95,0.95 0 1,0 -1.9,0M354.0,652.9a0.95,0.95 0 1,0 1.9,0a0.95,0.95 0 1,0 -1.9,0M407.0,645.4a0.95,0.95 0 1,0 1.9,0a0.95,0.95 0 1,0 -1.9,0M355.1,633.9a0.95,0.95 0 1,0 1.9,0a0.95,0.95 0 1,0 -1.9,0M314.5,634.1a0.95,0.95 0 1,0 1.9,0a0.95,0.95 0 1,0 -1.9,0M338.1,625.6a0.95,0.95 0 1,0 1.9,0a0.95,0.95 0 1,0 -1.9,0M339.9,629.5a0.95,0.95 0 1,0 1.9,0a0.95,0.95 0 1,0 -1.9,0M361.8,614.5a0.95,0.95 0 1,0 1.9,0a0.95,0.95 0 1,0 -1.9,0M379.3,658.5a0.95,0.95 0 1,0 1.9,0a0.95,0.95 0 1,0 -1.9,0M322.3,641.6a0.95,0.95 0 1,0 1.9,0a0.95,0.95 0 1,0 -1.9,0M331.1,639.7a0.95,0.95 0 1,0 1.9,0a0.95,0.95 0 1,0 -1.9,0M382.8,649.7a0.95,0.95 0 1,0 1.9,0a0.95,0.95 0 1,0 -1.9,0M374.2,646.1a0.95,0.95 0 1,0 1.9,0a0.95,0.95 0 1,0 -1.9,0M393.3,614.2a0.95,0.95 0 1,0 1.9,0a0.95,0.95 0 1,0 -1.9,0M305.9,632.3a0.95,0.95 0 1,0 1.9,0a0.95,0.95 0 1,0 -1.9,0M321.5,622.6a0.95,0.95 0 1,0 1.9,0a0.95,0.95 0 1,0 -1.9,0M382.4,659.3a0.95,0.95 0 1,0 1.9,0a0.95,0.95 0 1,0 -1.9,0M321.7,639.4a0.95,0.95 0 1,0 1.9,0a0.95,0.95 0 1,0 -1.9,0M361.3,627.3a0.95,0.95 0 1,0 1.9,0a0.95,0.95 0 1,0 -1.9,0M349.5,623.3a0.95,0.95 0 1,0 1.9,0a0.95,0.95 0 1,0 -1.9,0M328.0,651.9a0.95,0.95 0 1,0 1.9,0a0.95,0.95 0 1,0 -1.9,0M396.8,618.1a0.95,0.95 0 1,0 1.9,0a0.95,0.95 0 1,0 -1.9,0M350.8,630.6a0.95,0.95 0 1,0 1.9,0a0.95,0.95 0 1,0 -1.9,0M335.4,642.7a0.95,0.95 0 1,0 1.9,0a0.95,0.95 0 1,0 -1.9,0M346.3,629.2a0.95,0.95 0 1,0 1.9,0a0.95,0.95 0 1,0 -1.9,0M358.9,645.3a0.95,0.95 0 1,0 1.9,0a0.95,0.95 0 1,0 -1.9,0M302.2,645.2a0.95,0.95 0 1,0 1.9,0a0.95,0.95 0 1,0 -1.9,0M324.3,628.7a0.95,0.95 0 1,0 1.9,0a0.95,0.95 0 1,0 -1.9,0M311.4,618.4a0.95,0.95 0 1,0 1.9,0a0.95,0.95 0 1,0 -1.9,0M285.8,610.7a0.95,0.95 0 1,0 1.9,0a0.95,0.95 0 1,0 -1.9,0M381.6,662.3a0.95,0.95 0 1,0 1.9,0a0.95,0.95 0 1,0 -1.9,0M395.8,655.9a0.95,0.95 0 1,0 1.9,0a0.95,0.95 0 1,0 -1.9,0M388.2,645.1a0.95,0.95 0 1,0 1.9,0a0.95,0.95 0 1,0 -1.9,0M296.1,612.8a0.95,0.95 0 1,0 1.9,0a0.95,0.95 0 1,0 -1.9,0M363.6,621.8a0.95,0.95 0 1,0 1.9,0a0.95,0.95 0 1,0 -1.9,0M372.4,644.8a0.95,0.95 0 1,0 1.9,0a0.95,0.95 0 1,0 -1.9,0M333.5,648.0a0.95,0.95 0 1,0 1.9,0a0.95,0.95 0 1,0 -1.9,0M376.6,633.4a0.95,0.95 0 1,0 1.9,0a0.95,0.95 0 1,0 -1.9,0M316.5,635.7a0.95,0.95 0 1,0 1.9,0a0.95,0.95 0 1,0 -1.9,0M317.8,624.6a0.95,0.95 0 1,0 1.9,0a0.95,0.95 0 1,0 -1.9,0M325.3,618.0a0.95,0.95 0 1,0 1.9,0a0.95,0.95 0 1,0 -1.9,0M328.8,624.2a0.95,0.95 0 1,0 1.9,0a0.95,0.95 0 1,0 -1.9,0M319.8,642.9a0.95,0.95 0 1,0 1.9,0a0.95,0.95 0 1,0 -1.9,0M381.1,656.8a0.95,0.95 0 1,0 1.9,0a0.95,0.95 0 1,0 -1.9,0M317.9,648.8a0.95,0.95 0 1,0 1.9,0a0.95,0.95 0 1,0 -1.9,0M336.7,623.9a0.95,0.95 0 1,0 1.9,0a0.95,0.95 0 1,0 -1.9,0M331.4,618.1a0.95,0.95 0 1,0 1.9,0a0.95,0.95 0 1,0 -1.9,0M419.5,661.4a0.95,0.95 0 1,0 1.9,0a0.95,0.95 0 1,0 -1.9,0M323.3,637.7a0.95,0.95 0 1,0 1.9,0a0.95,0.95 0 1,0 -1.9,0M365.8,650.6a0.95,0.95 0 1,0 1.9,0a0.95,0.95 0 1,0 -1.9,0M407.6,648.1a0.95,0.95 0 1,0 1.9,0a0.95,0.95 0 1,0 -1.9,0M314.5,640.3a0.95,0.95 0 1,0 1.9,0a0.95,0.95 0 1,0 -1.9,0M325.4,642.3a0.95,0.95 0 1,0 1.9,0a0.95,0.95 0 1,0 -1.9,0M340.9,618.6a0.95,0.95 0 1,0 1.9,0a0.95,0.95 0 1,0 -1.9,0M310.1,617.3a0.95,0.95 0 1,0 1.9,0a0.95,0.95 0 1,0 -1.9,0M389.1,642.8a0.95,0.95 0 1,0 1.9,0a0.95,0.95 0 1,0 -1.9,0M336.5,619.4a0.95,0.95 0 1,0 1.9,0a0.95,0.95 0 1,0 -1.9,0M383.8,649.8a0.95,0.95 0 1,0 1.9,0a0.95,0.95 0 1,0 -1.9,0M367.7,633.5a0.95,0.95 0 1,0 1.9,0a0.95,0.95 0 1,0 -1.9,0M351.9,648.4a0.95,0.95 0 1,0 1.9,0a0.95,0.95 0 1,0 -1.9,0M380.8,651.3a0.95,0.95 0 1,0 1.9,0a0.95,0.95 0 1,0 -1.9,0M341.9,622.6a0.95,0.95 0 1,0 1.9,0a0.95,0.95 0 1,0 -1.9,0M383.8,657.6a0.95,0.95 0 1,0 1.9,0a0.95,0.95 0 1,0 -1.9,0M310.7,634.6a0.95,0.95 0 1,0 1.9,0a0.95,0.95 0 1,0 -1.9,0M328.3,647.3a0.95,0.95 0 1,0 1.9,0a0.95,0.95 0 1,0 -1.9,0M388.5,659.2a0.95,0.95 0 1,0 1.9,0a0.95,0.95 0 1,0 -1.9,0M286.6,625.0a0.95,0.95 0 1,0 1.9,0a0.95,0.95 0 1,0 -1.9,0M365.9,638.8a0.95,0.95 0 1,0 1.9,0a0.95,0.95 0 1,0 -1.9,0M338.6,653.7a0.95,0.95 0 1,0 1.9,0a0.95,0.95 0 1,0 -1.9,0M334.4,606.8a0.95,0.95 0 1,0 1.9,0a0.95,0.95 0 1,0 -1.9,0M329.8,614.0a0.95,0.95 0 1,0 1.9,0a0.95,0.95 0 1,0 -1.9,0M390.8,655.7a0.95,0.95 0 1,0 1.9,0a0.95,0.95 0 1,0 -1.9,0M304.3,623.6a0.95,0.95 0 1,0 1.9,0a0.95,0.95 0 1,0 -1.9,0M376.9,639.9a0.95,0.95 0 1,0 1.9,0a0.95,0.95 0 1,0 -1.9,0M365.9,647.9a0.95,0.95 0 1,0 1.9,0a0.95,0.95 0 1,0 -1.9,0M338.2,651.2a0.95,0.95 0 1,0 1.9,0a0.95,0.95 0 1,0 -1.9,0M348.6,636.7a0.95,0.95 0 1,0 1.9,0a0.95,0.95 0 1,0 -1.9,0M372.9,643.5a0.95,0.95 0 1,0 1.9,0a0.95,0.95 0 1,0 -1.9,0M333.0,619.0a0.95,0.95 0 1,0 1.9,0a0.95,0.95 0 1,0 -1.9,0M304.8,626.9a0.95,0.95 0 1,0 1.9,0a0.95,0.95 0 1,0 -1.9,0M360.0,651.6a0.95,0.95 0 1,0 1.9,0a0.95,0.95 0 1,0 -1.9,0M325.4,641.3a0.95,0.95 0 1,0 1.9,0a0.95,0.95 0 1,0 -1.9,0M338.7,635.3a0.95,0.95 0 1,0 1.9,0a0.95,0.95 0 1,0 -1.9,0M352.9,625.4a0.95,0.95 0 1,0 1.9,0a0.95,0.95 0 1,0 -1.9,0M373.9,656.1a0.95,0.95 0 1,0 1.9,0a0.95,0.95 0 1,0 -1.9,0M406.9,644.1a0.95,0.95 0 1,0 1.9,0a0.95,0.95 0 1,0 -1.9,0M361.8,622.8a0.95,0.95 0 1,0 1.9,0a0.95,0.95 0 1,0 -1.9,0M354.9,656.0a0.95,0.95 0 1,0 1.9,0a0.95,0.95 0 1,0 -1.9,0M376.4,623.9a0.95,0.95 0 1,0 1.9,0a0.95,0.95 0 1,0 -1.9,0M360.1,645.7a0.95,0.95 0 1,0 1.9,0a0.95,0.95 0 1,0 -1.9,0M299.6,628.5a0.95,0.95 0 1,0 1.9,0a0.95,0.95 0 1,0 -1.9,0M332.9,640.5a0.95,0.95 0 1,0 1.9,0a0.95,0.95 0 1,0 -1.9,0M313.4,625.6a0.95,0.95 0 1,0 1.9,0a0.95,0.95 0 1,0 -1.9,0M372.6,634.6a0.95,0.95 0 1,0 1.9,0a0.95,0.95 0 1,0 -1.9,0M390.3,637.4a0.95,0.95 0 1,0 1.9,0a0.95,0.95 0 1,0 -1.9,0M362.2,603.8a0.95,0.95 0 1,0 1.9,0a0.95,0.95 0 1,0 -1.9,0M319.8,662.4a0.95,0.95 0 1,0 1.9,0a0.95,0.95 0 1,0 -1.9,0M375.8,647.7a0.95,0.95 0 1,0 1.9,0a0.95,0.95 0 1,0 -1.9,0M321.9,648.1a0.95,0.95 0 1,0 1.9,0a0.95,0.95 0 1,0 -1.9,0M359.1,641.0a0.95,0.95 0 1,0 1.9,0a0.95,0.95 0 1,0 -1.9,0M314.6,639.1a0.95,0.95 0 1,0 1.9,0a0.95,0.95 0 1,0 -1.9,0M308.9,632.5a0.95,0.95 0 1,0 1.9,0a0.95,0.95 0 1,0 -1.9,0M308.4,629.5a0.95,0.95 0 1,0 1.9,0a0.95,0.95 0 1,0 -1.9,0M351.9,644.3a0.95,0.95 0 1,0 1.9,0a0.95,0.95 0 1,0 -1.9,0M331.1,621.5a0.95,0.95 0 1,0 1.9,0a0.95,0.95 0 1,0 -1.9,0M364.7,657.6a0.95,0.95 0 1,0 1.9,0a0.95,0.95 0 1,0 -1.9,0M311.6,636.2a0.95,0.95 0 1,0 1.9,0a0.95,0.95 0 1,0 -1.9,0M366.3,639.1a0.95,0.95 0 1,0 1.9,0a0.95,0.95 0 1,0 -1.9,0M332.4,616.2a0.95,0.95 0 1,0 1.9,0a0.95,0.95 0 1,0 -1.9,0M389.6,660.4a0.95,0.95 0 1,0 1.9,0a0.95,0.95 0 1,0 -1.9,0M382.5,657.7a0.95,0.95 0 1,0 1.9,0a0.95,0.95 0 1,0 -1.9,0M344.7,628.9a0.95,0.95 0 1,0 1.9,0a0.95,0.95 0 1,0 -1.9,0M354.6,636.2a0.95,0.95 0 1,0 1.9,0a0.95,0.95 0 1,0 -1.9,0M358.8,655.8a0.95,0.95 0 1,0 1.9,0a0.95,0.95 0 1,0 -1.9,0M365.5,624.7a0.95,0.95 0 1,0 1.9,0a0.95,0.95 0 1,0 -1.9,0M342.9,631.8a0.95,0.95 0 1,0 1.9,0a0.95,0.95 0 1,0 -1.9,0M384.8,646.7a0.95,0.95 0 1,0 1.9,0a0.95,0.95 0 1,0 -1.9,0M335.8,637.9a0.95,0.95 0 1,0 1.9,0a0.95,0.95 0 1,0 -1.9,0M292.5,624.6a0.95,0.95 0 1,0 1.9,0a0.95,0.95 0 1,0 -1.9,0M358.9,642.4a0.95,0.95 0 1,0 1.9,0a0.95,0.95 0 1,0 -1.9,0M348.0,631.8a0.95,0.95 0 1,0 1.9,0a0.95,0.95 0 1,0 -1.9,0M376.8,636.9a0.95,0.95 0 1,0 1.9,0a0.95,0.95 0 1,0 -1.9,0M369.6,653.3a0.95,0.95 0 1,0 1.9,0a0.95,0.95 0 1,0 -1.9,0M355.3,656.5a0.95,0.95 0 1,0 1.9,0a0.95,0.95 0 1,0 -1.9,0M354.6,617.3a0.95,0.95 0 1,0 1.9,0a0.95,0.95 0 1,0 -1.9,0M355.2,643.7a0.95,0.95 0 1,0 1.9,0a0.95,0.95 0 1,0 -1.9,0M331.2,611.4a0.95,0.95 0 1,0 1.9,0a0.95,0.95 0 1,0 -1.9,0M314.1,627.8a0.95,0.95 0 1,0 1.9,0a0.95,0.95 0 1,0 -1.9,0M326.2,664.9a0.95,0.95 0 1,0 1.9,0a0.95,0.95 0 1,0 -1.9,0M348.5,632.4a0.95,0.95 0 1,0 1.9,0a0.95,0.95 0 1,0 -1.9,0M282.1,634.6a0.95,0.95 0 1,0 1.9,0a0.95,0.95 0 1,0 -1.9,0M338.0,661.7a0.95,0.95 0 1,0 1.9,0a0.95,0.95 0 1,0 -1.9,0M321.3,631.1a0.95,0.95 0 1,0 1.9,0a0.95,0.95 0 1,0 -1.9,0M348.6,649.7a0.95,0.95 0 1,0 1.9,0a0.95,0.95 0 1,0 -1.9,0M326.5,634.6a0.95,0.95 0 1,0 1.9,0a0.95,0.95 0 1,0 -1.9,0M353.2,622.7a0.95,0.95 0 1,0 1.9,0a0.95,0.95 0 1,0 -1.9,0M344.4,625.6a0.95,0.95 0 1,0 1.9,0a0.95,0.95 0 1,0 -1.9,0M391.0,643.0a0.95,0.95 0 1,0 1.9,0a0.95,0.95 0 1,0 -1.9,0M340.8,633.6a0.95,0.95 0 1,0 1.9,0a0.95,0.95 0 1,0 -1.9,0M343.9,634.2a0.95,0.95 0 1,0 1.9,0a0.95,0.95 0 1,0 -1.9,0M352.1,645.0a0.95,0.95 0 1,0 1.9,0a0.95,0.95 0 1,0 -1.9,0M295.7,639.1a0.95,0.95 0 1,0 1.9,0a0.95,0.95 0 1,0 -1.9,0M318.5,636.4a0.95,0.95 0 1,0 1.9,0a0.95,0.95 0 1,0 -1.9,0M395.3,643.0a0.95,0.95 0 1,0 1.9,0a0.95,0.95 0 1,0 -1.9,0M367.1,649.6a0.95,0.95 0 1,0 1.9,0a0.95,0.95 0 1,0 -1.9,0M353.9,640.4a0.95,0.95 0 1,0 1.9,0a0.95,0.95 0 1,0 -1.9,0M384.4,642.8a0.95,0.95 0 1,0 1.9,0a0.95,0.95 0 1,0 -1.9,0M345.8,647.5a0.95,0.95 0 1,0 1.9,0a0.95,0.95 0 1,0 -1.9,0M343.7,622.8a0.95,0.95 0 1,0 1.9,0a0.95,0.95 0 1,0 -1.9,0M342.1,619.7a0.95,0.95 0 1,0 1.9,0a0.95,0.95 0 1,0 -1.9,0M297.0,625.0a0.95,0.95 0 1,0 1.9,0a0.95,0.95 0 1,0 -1.9,0M380.0,653.9a0.95,0.95 0 1,0 1.9,0a0.95,0.95 0 1,0 -1.9,0M345.5,660.0a0.95,0.95 0 1,0 1.9,0a0.95,0.95 0 1,0 -1.9,0M341.1,620.9a0.95,0.95 0 1,0 1.9,0a0.95,0.95 0 1,0 -1.9,0M331.9,631.1a0.95,0.95 0 1,0 1.9,0a0.95,0.95 0 1,0 -1.9,0M282.2,632.0a0.95,0.95 0 1,0 1.9,0a0.95,0.95 0 1,0 -1.9,0M356.0,656.3a0.95,0.95 0 1,0 1.9,0a0.95,0.95 0 1,0 -1.9,0M418.0,651.4a0.95,0.95 0 1,0 1.9,0a0.95,0.95 0 1,0 -1.9,0M381.5,631.2a0.95,0.95 0 1,0 1.9,0a0.95,0.95 0 1,0 -1.9,0M342.5,631.7a0.95,0.95 0 1,0 1.9,0a0.95,0.95 0 1,0 -1.9,0M323.1,644.9a0.95,0.95 0 1,0 1.9,0a0.95,0.95 0 1,0 -1.9,0M352.1,600.2a0.95,0.95 0 1,0 1.9,0a0.95,0.95 0 1,0 -1.9,0M362.7,632.7a0.95,0.95 0 1,0 1.9,0a0.95,0.95 0 1,0 -1.9,0M347.7,652.1a0.95,0.95 0 1,0 1.9,0a0.95,0.95 0 1,0 -1.9,0M376.8,637.0a0.95,0.95 0 1,0 1.9,0a0.95,0.95 0 1,0 -1.9,0M322.2,626.9a0.95,0.95 0 1,0 1.9,0a0.95,0.95 0 1,0 -1.9,0M384.0,634.0a0.95,0.95 0 1,0 1.9,0a0.95,0.95 0 1,0 -1.9,0M356.1,633.4a0.95,0.95 0 1,0 1.9,0a0.95,0.95 0 1,0 -1.9,0M334.5,649.3a0.95,0.95 0 1,0 1.9,0a0.95,0.95 0 1,0 -1.9,0M342.7,630.7a0.95,0.95 0 1,0 1.9,0a0.95,0.95 0 1,0 -1.9,0M362.0,648.9a0.95,0.95 0 1,0 1.9,0a0.95,0.95 0 1,0 -1.9,0M374.6,639.5a0.95,0.95 0 1,0 1.9,0a0.95,0.95 0 1,0 -1.9,0M353.5,637.9a0.95,0.95 0 1,0 1.9,0a0.95,0.95 0 1,0 -1.9,0M369.1,631.9a0.95,0.95 0 1,0 1.9,0a0.95,0.95 0 1,0 -1.9,0M424.8,647.3a0.95,0.95 0 1,0 1.9,0a0.95,0.95 0 1,0 -1.9,0M301.2,631.9a0.95,0.95 0 1,0 1.9,0a0.95,0.95 0 1,0 -1.9,0M354.0,641.4a0.95,0.95 0 1,0 1.9,0a0.95,0.95 0 1,0 -1.9,0M321.7,635.9a0.95,0.95 0 1,0 1.9,0a0.95,0.95 0 1,0 -1.9,0M354.8,631.8a0.95,0.95 0 1,0 1.9,0a0.95,0.95 0 1,0 -1.9,0M302.1,621.9a0.95,0.95 0 1,0 1.9,0a0.95,0.95 0 1,0 -1.9,0M355.4,625.3a0.95,0.95 0 1,0 1.9,0a0.95,0.95 0 1,0 -1.9,0M391.4,661.8a0.95,0.95 0 1,0 1.9,0a0.95,0.95 0 1,0 -1.9,0M385.2,649.7a0.95,0.95 0 1,0 1.9,0a0.95,0.95 0 1,0 -1.9,0M317.8,617.1a0.95,0.95 0 1,0 1.9,0a0.95,0.95 0 1,0 -1.9,0M341.9,631.7a0.95,0.95 0 1,0 1.9,0a0.95,0.95 0 1,0 -1.9,0M378.4,638.1a0.95,0.95 0 1,0 1.9,0a0.95,0.95 0 1,0 -1.9,0M407.1,664.3a0.95,0.95 0 1,0 1.9,0a0.95,0.95 0 1,0 -1.9,0M322.2,649.2a0.95,0.95 0 1,0 1.9,0a0.95,0.95 0 1,0 -1.9,0M325.2,642.3a0.95,0.95 0 1,0 1.9,0a0.95,0.95 0 1,0 -1.9,0M385.5,640.2a0.95,0.95 0 1,0 1.9,0a0.95,0.95 0 1,0 -1.9,0M340.3,625.2a0.95,0.95 0 1,0 1.9,0a0.95,0.95 0 1,0 -1.9,0M319.9,620.2a0.95,0.95 0 1,0 1.9,0a0.95,0.95 0 1,0 -1.9,0M300.0,628.5a0.95,0.95 0 1,0 1.9,0a0.95,0.95 0 1,0 -1.9,0M330.4,632.2a0.95,0.95 0 1,0 1.9,0a0.95,0.95 0 1,0 -1.9,0M380.9,647.3a0.95,0.95 0 1,0 1.9,0a0.95,0.95 0 1,0 -1.9,0M332.1,638.3a0.95,0.95 0 1,0 1.9,0a0.95,0.95 0 1,0 -1.9,0M374.7,654.3a0.95,0.95 0 1,0 1.9,0a0.95,0.95 0 1,0 -1.9,0M313.8,634.6a0.95,0.95 0 1,0 1.9,0a0.95,0.95 0 1,0 -1.9,0M365.8,623.9a0.95,0.95 0 1,0 1.9,0a0.95,0.95 0 1,0 -1.9,0M400.9,643.5a0.95,0.95 0 1,0 1.9,0a0.95,0.95 0 1,0 -1.9,0M343.8,617.6a0.95,0.95 0 1,0 1.9,0a0.95,0.95 0 1,0 -1.9,0M340.5,645.1a0.95,0.95 0 1,0 1.9,0a0.95,0.95 0 1,0 -1.9,0M348.4,657.7a0.95,0.95 0 1,0 1.9,0a0.95,0.95 0 1,0 -1.9,0M383.4,620.7a0.95,0.95 0 1,0 1.9,0a0.95,0.95 0 1,0 -1.9,0M328.6,659.7a0.95,0.95 0 1,0 1.9,0a0.95,0.95 0 1,0 -1.9,0M347.0,651.4a0.95,0.95 0 1,0 1.9,0a0.95,0.95 0 1,0 -1.9,0M411.0,638.5a0.95,0.95 0 1,0 1.9,0a0.95,0.95 0 1,0 -1.9,0M375.2,624.0a0.95,0.95 0 1,0 1.9,0a0.95,0.95 0 1,0 -1.9,0M373.5,649.5a0.95,0.95 0 1,0 1.9,0a0.95,0.95 0 1,0 -1.9,0M335.4,636.8a0.95,0.95 0 1,0 1.9,0a0.95,0.95 0 1,0 -1.9,0M377.7,645.0a0.95,0.95 0 1,0 1.9,0a0.95,0.95 0 1,0 -1.9,0M315.7,624.0a0.95,0.95 0 1,0 1.9,0a0.95,0.95 0 1,0 -1.9,0M305.7,639.7a0.95,0.95 0 1,0 1.9,0a0.95,0.95 0 1,0 -1.9,0M322.5,624.4a0.95,0.95 0 1,0 1.9,0a0.95,0.95 0 1,0 -1.9,0M394.7,633.8a0.95,0.95 0 1,0 1.9,0a0.95,0.95 0 1,0 -1.9,0M356.4,639.1a0.95,0.95 0 1,0 1.9,0a0.95,0.95 0 1,0 -1.9,0M322.8,630.6a0.95,0.95 0 1,0 1.9,0a0.95,0.95 0 1,0 -1.9,0M340.4,606.6a0.95,0.95 0 1,0 1.9,0a0.95,0.95 0 1,0 -1.9,0M365.1,635.5a0.95,0.95 0 1,0 1.9,0a0.95,0.95 0 1,0 -1.9,0M387.5,648.4a0.95,0.95 0 1,0 1.9,0a0.95,0.95 0 1,0 -1.9,0M301.4,614.5a0.95,0.95 0 1,0 1.9,0a0.95,0.95 0 1,0 -1.9,0M392.2,629.3a0.95,0.95 0 1,0 1.9,0a0.95,0.95 0 1,0 -1.9,0M379.8,650.5a0.95,0.95 0 1,0 1.9,0a0.95,0.95 0 1,0 -1.9,0M330.0,644.8a0.95,0.95 0 1,0 1.9,0a0.95,0.95 0 1,0 -1.9,0M339.1,616.7a0.95,0.95 0 1,0 1.9,0a0.95,0.95 0 1,0 -1.9,0M366.3,624.4a0.95,0.95 0 1,0 1.9,0a0.95,0.95 0 1,0 -1.9,0M342.6,618.9a0.95,0.95 0 1,0 1.9,0a0.95,0.95 0 1,0 -1.9,0M355.5,617.1a0.95,0.95 0 1,0 1.9,0a0.95,0.95 0 1,0 -1.9,0M318.9,644.8a0.95,0.95 0 1,0 1.9,0a0.95,0.95 0 1,0 -1.9,0M295.6,646.5a0.95,0.95 0 1,0 1.9,0a0.95,0.95 0 1,0 -1.9,0M425.6,637.6a0.95,0.95 0 1,0 1.9,0a0.95,0.95 0 1,0 -1.9,0M356.5,625.9a0.95,0.95 0 1,0 1.9,0a0.95,0.95 0 1,0 -1.9,0M358.2,635.7a0.95,0.95 0 1,0 1.9,0a0.95,0.95 0 1,0 -1.9,0M366.9,630.3a0.95,0.95 0 1,0 1.9,0a0.95,0.95 0 1,0 -1.9,0M392.2,653.1a0.95,0.95 0 1,0 1.9,0a0.95,0.95 0 1,0 -1.9,0M379.7,654.0a0.95,0.95 0 1,0 1.9,0a0.95,0.95 0 1,0 -1.9,0M319.9,632.1a0.95,0.95 0 1,0 1.9,0a0.95,0.95 0 1,0 -1.9,0M347.9,630.7a0.95,0.95 0 1,0 1.9,0a0.95,0.95 0 1,0 -1.9,0M353.4,629.3a0.95,0.95 0 1,0 1.9,0a0.95,0.95 0 1,0 -1.9,0M374.6,642.0a0.95,0.95 0 1,0 1.9,0a0.95,0.95 0 1,0 -1.9,0M333.0,625.8a0.95,0.95 0 1,0 1.9,0a0.95,0.95 0 1,0 -1.9,0M363.0,623.8a0.95,0.95 0 1,0 1.9,0a0.95,0.95 0 1,0 -1.9,0M358.2,631.8a0.95,0.95 0 1,0 1.9,0a0.95,0.95 0 1,0 -1.9,0M393.5,650.0a0.95,0.95 0 1,0 1.9,0a0.95,0.95 0 1,0 -1.9,0M353.8,616.3a0.95,0.95 0 1,0 1.9,0a0.95,0.95 0 1,0 -1.9,0M361.7,652.5a0.95,0.95 0 1,0 1.9,0a0.95,0.95 0 1,0 -1.9,0M372.0,637.7a0.95,0.95 0 1,0 1.9,0a0.95,0.95 0 1,0 -1.9,0M356.5,614.2a0.95,0.95 0 1,0 1.9,0a0.95,0.95 0 1,0 -1.9,0M308.0,598.7a0.95,0.95 0 1,0 1.9,0a0.95,0.95 0 1,0 -1.9,0M315.4,610.3a0.95,0.95 0 1,0 1.9,0a0.95,0.95 0 1,0 -1.9,0M287.3,630.0a0.95,0.95 0 1,0 1.9,0a0.95,0.95 0 1,0 -1.9,0M371.0,645.7a0.95,0.95 0 1,0 1.9,0a0.95,0.95 0 1,0 -1.9,0M391.9,644.2a0.95,0.95 0 1,0 1.9,0a0.95,0.95 0 1,0 -1.9,0M362.2,636.7a0.95,0.95 0 1,0 1.9,0a0.95,0.95 0 1,0 -1.9,0M289.8,637.4a0.95,0.95 0 1,0 1.9,0a0.95,0.95 0 1,0 -1.9,0M388.2,649.2a0.95,0.95 0 1,0 1.9,0a0.95,0.95 0 1,0 -1.9,0M415.2,645.0a0.95,0.95 0 1,0 1.9,0a0.95,0.95 0 1,0 -1.9,0M320.7,629.8a0.95,0.95 0 1,0 1.9,0a0.95,0.95 0 1,0 -1.9,0M339.7,618.3a0.95,0.95 0 1,0 1.9,0a0.95,0.95 0 1,0 -1.9,0M430.7,643.4a0.95,0.95 0 1,0 1.9,0a0.95,0.95 0 1,0 -1.9,0M374.1,633.0a0.95,0.95 0 1,0 1.9,0a0.95,0.95 0 1,0 -1.9,0M300.4,633.3a0.95,0.95 0 1,0 1.9,0a0.95,0.95 0 1,0 -1.9,0M307.0,627.1a0.95,0.95 0 1,0 1.9,0a0.95,0.95 0 1,0 -1.9,0M319.7,653.8a0.95,0.95 0 1,0 1.9,0a0.95,0.95 0 1,0 -1.9,0M421.0,653.5a0.95,0.95 0 1,0 1.9,0a0.95,0.95 0 1,0 -1.9,0M403.0,664.6a0.95,0.95 0 1,0 1.9,0a0.95,0.95 0 1,0 -1.9,0M283.3,622.0a0.95,0.95 0 1,0 1.9,0a0.95,0.95 0 1,0 -1.9,0M365.7,631.9a0.95,0.95 0 1,0 1.9,0a0.95,0.95 0 1,0 -1.9,0M311.0,627.2a0.95,0.95 0 1,0 1.9,0a0.95,0.95 0 1,0 -1.9,0M318.5,611.7a0.95,0.95 0 1,0 1.9,0a0.95,0.95 0 1,0 -1.9,0M360.4,645.8a0.95,0.95 0 1,0 1.9,0a0.95,0.95 0 1,0 -1.9,0M309.9,629.7a0.95,0.95 0 1,0 1.9,0a0.95,0.95 0 1,0 -1.9,0M384.5,648.7a0.95,0.95 0 1,0 1.9,0a0.95,0.95 0 1,0 -1.9,0M286.5,628.2a0.95,0.95 0 1,0 1.9,0a0.95,0.95 0 1,0 -1.9,0M285.5,608.2a0.95,0.95 0 1,0 1.9,0a0.95,0.95 0 1,0 -1.9,0M324.5,647.8a0.95,0.95 0 1,0 1.9,0a0.95,0.95 0 1,0 -1.9,0M294.7,605.8a0.95,0.95 0 1,0 1.9,0a0.95,0.95 0 1,0 -1.9,0M410.0,630.2a0.95,0.95 0 1,0 1.9,0a0.95,0.95 0 1,0 -1.9,0M397.0,637.1a0.95,0.95 0 1,0 1.9,0a0.95,0.95 0 1,0 -1.9,0M365.4,642.7a0.95,0.95 0 1,0 1.9,0a0.95,0.95 0 1,0 -1.9,0M391.8,640.4a0.95,0.95 0 1,0 1.9,0a0.95,0.95 0 1,0 -1.9,0M282.2,628.3a0.95,0.95 0 1,0 1.9,0a0.95,0.95 0 1,0 -1.9,0M316.9,612.0a0.95,0.95 0 1,0 1.9,0a0.95,0.95 0 1,0 -1.9,0M359.1,651.0a0.95,0.95 0 1,0 1.9,0a0.95,0.95 0 1,0 -1.9,0M402.4,657.0a0.95,0.95 0 1,0 1.9,0a0.95,0.95 0 1,0 -1.9,0M370.1,638.9a0.95,0.95 0 1,0 1.9,0a0.95,0.95 0 1,0 -1.9,0M330.8,662.5a0.95,0.95 0 1,0 1.9,0a0.95,0.95 0 1,0 -1.9,0M318.6,612.3a0.95,0.95 0 1,0 1.9,0a0.95,0.95 0 1,0 -1.9,0M410.7,650.6a0.95,0.95 0 1,0 1.9,0a0.95,0.95 0 1,0 -1.9,0M364.9,629.3a0.95,0.95 0 1,0 1.9,0a0.95,0.95 0 1,0 -1.9,0M409.8,644.4a0.95,0.95 0 1,0 1.9,0a0.95,0.95 0 1,0 -1.9,0M296.3,647.3a0.95,0.95 0 1,0 1.9,0a0.95,0.95 0 1,0 -1.9,0M402.1,644.6a0.95,0.95 0 1,0 1.9,0a0.95,0.95 0 1,0 -1.9,0M291.2,620.0a0.95,0.95 0 1,0 1.9,0a0.95,0.95 0 1,0 -1.9,0M333.8,647.2a0.95,0.95 0 1,0 1.9,0a0.95,0.95 0 1,0 -1.9,0M341.4,646.4a0.95,0.95 0 1,0 1.9,0a0.95,0.95 0 1,0 -1.9,0M290.5,637.7a0.95,0.95 0 1,0 1.9,0a0.95,0.95 0 1,0 -1.9,0M421.3,639.2a0.95,0.95 0 1,0 1.9,0a0.95,0.95 0 1,0 -1.9,0M343.5,649.7a0.95,0.95 0 1,0 1.9,0a0.95,0.95 0 1,0 -1.9,0M290.5,636.0a0.95,0.95 0 1,0 1.9,0a0.95,0.95 0 1,0 -1.9,0M385.2,643.2a0.95,0.95 0 1,0 1.9,0a0.95,0.95 0 1,0 -1.9,0M331.3,631.0a0.95,0.95 0 1,0 1.9,0a0.95,0.95 0 1,0 -1.9,0M371.4,646.9a0.95,0.95 0 1,0 1.9,0a0.95,0.95 0 1,0 -1.9,0M381.5,622.6a0.95,0.95 0 1,0 1.9,0a0.95,0.95 0 1,0 -1.9,0M427.5,630.4a0.95,0.95 0 1,0 1.9,0a0.95,0.95 0 1,0 -1.9,0M367.7,654.3a0.95,0.95 0 1,0 1.9,0a0.95,0.95 0 1,0 -1.9,0M377.9,619.2a0.95,0.95 0 1,0 1.9,0a0.95,0.95 0 1,0 -1.9,0M425.9,643.9a0.95,0.95 0 1,0 1.9,0a0.95,0.95 0 1,0 -1.9,0M329.6,624.1a0.95,0.95 0 1,0 1.9,0a0.95,0.95 0 1,0 -1.9,0M331.0,623.0a0.95,0.95 0 1,0 1.9,0a0.95,0.95 0 1,0 -1.9,0M388.3,659.4a0.95,0.95 0 1,0 1.9,0a0.95,0.95 0 1,0 -1.9,0M378.1,656.2a0.95,0.95 0 1,0 1.9,0a0.95,0.95 0 1,0 -1.9,0M330.5,626.5a0.95,0.95 0 1,0 1.9,0a0.95,0.95 0 1,0 -1.9,0M422.0,657.6a0.95,0.95 0 1,0 1.9,0a0.95,0.95 0 1,0 -1.9,0M428.6,616.6a0.95,0.95 0 1,0 1.9,0a0.95,0.95 0 1,0 -1.9,0M431.1,655.9a0.95,0.95 0 1,0 1.9,0a0.95,0.95 0 1,0 -1.9,0M386.1,631.0a0.95,0.95 0 1,0 1.9,0a0.95,0.95 0 1,0 -1.9,0M406.4,657.8a0.95,0.95 0 1,0 1.9,0a0.95,0.95 0 1,0 -1.9,0M416.9,621.9a0.95,0.95 0 1,0 1.9,0a0.95,0.95 0 1,0 -1.9,0M371.4,617.0a0.95,0.95 0 1,0 1.9,0a0.95,0.95 0 1,0 -1.9,0M364.1,634.0a0.95,0.95 0 1,0 1.9,0a0.95,0.95 0 1,0 -1.9,0M329.8,631.0a0.95,0.95 0 1,0 1.9,0a0.95,0.95 0 1,0 -1.9,0M359.3,618.7a0.95,0.95 0 1,0 1.9,0a0.95,0.95 0 1,0 -1.9,0M305.1,656.8a0.95,0.95 0 1,0 1.9,0a0.95,0.95 0 1,0 -1.9,0M427.7,653.8a0.95,0.95 0 1,0 1.9,0a0.95,0.95 0 1,0 -1.9,0M305.1,617.2a0.95,0.95 0 1,0 1.9,0a0.95,0.95 0 1,0 -1.9,0M331.1,637.0a0.95,0.95 0 1,0 1.9,0a0.95,0.95 0 1,0 -1.9,0M299.6,635.1a0.95,0.95 0 1,0 1.9,0a0.95,0.95 0 1,0 -1.9,0M406.1,664.4a0.95,0.95 0 1,0 1.9,0a0.95,0.95 0 1,0 -1.9,0M393.2,640.0a0.95,0.95 0 1,0 1.9,0a0.95,0.95 0 1,0 -1.9,0M408.6,649.8a0.95,0.95 0 1,0 1.9,0a0.95,0.95 0 1,0 -1.9,0M399.1,644.1a0.95,0.95 0 1,0 1.9,0a0.95,0.95 0 1,0 -1.9,0M371.6,649.5a0.95,0.95 0 1,0 1.9,0a0.95,0.95 0 1,0 -1.9,0M386.1,640.1a0.95,0.95 0 1,0 1.9,0a0.95,0.95 0 1,0 -1.9,0M409.3,638.8a0.95,0.95 0 1,0 1.9,0a0.95,0.95 0 1,0 -1.9,0M304.8,615.4a0.95,0.95 0 1,0 1.9,0a0.95,0.95 0 1,0 -1.9,0M315.5,626.3a0.95,0.95 0 1,0 1.9,0a0.95,0.95 0 1,0 -1.9,0M368.3,652.4a0.95,0.95 0 1,0 1.9,0a0.95,0.95 0 1,0 -1.9,0M352.5,639.9a0.95,0.95 0 1,0 1.9,0a0.95,0.95 0 1,0 -1.9,0M422.0,654.3a0.95,0.95 0 1,0 1.9,0a0.95,0.95 0 1,0 -1.9,0M330.7,620.9a0.95,0.95 0 1,0 1.9,0a0.95,0.95 0 1,0 -1.9,0M291.1,634.8a0.95,0.95 0 1,0 1.9,0a0.95,0.95 0 1,0 -1.9,0M323.8,613.6a0.95,0.95 0 1,0 1.9,0a0.95,0.95 0 1,0 -1.9,0M307.7,629.6a0.95,0.95 0 1,0 1.9,0a0.95,0.95 0 1,0 -1.9,0M345.0,627.8a0.95,0.95 0 1,0 1.9,0a0.95,0.95 0 1,0 -1.9,0M296.7,632.6a0.95,0.95 0 1,0 1.9,0a0.95,0.95 0 1,0 -1.9,0M374.8,626.3a0.95,0.95 0 1,0 1.9,0a0.95,0.95 0 1,0 -1.9,0M339.4,642.0a0.95,0.95 0 1,0 1.9,0a0.95,0.95 0 1,0 -1.9,0M315.3,610.5a0.95,0.95 0 1,0 1.9,0a0.95,0.95 0 1,0 -1.9,0M414.9,643.3a0.95,0.95 0 1,0 1.9,0a0.95,0.95 0 1,0 -1.9,0M430.2,641.6a0.95,0.95 0 1,0 1.9,0a0.95,0.95 0 1,0 -1.9,0M384.4,635.9a0.95,0.95 0 1,0 1.9,0a0.95,0.95 0 1,0 -1.9,0M296.9,636.9a0.95,0.95 0 1,0 1.9,0a0.95,0.95 0 1,0 -1.9,0M360.3,621.5a0.95,0.95 0 1,0 1.9,0a0.95,0.95 0 1,0 -1.9,0M386.6,662.0a0.95,0.95 0 1,0 1.9,0a0.95,0.95 0 1,0 -1.9,0M351.5,635.7a0.95,0.95 0 1,0 1.9,0a0.95,0.95 0 1,0 -1.9,0M306.2,619.2a0.95,0.95 0 1,0 1.9,0a0.95,0.95 0 1,0 -1.9,0M333.2,621.1a0.95,0.95 0 1,0 1.9,0a0.95,0.95 0 1,0 -1.9,0M416.1,656.3a0.95,0.95 0 1,0 1.9,0a0.95,0.95 0 1,0 -1.9,0M286.9,631.2a0.95,0.95 0 1,0 1.9,0a0.95,0.95 0 1,0 -1.9,0M288.5,628.4a0.95,0.95 0 1,0 1.9,0a0.95,0.95 0 1,0 -1.9,0M386.2,655.6a0.95,0.95 0 1,0 1.9,0a0.95,0.95 0 1,0 -1.9,0M406.1,649.9a0.95,0.95 0 1,0 1.9,0a0.95,0.95 0 1,0 -1.9,0M374.0,652.0a0.95,0.95 0 1,0 1.9,0a0.95,0.95 0 1,0 -1.9,0M417.0,643.1a0.95,0.95 0 1,0 1.9,0a0.95,0.95 0 1,0 -1.9,0M358.4,640.8a0.95,0.95 0 1,0 1.9,0a0.95,0.95 0 1,0 -1.9,0M379.1,652.0a0.95,0.95 0 1,0 1.9,0a0.95,0.95 0 1,0 -1.9,0M346.0,645.2a0.95,0.95 0 1,0 1.9,0a0.95,0.95 0 1,0 -1.9,0M400.4,644.3a0.95,0.95 0 1,0 1.9,0a0.95,0.95 0 1,0 -1.9,0M286.0,635.4a0.95,0.95 0 1,0 1.9,0a0.95,0.95 0 1,0 -1.9,0M339.9,652.0a0.95,0.95 0 1,0 1.9,0a0.95,0.95 0 1,0 -1.9,0M335.5,647.7a0.95,0.95 0 1,0 1.9,0a0.95,0.95 0 1,0 -1.9,0M297.2,624.7a0.95,0.95 0 1,0 1.9,0a0.95,0.95 0 1,0 -1.9,0M353.0,659.4a0.95,0.95 0 1,0 1.9,0a0.95,0.95 0 1,0 -1.9,0M393.3,643.8a0.95,0.95 0 1,0 1.9,0a0.95,0.95 0 1,0 -1.9,0M303.2,618.6a0.95,0.95 0 1,0 1.9,0a0.95,0.95 0 1,0 -1.9,0M431.1,659.3a0.95,0.95 0 1,0 1.9,0a0.95,0.95 0 1,0 -1.9,0M311.0,633.8a0.95,0.95 0 1,0 1.9,0a0.95,0.95 0 1,0 -1.9,0M283.6,637.2a0.95,0.95 0 1,0 1.9,0a0.95,0.95 0 1,0 -1.9,0M357.9,645.6a0.95,0.95 0 1,0 1.9,0a0.95,0.95 0 1,0 -1.9,0M290.0,622.4a0.95,0.95 0 1,0 1.9,0a0.95,0.95 0 1,0 -1.9,0M325.2,637.5a0.95,0.95 0 1,0 1.9,0a0.95,0.95 0 1,0 -1.9,0M402.6,660.5a0.95,0.95 0 1,0 1.9,0a0.95,0.95 0 1,0 -1.9,0M372.9,648.0a0.95,0.95 0 1,0 1.9,0a0.95,0.95 0 1,0 -1.9,0M415.4,663.8a0.95,0.95 0 1,0 1.9,0a0.95,0.95 0 1,0 -1.9,0M354.6,617.2a0.95,0.95 0 1,0 1.9,0a0.95,0.95 0 1,0 -1.9,0M297.2,635.4a0.95,0.95 0 1,0 1.9,0a0.95,0.95 0 1,0 -1.9,0M292.3,608.3a0.95,0.95 0 1,0 1.9,0a0.95,0.95 0 1,0 -1.9,0M360.7,658.4a0.95,0.95 0 1,0 1.9,0a0.95,0.95 0 1,0 -1.9,0M419.6,661.6a0.95,0.95 0 1,0 1.9,0a0.95,0.95 0 1,0 -1.9,0M429.8,634.2a0.95,0.95 0 1,0 1.9,0a0.95,0.95 0 1,0 -1.9,0M394.4,648.5a0.95,0.95 0 1,0 1.9,0a0.95,0.95 0 1,0 -1.9,0M291.3,600.6a0.95,0.95 0 1,0 1.9,0a0.95,0.95 0 1,0 -1.9,0M307.1,619.4a0.95,0.95 0 1,0 1.9,0a0.95,0.95 0 1,0 -1.9,0M376.4,624.9a0.95,0.95 0 1,0 1.9,0a0.95,0.95 0 1,0 -1.9,0M369.7,659.4a0.95,0.95 0 1,0 1.9,0a0.95,0.95 0 1,0 -1.9,0M418.4,647.0a0.95,0.95 0 1,0 1.9,0a0.95,0.95 0 1,0 -1.9,0M353.7,641.8a0.95,0.95 0 1,0 1.9,0a0.95,0.95 0 1,0 -1.9,0M322.5,612.5a0.95,0.95 0 1,0 1.9,0a0.95,0.95 0 1,0 -1.9,0M298.9,633.1a0.95,0.95 0 1,0 1.9,0a0.95,0.95 0 1,0 -1.9,0M394.4,644.8a0.95,0.95 0 1,0 1.9,0a0.95,0.95 0 1,0 -1.9,0M417.8,659.0a0.95,0.95 0 1,0 1.9,0a0.95,0.95 0 1,0 -1.9,0M390.9,664.5a0.95,0.95 0 1,0 1.9,0a0.95,0.95 0 1,0 -1.9,0M305.1,621.7a0.95,0.95 0 1,0 1.9,0a0.95,0.95 0 1,0 -1.9,0M374.1,645.9a0.95,0.95 0 1,0 1.9,0a0.95,0.95 0 1,0 -1.9,0M310.7,574.0a0.95,0.95 0 1,0 1.9,0a0.95,0.95 0 1,0 -1.9,0M293.5,581.8a0.95,0.95 0 1,0 1.9,0a0.95,0.95 0 1,0 -1.9,0M286.3,595.3a0.95,0.95 0 1,0 1.9,0a0.95,0.95 0 1,0 -1.9,0M361.9,594.7a0.95,0.95 0 1,0 1.9,0a0.95,0.95 0 1,0 -1.9,0M394.1,683.2a0.95,0.95 0 1,0 1.9,0a0.95,0.95 0 1,0 -1.9,0M306.3,666.1a0.95,0.95 0 1,0 1.9,0a0.95,0.95 0 1,0 -1.9,0M338.5,670.6a0.95,0.95 0 1,0 1.9,0a0.95,0.95 0 1,0 -1.9,0M340.8,670.6a0.95,0.95 0 1,0 1.9,0a0.95,0.95 0 1,0 -1.9,0M364.1,672.4a0.95,0.95 0 1,0 1.9,0a0.95,0.95 0 1,0 -1.9,0M401.9,669.7a0.95,0.95 0 1,0 1.9,0a0.95,0.95 0 1,0 -1.9,0M408.6,669.7a0.95,0.95 0 1,0 1.9,0a0.95,0.95 0 1,0 -1.9,0M422.5,613.0a0.95,0.95 0 1,0 1.9,0a0.95,0.95 0 1,0 -1.9,0M448.1,644.8a0.95,0.95 0 1,0 1.9,0a0.95,0.95 0 1,0 -1.9,0M428.6,658.0a0.95,0.95 0 1,0 1.9,0a0.95,0.95 0 1,0 -1.9,0M280.2,614.5a0.95,0.95 0 1,0 1.9,0a0.95,0.95 0 1,0 -1.9,0M279.1,631.0a0.95,0.95 0 1,0 1.9,0a0.95,0.95 0 1,0 -1.9,0" fill="#13508d"/>
<line x1="280.00" y1="622.90" x2="449.58" y2="653.51" stroke="#111" stroke-width="1.3" />
<line x1="280.00" y1="535.40" x2="280.00" y2="691.60" stroke="#111" stroke-width="1.3" />
<line x1="279.40" y1="691.00" x2="507.50" y2="691.00" stroke="#111" stroke-width="1.3" />
<line x1="275.70" y1="691.00" x2="280.00" y2="691.00" stroke="#111" stroke-width="1.2" />
<text x="271" y="694.6" font-size="10.5" text-anchor="end" font-weight="normal" fill="#111" >5</text>
<line x1="275.70" y1="661.00" x2="280.00" y2="661.00" stroke="#111" stroke-width="1.2" />
<text x="271" y="664.6" font-size="10.5" text-anchor="end" font-weight="normal" fill="#111" >6</text>
<line x1="275.70" y1="631.00" x2="280.00" y2="631.00" stroke="#111" stroke-width="1.2" />
<text x="271" y="634.6" font-size="10.5" text-anchor="end" font-weight="normal" fill="#111" >7</text>
<line x1="275.70" y1="601.00" x2="280.00" y2="601.00" stroke="#111" stroke-width="1.2" />
<text x="271" y="604.6" font-size="10.5" text-anchor="end" font-weight="normal" fill="#111" >8</text>
<line x1="275.70" y1="571.00" x2="280.00" y2="571.00" stroke="#111" stroke-width="1.2" />
<text x="271" y="574.6" font-size="10.5" text-anchor="end" font-weight="normal" fill="#111" >9</text>
<line x1="275.70" y1="541.00" x2="280.00" y2="541.00" stroke="#111" stroke-width="1.2" />
<text x="271" y="544.6" font-size="10.5" text-anchor="end" font-weight="normal" fill="#111" >10</text>
<line x1="280.00" y1="691.00" x2="280.00" y2="695.50" stroke="#111" stroke-width="1.2" />
<text x="280.0" y="706.4" font-size="10.5" text-anchor="middle" font-weight="normal" fill="#111" >0</text>
<line x1="335.60" y1="691.00" x2="335.60" y2="695.50" stroke="#111" stroke-width="1.2" />
<text x="335.6" y="706.4" font-size="10.5" text-anchor="middle" font-weight="normal" fill="#111" >1</text>
<line x1="391.20" y1="691.00" x2="391.20" y2="695.50" stroke="#111" stroke-width="1.2" />
<text x="391.2" y="706.4" font-size="10.5" text-anchor="middle" font-weight="normal" fill="#111" >2</text>
<line x1="446.80" y1="691.00" x2="446.80" y2="695.50" stroke="#111" stroke-width="1.2" />
<text x="446.8" y="706.4" font-size="10.5" text-anchor="middle" font-weight="normal" fill="#111" >3</text>
<line x1="502.40" y1="691.00" x2="502.40" y2="695.50" stroke="#111" stroke-width="1.2" />
<text x="502.4" y="706.4" font-size="10.5" text-anchor="middle" font-weight="normal" fill="#111" >4</text>
<text transform="translate(254.4,612.5) rotate(-90)" x="0" y="0" font-size="12.2" font-weight="bold" text-anchor="middle" fill="#111" textLength="63" lengthAdjust="spacingAndGlyphs">TET2 log2_CPM</text>
<text x="394.5" y="723.4" font-size="11.5" text-anchor="middle" font-weight="bold" fill="#111" textLength="77" lengthAdjust="spacingAndGlyphs" >L2HGDH log2_CPM</text>
<text x="435" y="544.8" font-size="10" fill="#111" textLength="47.5" lengthAdjust="spacingAndGlyphs">R<tspan font-size="7" dy="-4">2</tspan><tspan dy="4">=0.2077</tspan></text>
<text x="435" y="556" font-size="10" text-anchor="start" font-weight="normal" fill="#111" textLength="68" lengthAdjust="spacingAndGlyphs" >Slope=&#8722;0.3345</text>
<text x="436.3" y="567.5" font-size="10" fill="#111" textLength="41" lengthAdjust="spacingAndGlyphs"><tspan font-style="italic">P</tspan>&lt;0.0001</text>
<path d="M140.5,793.0a0.95,0.95 0 1,0 1.9,0a0.95,0.95 0 1,0 -1.9,0M79.6,855.9a0.95,0.95 0 1,0 1.9,0a0.95,0.95 0 1,0 -1.9,0M71.1,807.4a0.95,0.95 0 1,0 1.9,0a0.95,0.95 0 1,0 -1.9,0M87.4,858.6a0.95,0.95 0 1,0 1.9,0a0.95,0.95 0 1,0 -1.9,0M69.5,807.3a0.95,0.95 0 1,0 1.9,0a0.95,0.95 0 1,0 -1.9,0M133.2,805.4a0.95,0.95 0 1,0 1.9,0a0.95,0.95 0 1,0 -1.9,0M118.1,822.7a0.95,0.95 0 1,0 1.9,0a0.95,0.95 0 1,0 -1.9,0M112.3,831.7a0.95,0.95 0 1,0 1.9,0a0.95,0.95 0 1,0 -1.9,0M130.8,827.4a0.95,0.95 0 1,0 1.9,0a0.95,0.95 0 1,0 -1.9,0M82.7,813.3a0.95,0.95 0 1,0 1.9,0a0.95,0.95 0 1,0 -1.9,0M65.6,817.4a0.95,0.95 0 1,0 1.9,0a0.95,0.95 0 1,0 -1.9,0M105.4,828.7a0.95,0.95 0 1,0 1.9,0a0.95,0.95 0 1,0 -1.9,0M104.5,815.8a0.95,0.95 0 1,0 1.9,0a0.95,0.95 0 1,0 -1.9,0M76.6,816.5a0.95,0.95 0 1,0 1.9,0a0.95,0.95 0 1,0 -1.9,0M109.9,793.9a0.95,0.95 0 1,0 1.9,0a0.95,0.95 0 1,0 -1.9,0M132.3,831.2a0.95,0.95 0 1,0 1.9,0a0.95,0.95 0 1,0 -1.9,0M84.3,818.3a0.95,0.95 0 1,0 1.9,0a0.95,0.95 0 1,0 -1.9,0M101.7,848.3a0.95,0.95 0 1,0 1.9,0a0.95,0.95 0 1,0 -1.9,0M105.3,803.9a0.95,0.95 0 1,0 1.9,0a0.95,0.95 0 1,0 -1.9,0M108.7,843.0a0.95,0.95 0 1,0 1.9,0a0.95,0.95 0 1,0 -1.9,0M121.6,822.1a0.95,0.95 0 1,0 1.9,0a0.95,0.95 0 1,0 -1.9,0M111.2,809.3a0.95,0.95 0 1,0 1.9,0a0.95,0.95 0 1,0 -1.9,0M130.6,818.9a0.95,0.95 0 1,0 1.9,0a0.95,0.95 0 1,0 -1.9,0M77.7,838.6a0.95,0.95 0 1,0 1.9,0a0.95,0.95 0 1,0 -1.9,0M85.8,839.0a0.95,0.95 0 1,0 1.9,0a0.95,0.95 0 1,0 -1.9,0M116.7,803.3a0.95,0.95 0 1,0 1.9,0a0.95,0.95 0 1,0 -1.9,0M86.5,805.4a0.95,0.95 0 1,0 1.9,0a0.95,0.95 0 1,0 -1.9,0M83.7,837.5a0.95,0.95 0 1,0 1.9,0a0.95,0.95 0 1,0 -1.9,0M96.0,783.3a0.95,0.95 0 1,0 1.9,0a0.95,0.95 0 1,0 -1.9,0M105.5,831.5a0.95,0.95 0 1,0 1.9,0a0.95,0.95 0 1,0 -1.9,0M85.1,823.5a0.95,0.95 0 1,0 1.9,0a0.95,0.95 0 1,0 -1.9,0M111.3,810.1a0.95,0.95 0 1,0 1.9,0a0.95,0.95 0 1,0 -1.9,0M130.3,810.7a0.95,0.95 0 1,0 1.9,0a0.95,0.95 0 1,0 -1.9,0M54.3,820.2a0.95,0.95 0 1,0 1.9,0a0.95,0.95 0 1,0 -1.9,0M42.3,842.4a0.95,0.95 0 1,0 1.9,0a0.95,0.95 0 1,0 -1.9,0M115.1,809.1a0.95,0.95 0 1,0 1.9,0a0.95,0.95 0 1,0 -1.9,0M78.0,841.3a0.95,0.95 0 1,0 1.9,0a0.95,0.95 0 1,0 -1.9,0M131.9,833.6a0.95,0.95 0 1,0 1.9,0a0.95,0.95 0 1,0 -1.9,0M93.7,844.9a0.95,0.95 0 1,0 1.9,0a0.95,0.95 0 1,0 -1.9,0M87.9,832.7a0.95,0.95 0 1,0 1.9,0a0.95,0.95 0 1,0 -1.9,0M96.9,822.8a0.95,0.95 0 1,0 1.9,0a0.95,0.95 0 1,0 -1.9,0M103.8,820.1a0.95,0.95 0 1,0 1.9,0a0.95,0.95 0 1,0 -1.9,0M96.0,830.2a0.95,0.95 0 1,0 1.9,0a0.95,0.95 0 1,0 -1.9,0M75.4,810.3a0.95,0.95 0 1,0 1.9,0a0.95,0.95 0 1,0 -1.9,0M107.0,810.7a0.95,0.95 0 1,0 1.9,0a0.95,0.95 0 1,0 -1.9,0M48.7,819.4a0.95,0.95 0 1,0 1.9,0a0.95,0.95 0 1,0 -1.9,0M106.5,821.6a0.95,0.95 0 1,0 1.9,0a0.95,0.95 0 1,0 -1.9,0M99.5,864.5a0.95,0.95 0 1,0 1.9,0a0.95,0.95 0 1,0 -1.9,0M128.4,804.8a0.95,0.95 0 1,0 1.9,0a0.95,0.95 0 1,0 -1.9,0M101.0,837.5a0.95,0.95 0 1,0 1.9,0a0.95,0.95 0 1,0 -1.9,0M108.7,827.9a0.95,0.95 0 1,0 1.9,0a0.95,0.95 0 1,0 -1.9,0M74.4,822.4a0.95,0.95 0 1,0 1.9,0a0.95,0.95 0 1,0 -1.9,0M101.2,815.3a0.95,0.95 0 1,0 1.9,0a0.95,0.95 0 1,0 -1.9,0M115.7,824.3a0.95,0.95 0 1,0 1.9,0a0.95,0.95 0 1,0 -1.9,0M121.5,814.0a0.95,0.95 0 1,0 1.9,0a0.95,0.95 0 1,0 -1.9,0M99.9,826.1a0.95,0.95 0 1,0 1.9,0a0.95,0.95 0 1,0 -1.9,0M135.0,843.0a0.95,0.95 0 1,0 1.9,0a0.95,0.95 0 1,0 -1.9,0M127.6,830.9a0.95,0.95 0 1,0 1.9,0a0.95,0.95 0 1,0 -1.9,0M81.4,842.3a0.95,0.95 0 1,0 1.9,0a0.95,0.95 0 1,0 -1.9,0M70.8,857.2a0.95,0.95 0 1,0 1.9,0a0.95,0.95 0 1,0 -1.9,0M98.7,822.7a0.95,0.95 0 1,0 1.9,0a0.95,0.95 0 1,0 -1.9,0M100.9,811.7a0.95,0.95 0 1,0 1.9,0a0.95,0.95 0 1,0 -1.9,0M90.0,824.0a0.95,0.95 0 1,0 1.9,0a0.95,0.95 0 1,0 -1.9,0M87.0,845.1a0.95,0.95 0 1,0 1.9,0a0.95,0.95 0 1,0 -1.9,0M112.6,828.6a0.95,0.95 0 1,0 1.9,0a0.95,0.95 0 1,0 -1.9,0M83.0,814.3a0.95,0.95 0 1,0 1.9,0a0.95,0.95 0 1,0 -1.9,0M46.1,854.1a0.95,0.95 0 1,0 1.9,0a0.95,0.95 0 1,0 -1.9,0M89.6,839.2a0.95,0.95 0 1,0 1.9,0a0.95,0.95 0 1,0 -1.9,0M121.4,828.2a0.95,0.95 0 1,0 1.9,0a0.95,0.95 0 1,0 -1.9,0M76.7,849.5a0.95,0.95 0 1,0 1.9,0a0.95,0.95 0 1,0 -1.9,0M112.4,829.7a0.95,0.95 0 1,0 1.9,0a0.95,0.95 0 1,0 -1.9,0M110.8,855.4a0.95,0.95 0 1,0 1.9,0a0.95,0.95 0 1,0 -1.9,0M96.7,841.2a0.95,0.95 0 1,0 1.9,0a0.95,0.95 0 1,0 -1.9,0M106.9,806.4a0.95,0.95 0 1,0 1.9,0a0.95,0.95 0 1,0 -1.9,0M98.5,828.1a0.95,0.95 0 1,0 1.9,0a0.95,0.95 0 1,0 -1.9,0M133.0,800.8a0.95,0.95 0 1,0 1.9,0a0.95,0.95 0 1,0 -1.9,0M95.2,841.8a0.95,0.95 0 1,0 1.9,0a0.95,0.95 0 1,0 -1.9,0M70.7,827.9a0.95,0.95 0 1,0 1.9,0a0.95,0.95 0 1,0 -1.9,0M132.1,819.6a0.95,0.95 0 1,0 1.9,0a0.95,0.95 0 1,0 -1.9,0M64.5,831.9a0.95,0.95 0 1,0 1.9,0a0.95,0.95 0 1,0 -1.9,0M136.6,806.6a0.95,0.95 0 1,0 1.9,0a0.95,0.95 0 1,0 -1.9,0M99.3,807.7a0.95,0.95 0 1,0 1.9,0a0.95,0.95 0 1,0 -1.9,0M111.9,820.3a0.95,0.95 0 1,0 1.9,0a0.95,0.95 0 1,0 -1.9,0M105.5,837.1a0.95,0.95 0 1,0 1.9,0a0.95,0.95 0 1,0 -1.9,0M97.6,829.4a0.95,0.95 0 1,0 1.9,0a0.95,0.95 0 1,0 -1.9,0M122.9,821.0a0.95,0.95 0 1,0 1.9,0a0.95,0.95 0 1,0 -1.9,0M95.2,832.0a0.95,0.95 0 1,0 1.9,0a0.95,0.95 0 1,0 -1.9,0M77.5,821.1a0.95,0.95 0 1,0 1.9,0a0.95,0.95 0 1,0 -1.9,0M98.1,821.3a0.95,0.95 0 1,0 1.9,0a0.95,0.95 0 1,0 -1.9,0M55.3,819.9a0.95,0.95 0 1,0 1.9,0a0.95,0.95 0 1,0 -1.9,0M93.6,826.5a0.95,0.95 0 1,0 1.9,0a0.95,0.95 0 1,0 -1.9,0M54.6,813.6a0.95,0.95 0 1,0 1.9,0a0.95,0.95 0 1,0 -1.9,0M97.6,792.4a0.95,0.95 0 1,0 1.9,0a0.95,0.95 0 1,0 -1.9,0M114.5,831.1a0.95,0.95 0 1,0 1.9,0a0.95,0.95 0 1,0 -1.9,0M112.5,804.8a0.95,0.95 0 1,0 1.9,0a0.95,0.95 0 1,0 -1.9,0M93.8,835.5a0.95,0.95 0 1,0 1.9,0a0.95,0.95 0 1,0 -1.9,0M85.8,821.9a0.95,0.95 0 1,0 1.9,0a0.95,0.95 0 1,0 -1.9,0M127.8,853.8a0.95,0.95 0 1,0 1.9,0a0.95,0.95 0 1,0 -1.9,0M82.4,819.6a0.95,0.95 0 1,0 1.9,0a0.95,0.95 0 1,0 -1.9,0M110.3,845.4a0.95,0.95 0 1,0 1.9,0a0.95,0.95 0 1,0 -1.9,0M81.5,852.5a0.95,0.95 0 1,0 1.9,0a0.95,0.95 0 1,0 -1.9,0M135.3,821.9a0.95,0.95 0 1,0 1.9,0a0.95,0.95 0 1,0 -1.9,0M47.1,789.3a0.95,0.95 0 1,0 1.9,0a0.95,0.95 0 1,0 -1.9,0M85.1,835.1a0.95,0.95 0 1,0 1.9,0a0.95,0.95 0 1,0 -1.9,0M88.4,840.3a0.95,0.95 0 1,0 1.9,0a0.95,0.95 0 1,0 -1.9,0M109.7,810.5a0.95,0.95 0 1,0 1.9,0a0.95,0.95 0 1,0 -1.9,0M98.2,808.1a0.95,0.95 0 1,0 1.9,0a0.95,0.95 0 1,0 -1.9,0M101.2,856.1a0.95,0.95 0 1,0 1.9,0a0.95,0.95 0 1,0 -1.9,0M42.6,802.1a0.95,0.95 0 1,0 1.9,0a0.95,0.95 0 1,0 -1.9,0M144.9,834.6a0.95,0.95 0 1,0 1.9,0a0.95,0.95 0 1,0 -1.9,0M102.0,859.9a0.95,0.95 0 1,0 1.9,0a0.95,0.95 0 1,0 -1.9,0M82.1,822.6a0.95,0.95 0 1,0 1.9,0a0.95,0.95 0 1,0 -1.9,0M130.4,810.4a0.95,0.95 0 1,0 1.9,0a0.95,0.95 0 1,0 -1.9,0M70.5,831.2a0.95,0.95 0 1,0 1.9,0a0.95,0.95 0 1,0 -1.9,0M105.6,821.1a0.95,0.95 0 1,0 1.9,0a0.95,0.95 0 1,0 -1.9,0M121.3,786.7a0.95,0.95 0 1,0 1.9,0a0.95,0.95 0 1,0 -1.9,0M115.9,829.7a0.95,0.95 0 1,0 1.9,0a0.95,0.95 0 1,0 -1.9,0M103.3,815.4a0.95,0.95 0 1,0 1.9,0a0.95,0.95 0 1,0 -1.9,0M95.3,804.8a0.95,0.95 0 1,0 1.9,0a0.95,0.95 0 1,0 -1.9,0M73.3,831.7a0.95,0.95 0 1,0 1.9,0a0.95,0.95 0 1,0 -1.9,0M105.5,832.5a0.95,0.95 0 1,0 1.9,0a0.95,0.95 0 1,0 -1.9,0M66.7,836.5a0.95,0.95 0 1,0 1.9,0a0.95,0.95 0 1,0 -1.9,0M122.9,830.2a0.95,0.95 0 1,0 1.9,0a0.95,0.95 0 1,0 -1.9,0M118.2,833.9a0.95,0.95 0 1,0 1.9,0a0.95,0.95 0 1,0 -1.9,0M98.0,821.6a0.95,0.95 0 1,0 1.9,0a0.95,0.95 0 1,0 -1.9,0M51.7,853.5a0.95,0.95 0 1,0 1.9,0a0.95,0.95 0 1,0 -1.9,0M113.2,800.2a0.95,0.95 0 1,0 1.9,0a0.95,0.95 0 1,0 -1.9,0M113.0,807.9a0.95,0.95 0 1,0 1.9,0a0.95,0.95 0 1,0 -1.9,0M71.8,843.5a0.95,0.95 0 1,0 1.9,0a0.95,0.95 0 1,0 -1.9,0M87.8,820.8a0.95,0.95 0 1,0 1.9,0a0.95,0.95 0 1,0 -1.9,0M101.3,827.0a0.95,0.95 0 1,0 1.9,0a0.95,0.95 0 1,0 -1.9,0M114.6,804.8a0.95,0.95 0 1,0 1.9,0a0.95,0.95 0 1,0 -1.9,0M88.9,823.0a0.95,0.95 0 1,0 1.9,0a0.95,0.95 0 1,0 -1.9,0M77.9,828.6a0.95,0.95 0 1,0 1.9,0a0.95,0.95 0 1,0 -1.9,0M85.4,804.0a0.95,0.95 0 1,0 1.9,0a0.95,0.95 0 1,0 -1.9,0M74.4,835.4a0.95,0.95 0 1,0 1.9,0a0.95,0.95 0 1,0 -1.9,0M140.0,819.0a0.95,0.95 0 1,0 1.9,0a0.95,0.95 0 1,0 -1.9,0M141.5,794.7a0.95,0.95 0 1,0 1.9,0a0.95,0.95 0 1,0 -1.9,0M48.7,847.8a0.95,0.95 0 1,0 1.9,0a0.95,0.95 0 1,0 -1.9,0M88.1,833.9a0.95,0.95 0 1,0 1.9,0a0.95,0.95 0 1,0 -1.9,0M134.8,823.7a0.95,0.95 0 1,0 1.9,0a0.95,0.95 0 1,0 -1.9,0M144.4,803.6a0.95,0.95 0 1,0 1.9,0a0.95,0.95 0 1,0 -1.9,0M127.5,793.2a0.95,0.95 0 1,0 1.9,0a0.95,0.95 0 1,0 -1.9,0M108.5,817.3a0.95,0.95 0 1,0 1.9,0a0.95,0.95 0 1,0 -1.9,0M104.8,829.3a0.95,0.95 0 1,0 1.9,0a0.95,0.95 0 1,0 -1.9,0M130.8,803.7a0.95,0.95 0 1,0 1.9,0a0.95,0.95 0 1,0 -1.9,0M108.2,797.9a0.95,0.95 0 1,0 1.9,0a0.95,0.95 0 1,0 -1.9,0M58.1,831.6a0.95,0.95 0 1,0 1.9,0a0.95,0.95 0 1,0 -1.9,0M101.1,811.7a0.95,0.95 0 1,0 1.9,0a0.95,0.95 0 1,0 -1.9,0M54.9,800.2a0.95,0.95 0 1,0 1.9,0a0.95,0.95 0 1,0 -1.9,0M117.1,813.0a0.95,0.95 0 1,0 1.9,0a0.95,0.95 0 1,0 -1.9,0M105.5,823.2a0.95,0.95 0 1,0 1.9,0a0.95,0.95 0 1,0 -1.9,0M94.2,851.4a0.95,0.95 0 1,0 1.9,0a0.95,0.95 0 1,0 -1.9,0M104.0,807.9a0.95,0.95 0 1,0 1.9,0a0.95,0.95 0 1,0 -1.9,0M56.2,814.3a0.95,0.95 0 1,0 1.9,0a0.95,0.95 0 1,0 -1.9,0M85.2,829.4a0.95,0.95 0 1,0 1.9,0a0.95,0.95 0 1,0 -1.9,0M83.1,825.1a0.95,0.95 0 1,0 1.9,0a0.95,0.95 0 1,0 -1.9,0M99.7,849.0a0.95,0.95 0 1,0 1.9,0a0.95,0.95 0 1,0 -1.9,0M92.3,807.4a0.95,0.95 0 1,0 1.9,0a0.95,0.95 0 1,0 -1.9,0M101.6,815.3a0.95,0.95 0 1,0 1.9,0a0.95,0.95 0 1,0 -1.9,0M102.7,836.2a0.95,0.95 0 1,0 1.9,0a0.95,0.95 0 1,0 -1.9,0M64.1,799.1a0.95,0.95 0 1,0 1.9,0a0.95,0.95 0 1,0 -1.9,0M67.8,814.8a0.95,0.95 0 1,0 1.9,0a0.95,0.95 0 1,0 -1.9,0M124.2,822.0a0.95,0.95 0 1,0 1.9,0a0.95,0.95 0 1,0 -1.9,0M77.0,779.6a0.95,0.95 0 1,0 1.9,0a0.95,0.95 0 1,0 -1.9,0M93.2,791.1a0.95,0.95 0 1,0 1.9,0a0.95,0.95 0 1,0 -1.9,0M116.3,801.9a0.95,0.95 0 1,0 1.9,0a0.95,0.95 0 1,0 -1.9,0M89.2,847.8a0.95,0.95 0 1,0 1.9,0a0.95,0.95 0 1,0 -1.9,0M149.1,826.1a0.95,0.95 0 1,0 1.9,0a0.95,0.95 0 1,0 -1.9,0M75.2,828.6a0.95,0.95 0 1,0 1.9,0a0.95,0.95 0 1,0 -1.9,0M82.5,837.1a0.95,0.95 0 1,0 1.9,0a0.95,0.95 0 1,0 -1.9,0M48.8,823.2a0.95,0.95 0 1,0 1.9,0a0.95,0.95 0 1,0 -1.9,0M117.3,813.2a0.95,0.95 0 1,0 1.9,0a0.95,0.95 0 1,0 -1.9,0M87.8,812.9a0.95,0.95 0 1,0 1.9,0a0.95,0.95 0 1,0 -1.9,0M111.8,808.4a0.95,0.95 0 1,0 1.9,0a0.95,0.95 0 1,0 -1.9,0M109.4,844.3a0.95,0.95 0 1,0 1.9,0a0.95,0.95 0 1,0 -1.9,0M155.5,810.5a0.95,0.95 0 1,0 1.9,0a0.95,0.95 0 1,0 -1.9,0M110.4,833.9a0.95,0.95 0 1,0 1.9,0a0.95,0.95 0 1,0 -1.9,0M87.3,817.7a0.95,0.95 0 1,0 1.9,0a0.95,0.95 0 1,0 -1.9,0M86.2,789.9a0.95,0.95 0 1,0 1.9,0a0.95,0.95 0 1,0 -1.9,0M116.2,795.7a0.95,0.95 0 1,0 1.9,0a0.95,0.95 0 1,0 -1.9,0M51.6,829.6a0.95,0.95 0 1,0 1.9,0a0.95,0.95 0 1,0 -1.9,0M85.1,820.9a0.95,0.95 0 1,0 1.9,0a0.95,0.95 0 1,0 -1.9,0M60.3,797.9a0.95,0.95 0 1,0 1.9,0a0.95,0.95 0 1,0 -1.9,0M74.0,788.5a0.95,0.95 0 1,0 1.9,0a0.95,0.95 0 1,0 -1.9,0M125.8,808.3a0.95,0.95 0 1,0 1.9,0a0.95,0.95 0 1,0 -1.9,0M75.3,802.5a0.95,0.95 0 1,0 1.9,0a0.95,0.95 0 1,0 -1.9,0M86.3,815.2a0.95,0.95 0 1,0 1.9,0a0.95,0.95 0 1,0 -1.9,0M117.2,806.2a0.95,0.95 0 1,0 1.9,0a0.95,0.95 0 1,0 -1.9,0M60.2,828.7a0.95,0.95 0 1,0 1.9,0a0.95,0.95 0 1,0 -1.9,0M99.9,807.7a0.95,0.95 0 1,0 1.9,0a0.95,0.95 0 1,0 -1.9,0M68.4,823.0a0.95,0.95 0 1,0 1.9,0a0.95,0.95 0 1,0 -1.9,0M101.8,828.6a0.95,0.95 0 1,0 1.9,0a0.95,0.95 0 1,0 -1.9,0M86.3,845.7a0.95,0.95 0 1,0 1.9,0a0.95,0.95 0 1,0 -1.9,0M121.3,826.4a0.95,0.95 0 1,0 1.9,0a0.95,0.95 0 1,0 -1.9,0M95.1,820.2a0.95,0.95 0 1,0 1.9,0a0.95,0.95 0 1,0 -1.9,0M108.3,817.2a0.95,0.95 0 1,0 1.9,0a0.95,0.95 0 1,0 -1.9,0M131.6,792.3a0.95,0.95 0 1,0 1.9,0a0.95,0.95 0 1,0 -1.9,0M95.3,826.9a0.95,0.95 0 1,0 1.9,0a0.95,0.95 0 1,0 -1.9,0M129.2,816.1a0.95,0.95 0 1,0 1.9,0a0.95,0.95 0 1,0 -1.9,0M114.3,832.4a0.95,0.95 0 1,0 1.9,0a0.95,0.95 0 1,0 -1.9,0M119.4,795.4a0.95,0.95 0 1,0 1.9,0a0.95,0.95 0 1,0 -1.9,0M80.0,782.9a0.95,0.95 0 1,0 1.9,0a0.95,0.95 0 1,0 -1.9,0M102.4,799.0a0.95,0.95 0 1,0 1.9,0a0.95,0.95 0 1,0 -1.9,0M100.9,821.4a0.95,0.95 0 1,0 1.9,0a0.95,0.95 0 1,0 -1.9,0M115.2,825.2a0.95,0.95 0 1,0 1.9,0a0.95,0.95 0 1,0 -1.9,0M124.4,828.0a0.95,0.95 0 1,0 1.9,0a0.95,0.95 0 1,0 -1.9,0M121.6,830.9a0.95,0.95 0 1,0 1.9,0a0.95,0.95 0 1,0 -1.9,0M112.5,810.7a0.95,0.95 0 1,0 1.9,0a0.95,0.95 0 1,0 -1.9,0M84.8,840.3a0.95,0.95 0 1,0 1.9,0a0.95,0.95 0 1,0 -1.9,0M86.3,819.5a0.95,0.95 0 1,0 1.9,0a0.95,0.95 0 1,0 -1.9,0M109.5,825.5a0.95,0.95 0 1,0 1.9,0a0.95,0.95 0 1,0 -1.9,0M70.1,800.3a0.95,0.95 0 1,0 1.9,0a0.95,0.95 0 1,0 -1.9,0M89.5,825.7a0.95,0.95 0 1,0 1.9,0a0.95,0.95 0 1,0 -1.9,0M95.1,813.1a0.95,0.95 0 1,0 1.9,0a0.95,0.95 0 1,0 -1.9,0M108.6,806.6a0.95,0.95 0 1,0 1.9,0a0.95,0.95 0 1,0 -1.9,0M111.3,845.3a0.95,0.95 0 1,0 1.9,0a0.95,0.95 0 1,0 -1.9,0M69.8,855.8a0.95,0.95 0 1,0 1.9,0a0.95,0.95 0 1,0 -1.9,0M113.3,832.7a0.95,0.95 0 1,0 1.9,0a0.95,0.95 0 1,0 -1.9,0M52.0,821.2a0.95,0.95 0 1,0 1.9,0a0.95,0.95 0 1,0 -1.9,0M82.1,836.4a0.95,0.95 0 1,0 1.9,0a0.95,0.95 0 1,0 -1.9,0M119.5,794.8a0.95,0.95 0 1,0 1.9,0a0.95,0.95 0 1,0 -1.9,0M90.3,839.7a0.95,0.95 0 1,0 1.9,0a0.95,0.95 0 1,0 -1.9,0M107.6,820.6a0.95,0.95 0 1,0 1.9,0a0.95,0.95 0 1,0 -1.9,0M157.2,808.3a0.95,0.95 0 1,0 1.9,0a0.95,0.95 0 1,0 -1.9,0M92.3,844.3a0.95,0.95 0 1,0 1.9,0a0.95,0.95 0 1,0 -1.9,0M92.9,838.0a0.95,0.95 0 1,0 1.9,0a0.95,0.95 0 1,0 -1.9,0M47.3,840.4a0.95,0.95 0 1,0 1.9,0a0.95,0.95 0 1,0 -1.9,0M105.4,782.1a0.95,0.95 0 1,0 1.9,0a0.95,0.95 0 1,0 -1.9,0M131.4,807.6a0.95,0.95 0 1,0 1.9,0a0.95,0.95 0 1,0 -1.9,0M102.2,843.4a0.95,0.95 0 1,0 1.9,0a0.95,0.95 0 1,0 -1.9,0M99.4,819.2a0.95,0.95 0 1,0 1.9,0a0.95,0.95 0 1,0 -1.9,0M101.3,800.6a0.95,0.95 0 1,0 1.9,0a0.95,0.95 0 1,0 -1.9,0M101.3,857.0a0.95,0.95 0 1,0 1.9,0a0.95,0.95 0 1,0 -1.9,0M100.1,790.8a0.95,0.95 0 1,0 1.9,0a0.95,0.95 0 1,0 -1.9,0M73.2,841.2a0.95,0.95 0 1,0 1.9,0a0.95,0.95 0 1,0 -1.9,0M115.6,814.3a0.95,0.95 0 1,0 1.9,0a0.95,0.95 0 1,0 -1.9,0M128.4,836.3a0.95,0.95 0 1,0 1.9,0a0.95,0.95 0 1,0 -1.9,0M123.6,824.4a0.95,0.95 0 1,0 1.9,0a0.95,0.95 0 1,0 -1.9,0M117.7,841.2a0.95,0.95 0 1,0 1.9,0a0.95,0.95 0 1,0 -1.9,0M79.8,857.5a0.95,0.95 0 1,0 1.9,0a0.95,0.95 0 1,0 -1.9,0M86.2,829.2a0.95,0.95 0 1,0 1.9,0a0.95,0.95 0 1,0 -1.9,0M67.9,813.0a0.95,0.95 0 1,0 1.9,0a0.95,0.95 0 1,0 -1.9,0M64.2,827.3a0.95,0.95 0 1,0 1.9,0a0.95,0.95 0 1,0 -1.9,0M96.5,787.4a0.95,0.95 0 1,0 1.9,0a0.95,0.95 0 1,0 -1.9,0M61.4,818.6a0.95,0.95 0 1,0 1.9,0a0.95,0.95 0 1,0 -1.9,0M67.8,813.2a0.95,0.95 0 1,0 1.9,0a0.95,0.95 0 1,0 -1.9,0M62.1,802.1a0.95,0.95 0 1,0 1.9,0a0.95,0.95 0 1,0 -1.9,0M69.1,807.6a0.95,0.95 0 1,0 1.9,0a0.95,0.95 0 1,0 -1.9,0M92.0,832.5a0.95,0.95 0 1,0 1.9,0a0.95,0.95 0 1,0 -1.9,0M114.6,818.8a0.95,0.95 0 1,0 1.9,0a0.95,0.95 0 1,0 -1.9,0M100.3,837.7a0.95,0.95 0 1,0 1.9,0a0.95,0.95 0 1,0 -1.9,0M115.4,809.3a0.95,0.95 0 1,0 1.9,0a0.95,0.95 0 1,0 -1.9,0M87.4,831.6a0.95,0.95 0 1,0 1.9,0a0.95,0.95 0 1,0 -1.9,0M78.2,836.5a0.95,0.95 0 1,0 1.9,0a0.95,0.95 0 1,0 -1.9,0M55.4,809.6a0.95,0.95 0 1,0 1.9,0a0.95,0.95 0 1,0 -1.9,0M102.3,833.6a0.95,0.95 0 1,0 1.9,0a0.95,0.95 0 1,0 -1.9,0M109.1,802.2a0.95,0.95 0 1,0 1.9,0a0.95,0.95 0 1,0 -1.9,0M82.1,829.5a0.95,0.95 0 1,0 1.9,0a0.95,0.95 0 1,0 -1.9,0M93.0,804.9a0.95,0.95 0 1,0 1.9,0a0.95,0.95 0 1,0 -1.9,0M111.2,817.0a0.95,0.95 0 1,0 1.9,0a0.95,0.95 0 1,0 -1.9,0M124.8,847.0a0.95,0.95 0 1,0 1.9,0a0.95,0.95 0 1,0 -1.9,0M78.7,840.3a0.95,0.95 0 1,0 1.9,0a0.95,0.95 0 1,0 -1.9,0M118.7,810.3a0.95,0.95 0 1,0 1.9,0a0.95,0.95 0 1,0 -1.9,0M84.6,824.6a0.95,0.95 0 1,0 1.9,0a0.95,0.95 0 1,0 -1.9,0M117.4,800.2a0.95,0.95 0 1,0 1.9,0a0.95,0.95 0 1,0 -1.9,0M86.3,783.4a0.95,0.95 0 1,0 1.9,0a0.95,0.95 0 1,0 -1.9,0M105.1,819.1a0.95,0.95 0 1,0 1.9,0a0.95,0.95 0 1,0 -1.9,0M66.2,854.2a0.95,0.95 0 1,0 1.9,0a0.95,0.95 0 1,0 -1.9,0M67.2,816.0a0.95,0.95 0 1,0 1.9,0a0.95,0.95 0 1,0 -1.9,0M89.6,802.4a0.95,0.95 0 1,0 1.9,0a0.95,0.95 0 1,0 -1.9,0M106.6,809.8a0.95,0.95 0 1,0 1.9,0a0.95,0.95 0 1,0 -1.9,0M110.8,809.3a0.95,0.95 0 1,0 1.9,0a0.95,0.95 0 1,0 -1.9,0M95.6,815.4a0.95,0.95 0 1,0 1.9,0a0.95,0.95 0 1,0 -1.9,0M59.7,836.9a0.95,0.95 0 1,0 1.9,0a0.95,0.95 0 1,0 -1.9,0M69.7,818.2a0.95,0.95 0 1,0 1.9,0a0.95,0.95 0 1,0 -1.9,0M108.3,825.0a0.95,0.95 0 1,0 1.9,0a0.95,0.95 0 1,0 -1.9,0M118.3,817.0a0.95,0.95 0 1,0 1.9,0a0.95,0.95 0 1,0 -1.9,0M98.9,824.9a0.95,0.95 0 1,0 1.9,0a0.95,0.95 0 1,0 -1.9,0M142.7,808.5a0.95,0.95 0 1,0 1.9,0a0.95,0.95 0 1,0 -1.9,0M81.6,843.8a0.95,0.95 0 1,0 1.9,0a0.95,0.95 0 1,0 -1.9,0M96.0,804.9a0.95,0.95 0 1,0 1.9,0a0.95,0.95 0 1,0 -1.9,0M101.3,782.6a0.95,0.95 0 1,0 1.9,0a0.95,0.95 0 1,0 -1.9,0M91.2,853.2a0.95,0.95 0 1,0 1.9,0a0.95,0.95 0 1,0 -1.9,0M64.5,843.9a0.95,0.95 0 1,0 1.9,0a0.95,0.95 0 1,0 -1.9,0M63.8,804.7a0.95,0.95 0 1,0 1.9,0a0.95,0.95 0 1,0 -1.9,0M97.6,834.4a0.95,0.95 0 1,0 1.9,0a0.95,0.95 0 1,0 -1.9,0M106.9,820.8a0.95,0.95 0 1,0 1.9,0a0.95,0.95 0 1,0 -1.9,0M140.0,818.0a0.95,0.95 0 1,0 1.9,0a0.95,0.95 0 1,0 -1.9,0M98.2,819.1a0.95,0.95 0 1,0 1.9,0a0.95,0.95 0 1,0 -1.9,0M56.9,848.3a0.95,0.95 0 1,0 1.9,0a0.95,0.95 0 1,0 -1.9,0M74.0,823.1a0.95,0.95 0 1,0 1.9,0a0.95,0.95 0 1,0 -1.9,0M108.4,783.2a0.95,0.95 0 1,0 1.9,0a0.95,0.95 0 1,0 -1.9,0M104.1,800.2a0.95,0.95 0 1,0 1.9,0a0.95,0.95 0 1,0 -1.9,0M104.0,796.2a0.95,0.95 0 1,0 1.9,0a0.95,0.95 0 1,0 -1.9,0M62.5,857.7a0.95,0.95 0 1,0 1.9,0a0.95,0.95 0 1,0 -1.9,0M87.9,823.5a0.95,0.95 0 1,0 1.9,0a0.95,0.95 0 1,0 -1.9,0M95.9,825.5a0.95,0.95 0 1,0 1.9,0a0.95,0.95 0 1,0 -1.9,0M146.9,783.9a0.95,0.95 0 1,0 1.9,0a0.95,0.95 0 1,0 -1.9,0M128.9,811.9a0.95,0.95 0 1,0 1.9,0a0.95,0.95 0 1,0 -1.9,0M92.5,815.1a0.95,0.95 0 1,0 1.9,0a0.95,0.95 0 1,0 -1.9,0M118.1,817.6a0.95,0.95 0 1,0 1.9,0a0.95,0.95 0 1,0 -1.9,0M100.1,812.7a0.95,0.95 0 1,0 1.9,0a0.95,0.95 0 1,0 -1.9,0M89.9,847.3a0.95,0.95 0 1,0 1.9,0a0.95,0.95 0 1,0 -1.9,0M88.7,817.3a0.95,0.95 0 1,0 1.9,0a0.95,0.95 0 1,0 -1.9,0M54.6,834.9a0.95,0.95 0 1,0 1.9,0a0.95,0.95 0 1,0 -1.9,0M134.6,811.5a0.95,0.95 0 1,0 1.9,0a0.95,0.95 0 1,0 -1.9,0M100.2,796.5a0.95,0.95 0 1,0 1.9,0a0.95,0.95 0 1,0 -1.9,0M68.6,827.9a0.95,0.95 0 1,0 1.9,0a0.95,0.95 0 1,0 -1.9,0M86.1,848.0a0.95,0.95 0 1,0 1.9,0a0.95,0.95 0 1,0 -1.9,0M83.0,809.4a0.95,0.95 0 1,0 1.9,0a0.95,0.95 0 1,0 -1.9,0M92.8,843.0a0.95,0.95 0 1,0 1.9,0a0.95,0.95 0 1,0 -1.9,0M85.1,856.4a0.95,0.95 0 1,0 1.9,0a0.95,0.95 0 1,0 -1.9,0M136.0,791.0a0.95,0.95 0 1,0 1.9,0a0.95,0.95 0 1,0 -1.9,0M56.1,788.1a0.95,0.95 0 1,0 1.9,0a0.95,0.95 0 1,0 -1.9,0M122.1,837.4a0.95,0.95 0 1,0 1.9,0a0.95,0.95 0 1,0 -1.9,0M93.8,823.2a0.95,0.95 0 1,0 1.9,0a0.95,0.95 0 1,0 -1.9,0M84.3,847.0a0.95,0.95 0 1,0 1.9,0a0.95,0.95 0 1,0 -1.9,0M73.4,838.3a0.95,0.95 0 1,0 1.9,0a0.95,0.95 0 1,0 -1.9,0M101.7,813.9a0.95,0.95 0 1,0 1.9,0a0.95,0.95 0 1,0 -1.9,0M67.7,839.0a0.95,0.95 0 1,0 1.9,0a0.95,0.95 0 1,0 -1.9,0M114.8,798.5a0.95,0.95 0 1,0 1.9,0a0.95,0.95 0 1,0 -1.9,0M131.6,802.8a0.95,0.95 0 1,0 1.9,0a0.95,0.95 0 1,0 -1.9,0M109.2,826.7a0.95,0.95 0 1,0 1.9,0a0.95,0.95 0 1,0 -1.9,0M94.6,823.3a0.95,0.95 0 1,0 1.9,0a0.95,0.95 0 1,0 -1.9,0M146.5,798.8a0.95,0.95 0 1,0 1.9,0a0.95,0.95 0 1,0 -1.9,0M98.8,810.3a0.95,0.95 0 1,0 1.9,0a0.95,0.95 0 1,0 -1.9,0M117.1,794.7a0.95,0.95 0 1,0 1.9,0a0.95,0.95 0 1,0 -1.9,0M103.3,783.8a0.95,0.95 0 1,0 1.9,0a0.95,0.95 0 1,0 -1.9,0M110.8,818.4a0.95,0.95 0 1,0 1.9,0a0.95,0.95 0 1,0 -1.9,0M85.6,785.0a0.95,0.95 0 1,0 1.9,0a0.95,0.95 0 1,0 -1.9,0M79.7,806.6a0.95,0.95 0 1,0 1.9,0a0.95,0.95 0 1,0 -1.9,0M127.6,825.4a0.95,0.95 0 1,0 1.9,0a0.95,0.95 0 1,0 -1.9,0M99.0,809.6a0.95,0.95 0 1,0 1.9,0a0.95,0.95 0 1,0 -1.9,0M111.6,832.1a0.95,0.95 0 1,0 1.9,0a0.95,0.95 0 1,0 -1.9,0M70.5,811.1a0.95,0.95 0 1,0 1.9,0a0.95,0.95 0 1,0 -1.9,0M120.5,808.4a0.95,0.95 0 1,0 1.9,0a0.95,0.95 0 1,0 -1.9,0M129.8,815.1a0.95,0.95 0 1,0 1.9,0a0.95,0.95 0 1,0 -1.9,0M101.8,788.8a0.95,0.95 0 1,0 1.9,0a0.95,0.95 0 1,0 -1.9,0M59.3,842.0a0.95,0.95 0 1,0 1.9,0a0.95,0.95 0 1,0 -1.9,0M116.3,804.8a0.95,0.95 0 1,0 1.9,0a0.95,0.95 0 1,0 -1.9,0M58.1,827.8a0.95,0.95 0 1,0 1.9,0a0.95,0.95 0 1,0 -1.9,0M111.4,808.8a0.95,0.95 0 1,0 1.9,0a0.95,0.95 0 1,0 -1.9,0M117.7,804.5a0.95,0.95 0 1,0 1.9,0a0.95,0.95 0 1,0 -1.9,0M66.6,792.0a0.95,0.95 0 1,0 1.9,0a0.95,0.95 0 1,0 -1.9,0M80.5,815.6a0.95,0.95 0 1,0 1.9,0a0.95,0.95 0 1,0 -1.9,0M63.7,799.7a0.95,0.95 0 1,0 1.9,0a0.95,0.95 0 1,0 -1.9,0M76.0,803.1a0.95,0.95 0 1,0 1.9,0a0.95,0.95 0 1,0 -1.9,0M62.5,799.6a0.95,0.95 0 1,0 1.9,0a0.95,0.95 0 1,0 -1.9,0M56.1,808.3a0.95,0.95 0 1,0 1.9,0a0.95,0.95 0 1,0 -1.9,0M54.8,840.2a0.95,0.95 0 1,0 1.9,0a0.95,0.95 0 1,0 -1.9,0M112.8,786.2a0.95,0.95 0 1,0 1.9,0a0.95,0.95 0 1,0 -1.9,0M101.4,808.8a0.95,0.95 0 1,0 1.9,0a0.95,0.95 0 1,0 -1.9,0M123.3,796.5a0.95,0.95 0 1,0 1.9,0a0.95,0.95 0 1,0 -1.9,0M88.7,824.9a0.95,0.95 0 1,0 1.9,0a0.95,0.95 0 1,0 -1.9,0M129.9,821.8a0.95,0.95 0 1,0 1.9,0a0.95,0.95 0 1,0 -1.9,0M66.1,815.4a0.95,0.95 0 1,0 1.9,0a0.95,0.95 0 1,0 -1.9,0M94.5,826.1a0.95,0.95 0 1,0 1.9,0a0.95,0.95 0 1,0 -1.9,0M90.1,813.1a0.95,0.95 0 1,0 1.9,0a0.95,0.95 0 1,0 -1.9,0M68.6,805.3a0.95,0.95 0 1,0 1.9,0a0.95,0.95 0 1,0 -1.9,0M74.7,808.6a0.95,0.95 0 1,0 1.9,0a0.95,0.95 0 1,0 -1.9,0M64.9,800.1a0.95,0.95 0 1,0 1.9,0a0.95,0.95 0 1,0 -1.9,0M97.0,847.4a0.95,0.95 0 1,0 1.9,0a0.95,0.95 0 1,0 -1.9,0M78.1,839.2a0.95,0.95 0 1,0 1.9,0a0.95,0.95 0 1,0 -1.9,0M77.7,821.8a0.95,0.95 0 1,0 1.9,0a0.95,0.95 0 1,0 -1.9,0M73.8,804.1a0.95,0.95 0 1,0 1.9,0a0.95,0.95 0 1,0 -1.9,0M81.0,798.6a0.95,0.95 0 1,0 1.9,0a0.95,0.95 0 1,0 -1.9,0M153.8,806.6a0.95,0.95 0 1,0 1.9,0a0.95,0.95 0 1,0 -1.9,0M46.9,783.8a0.95,0.95 0 1,0 1.9,0a0.95,0.95 0 1,0 -1.9,0M86.0,838.6a0.95,0.95 0 1,0 1.9,0a0.95,0.95 0 1,0 -1.9,0M144.7,801.8a0.95,0.95 0 1,0 1.9,0a0.95,0.95 0 1,0 -1.9,0M103.0,825.2a0.95,0.95 0 1,0 1.9,0a0.95,0.95 0 1,0 -1.9,0M108.6,844.1a0.95,0.95 0 1,0 1.9,0a0.95,0.95 0 1,0 -1.9,0M133.9,822.9a0.95,0.95 0 1,0 1.9,0a0.95,0.95 0 1,0 -1.9,0M85.6,834.7a0.95,0.95 0 1,0 1.9,0a0.95,0.95 0 1,0 -1.9,0M108.5,853.8a0.95,0.95 0 1,0 1.9,0a0.95,0.95 0 1,0 -1.9,0M59.9,832.0a0.95,0.95 0 1,0 1.9,0a0.95,0.95 0 1,0 -1.9,0M82.2,820.7a0.95,0.95 0 1,0 1.9,0a0.95,0.95 0 1,0 -1.9,0M120.0,823.8a0.95,0.95 0 1,0 1.9,0a0.95,0.95 0 1,0 -1.9,0M96.9,792.1a0.95,0.95 0 1,0 1.9,0a0.95,0.95 0 1,0 -1.9,0M94.1,841.4a0.95,0.95 0 1,0 1.9,0a0.95,0.95 0 1,0 -1.9,0M60.8,799.4a0.95,0.95 0 1,0 1.9,0a0.95,0.95 0 1,0 -1.9,0M86.9,819.4a0.95,0.95 0 1,0 1.9,0a0.95,0.95 0 1,0 -1.9,0M106.7,842.4a0.95,0.95 0 1,0 1.9,0a0.95,0.95 0 1,0 -1.9,0M125.0,825.6a0.95,0.95 0 1,0 1.9,0a0.95,0.95 0 1,0 -1.9,0M72.1,818.5a0.95,0.95 0 1,0 1.9,0a0.95,0.95 0 1,0 -1.9,0M94.5,808.3a0.95,0.95 0 1,0 1.9,0a0.95,0.95 0 1,0 -1.9,0M97.1,848.2a0.95,0.95 0 1,0 1.9,0a0.95,0.95 0 1,0 -1.9,0M85.0,818.5a0.95,0.95 0 1,0 1.9,0a0.95,0.95 0 1,0 -1.9,0M70.2,816.4a0.95,0.95 0 1,0 1.9,0a0.95,0.95 0 1,0 -1.9,0M113.8,794.9a0.95,0.95 0 1,0 1.9,0a0.95,0.95 0 1,0 -1.9,0M141.3,811.7a0.95,0.95 0 1,0 1.9,0a0.95,0.95 0 1,0 -1.9,0M112.3,833.8a0.95,0.95 0 1,0 1.9,0a0.95,0.95 0 1,0 -1.9,0M97.6,806.3a0.95,0.95 0 1,0 1.9,0a0.95,0.95 0 1,0 -1.9,0M50.6,799.1a0.95,0.95 0 1,0 1.9,0a0.95,0.95 0 1,0 -1.9,0M143.5,816.3a0.95,0.95 0 1,0 1.9,0a0.95,0.95 0 1,0 -1.9,0M152.0,835.2a0.95,0.95 0 1,0 1.9,0a0.95,0.95 0 1,0 -1.9,0M154.5,808.4a0.95,0.95 0 1,0 1.9,0a0.95,0.95 0 1,0 -1.9,0M106.4,814.7a0.95,0.95 0 1,0 1.9,0a0.95,0.95 0 1,0 -1.9,0M82.3,810.1a0.95,0.95 0 1,0 1.9,0a0.95,0.95 0 1,0 -1.9,0M55.5,836.6a0.95,0.95 0 1,0 1.9,0a0.95,0.95 0 1,0 -1.9,0M131.6,821.7a0.95,0.95 0 1,0 1.9,0a0.95,0.95 0 1,0 -1.9,0M106.3,789.4a0.95,0.95 0 1,0 1.9,0a0.95,0.95 0 1,0 -1.9,0M59.1,811.8a0.95,0.95 0 1,0 1.9,0a0.95,0.95 0 1,0 -1.9,0M62.3,845.5a0.95,0.95 0 1,0 1.9,0a0.95,0.95 0 1,0 -1.9,0M158.8,813.2a0.95,0.95 0 1,0 1.9,0a0.95,0.95 0 1,0 -1.9,0M136.6,850.7a0.95,0.95 0 1,0 1.9,0a0.95,0.95 0 1,0 -1.9,0M155.9,823.0a0.95,0.95 0 1,0 1.9,0a0.95,0.95 0 1,0 -1.9,0M75.6,831.1a0.95,0.95 0 1,0 1.9,0a0.95,0.95 0 1,0 -1.9,0M129.0,824.8a0.95,0.95 0 1,0 1.9,0a0.95,0.95 0 1,0 -1.9,0M143.3,804.2a0.95,0.95 0 1,0 1.9,0a0.95,0.95 0 1,0 -1.9,0M122.5,830.2a0.95,0.95 0 1,0 1.9,0a0.95,0.95 0 1,0 -1.9,0M47.7,855.2a0.95,0.95 0 1,0 1.9,0a0.95,0.95 0 1,0 -1.9,0M72.0,808.4a0.95,0.95 0 1,0 1.9,0a0.95,0.95 0 1,0 -1.9,0M67.4,818.7a0.95,0.95 0 1,0 1.9,0a0.95,0.95 0 1,0 -1.9,0M148.2,800.0a0.95,0.95 0 1,0 1.9,0a0.95,0.95 0 1,0 -1.9,0M108.3,805.7a0.95,0.95 0 1,0 1.9,0a0.95,0.95 0 1,0 -1.9,0M137.6,840.3a0.95,0.95 0 1,0 1.9,0a0.95,0.95 0 1,0 -1.9,0M61.5,814.2a0.95,0.95 0 1,0 1.9,0a0.95,0.95 0 1,0 -1.9,0M45.9,822.5a0.95,0.95 0 1,0 1.9,0a0.95,0.95 0 1,0 -1.9,0M81.1,828.8a0.95,0.95 0 1,0 1.9,0a0.95,0.95 0 1,0 -1.9,0M85.2,804.4a0.95,0.95 0 1,0 1.9,0a0.95,0.95 0 1,0 -1.9,0M112.8,819.7a0.95,0.95 0 1,0 1.9,0a0.95,0.95 0 1,0 -1.9,0M43.5,858.3a0.95,0.95 0 1,0 1.9,0a0.95,0.95 0 1,0 -1.9,0M153.9,815.7a0.95,0.95 0 1,0 1.9,0a0.95,0.95 0 1,0 -1.9,0M135.6,863.9a0.95,0.95 0 1,0 1.9,0a0.95,0.95 0 1,0 -1.9,0M113.0,834.8a0.95,0.95 0 1,0 1.9,0a0.95,0.95 0 1,0 -1.9,0M117.5,833.5a0.95,0.95 0 1,0 1.9,0a0.95,0.95 0 1,0 -1.9,0M56.7,837.4a0.95,0.95 0 1,0 1.9,0a0.95,0.95 0 1,0 -1.9,0M137.6,847.7a0.95,0.95 0 1,0 1.9,0a0.95,0.95 0 1,0 -1.9,0M130.9,804.9a0.95,0.95 0 1,0 1.9,0a0.95,0.95 0 1,0 -1.9,0M93.3,795.6a0.95,0.95 0 1,0 1.9,0a0.95,0.95 0 1,0 -1.9,0M43.6,810.2a0.95,0.95 0 1,0 1.9,0a0.95,0.95 0 1,0 -1.9,0M94.9,806.3a0.95,0.95 0 1,0 1.9,0a0.95,0.95 0 1,0 -1.9,0M151.6,781.5a0.95,0.95 0 1,0 1.9,0a0.95,0.95 0 1,0 -1.9,0M107.0,842.5a0.95,0.95 0 1,0 1.9,0a0.95,0.95 0 1,0 -1.9,0M42.4,810.7a0.95,0.95 0 1,0 1.9,0a0.95,0.95 0 1,0 -1.9,0M149.5,840.2a0.95,0.95 0 1,0 1.9,0a0.95,0.95 0 1,0 -1.9,0M44.6,832.1a0.95,0.95 0 1,0 1.9,0a0.95,0.95 0 1,0 -1.9,0M115.0,823.7a0.95,0.95 0 1,0 1.9,0a0.95,0.95 0 1,0 -1.9,0M77.6,808.7a0.95,0.95 0 1,0 1.9,0a0.95,0.95 0 1,0 -1.9,0M153.0,823.5a0.95,0.95 0 1,0 1.9,0a0.95,0.95 0 1,0 -1.9,0M120.6,790.1a0.95,0.95 0 1,0 1.9,0a0.95,0.95 0 1,0 -1.9,0M141.2,823.0a0.95,0.95 0 1,0 1.9,0a0.95,0.95 0 1,0 -1.9,0M50.1,821.5a0.95,0.95 0 1,0 1.9,0a0.95,0.95 0 1,0 -1.9,0M85.7,826.2a0.95,0.95 0 1,0 1.9,0a0.95,0.95 0 1,0 -1.9,0M76.3,836.2a0.95,0.95 0 1,0 1.9,0a0.95,0.95 0 1,0 -1.9,0M44.5,834.0a0.95,0.95 0 1,0 1.9,0a0.95,0.95 0 1,0 -1.9,0M132.6,826.2a0.95,0.95 0 1,0 1.9,0a0.95,0.95 0 1,0 -1.9,0M74.9,807.5a0.95,0.95 0 1,0 1.9,0a0.95,0.95 0 1,0 -1.9,0M46.0,817.0a0.95,0.95 0 1,0 1.9,0a0.95,0.95 0 1,0 -1.9,0M49.8,840.2a0.95,0.95 0 1,0 1.9,0a0.95,0.95 0 1,0 -1.9,0M114.2,810.6a0.95,0.95 0 1,0 1.9,0a0.95,0.95 0 1,0 -1.9,0M43.9,830.0a0.95,0.95 0 1,0 1.9,0a0.95,0.95 0 1,0 -1.9,0M65.9,826.4a0.95,0.95 0 1,0 1.9,0a0.95,0.95 0 1,0 -1.9,0M138.5,802.4a0.95,0.95 0 1,0 1.9,0a0.95,0.95 0 1,0 -1.9,0M136.5,820.6a0.95,0.95 0 1,0 1.9,0a0.95,0.95 0 1,0 -1.9,0M123.4,800.8a0.95,0.95 0 1,0 1.9,0a0.95,0.95 0 1,0 -1.9,0M101.8,834.4a0.95,0.95 0 1,0 1.9,0a0.95,0.95 0 1,0 -1.9,0M84.6,833.5a0.95,0.95 0 1,0 1.9,0a0.95,0.95 0 1,0 -1.9,0M134.5,809.5a0.95,0.95 0 1,0 1.9,0a0.95,0.95 0 1,0 -1.9,0M45.0,837.0a0.95,0.95 0 1,0 1.9,0a0.95,0.95 0 1,0 -1.9,0M150.7,805.1a0.95,0.95 0 1,0 1.9,0a0.95,0.95 0 1,0 -1.9,0M155.5,838.0a0.95,0.95 0 1,0 1.9,0a0.95,0.95 0 1,0 -1.9,0M67.8,821.7a0.95,0.95 0 1,0 1.9,0a0.95,0.95 0 1,0 -1.9,0M127.6,824.7a0.95,0.95 0 1,0 1.9,0a0.95,0.95 0 1,0 -1.9,0M148.3,834.0a0.95,0.95 0 1,0 1.9,0a0.95,0.95 0 1,0 -1.9,0M158.6,802.4a0.95,0.95 0 1,0 1.9,0a0.95,0.95 0 1,0 -1.9,0M42.2,818.6a0.95,0.95 0 1,0 1.9,0a0.95,0.95 0 1,0 -1.9,0M105.8,838.9a0.95,0.95 0 1,0 1.9,0a0.95,0.95 0 1,0 -1.9,0M153.1,835.6a0.95,0.95 0 1,0 1.9,0a0.95,0.95 0 1,0 -1.9,0M81.1,801.4a0.95,0.95 0 1,0 1.9,0a0.95,0.95 0 1,0 -1.9,0M98.9,831.3a0.95,0.95 0 1,0 1.9,0a0.95,0.95 0 1,0 -1.9,0M125.6,832.4a0.95,0.95 0 1,0 1.9,0a0.95,0.95 0 1,0 -1.9,0M76.4,812.0a0.95,0.95 0 1,0 1.9,0a0.95,0.95 0 1,0 -1.9,0M155.0,777.7a0.95,0.95 0 1,0 1.9,0a0.95,0.95 0 1,0 -1.9,0M64.6,826.9a0.95,0.95 0 1,0 1.9,0a0.95,0.95 0 1,0 -1.9,0M111.3,806.7a0.95,0.95 0 1,0 1.9,0a0.95,0.95 0 1,0 -1.9,0M114.7,792.7a0.95,0.95 0 1,0 1.9,0a0.95,0.95 0 1,0 -1.9,0M130.5,833.3a0.95,0.95 0 1,0 1.9,0a0.95,0.95 0 1,0 -1.9,0M129.1,796.1a0.95,0.95 0 1,0 1.9,0a0.95,0.95 0 1,0 -1.9,0M105.1,820.1a0.95,0.95 0 1,0 1.9,0a0.95,0.95 0 1,0 -1.9,0M81.5,827.7a0.95,0.95 0 1,0 1.9,0a0.95,0.95 0 1,0 -1.9,0M133.9,811.2a0.95,0.95 0 1,0 1.9,0a0.95,0.95 0 1,0 -1.9,0M141.4,810.3a0.95,0.95 0 1,0 1.9,0a0.95,0.95 0 1,0 -1.9,0M129.4,815.8a0.95,0.95 0 1,0 1.9,0a0.95,0.95 0 1,0 -1.9,0M122.4,834.5a0.95,0.95 0 1,0 1.9,0a0.95,0.95 0 1,0 -1.9,0M124.1,830.5a0.95,0.95 0 1,0 1.9,0a0.95,0.95 0 1,0 -1.9,0M130.4,842.6a0.95,0.95 0 1,0 1.9,0a0.95,0.95 0 1,0 -1.9,0M62.5,839.8a0.95,0.95 0 1,0 1.9,0a0.95,0.95 0 1,0 -1.9,0M70.4,838.5a0.95,0.95 0 1,0 1.9,0a0.95,0.95 0 1,0 -1.9,0M118.0,832.0a0.95,0.95 0 1,0 1.9,0a0.95,0.95 0 1,0 -1.9,0M58.7,815.0a0.95,0.95 0 1,0 1.9,0a0.95,0.95 0 1,0 -1.9,0M158.9,821.6a0.95,0.95 0 1,0 1.9,0a0.95,0.95 0 1,0 -1.9,0M125.6,823.4a0.95,0.95 0 1,0 1.9,0a0.95,0.95 0 1,0 -1.9,0M149.8,819.0a0.95,0.95 0 1,0 1.9,0a0.95,0.95 0 1,0 -1.9,0M100.2,838.5a0.95,0.95 0 1,0 1.9,0a0.95,0.95 0 1,0 -1.9,0M69.1,805.8a0.95,0.95 0 1,0 1.9,0a0.95,0.95 0 1,0 -1.9,0M100.2,840.6a0.95,0.95 0 1,0 1.9,0a0.95,0.95 0 1,0 -1.9,0M138.1,789.1a0.95,0.95 0 1,0 1.9,0a0.95,0.95 0 1,0 -1.9,0M64.0,815.9a0.95,0.95 0 1,0 1.9,0a0.95,0.95 0 1,0 -1.9,0M134.4,796.4a0.95,0.95 0 1,0 1.9,0a0.95,0.95 0 1,0 -1.9,0M74.1,791.1a0.95,0.95 0 1,0 1.9,0a0.95,0.95 0 1,0 -1.9,0M145.9,807.2a0.95,0.95 0 1,0 1.9,0a0.95,0.95 0 1,0 -1.9,0M66.4,843.1a0.95,0.95 0 1,0 1.9,0a0.95,0.95 0 1,0 -1.9,0M79.2,838.4a0.95,0.95 0 1,0 1.9,0a0.95,0.95 0 1,0 -1.9,0M53.1,819.9a0.95,0.95 0 1,0 1.9,0a0.95,0.95 0 1,0 -1.9,0M45.6,821.0a0.95,0.95 0 1,0 1.9,0a0.95,0.95 0 1,0 -1.9,0M84.4,858.5a0.95,0.95 0 1,0 1.9,0a0.95,0.95 0 1,0 -1.9,0M94.6,817.1a0.95,0.95 0 1,0 1.9,0a0.95,0.95 0 1,0 -1.9,0M48.9,855.3a0.95,0.95 0 1,0 1.9,0a0.95,0.95 0 1,0 -1.9,0M51.7,827.8a0.95,0.95 0 1,0 1.9,0a0.95,0.95 0 1,0 -1.9,0M145.4,837.1a0.95,0.95 0 1,0 1.9,0a0.95,0.95 0 1,0 -1.9,0M112.7,809.7a0.95,0.95 0 1,0 1.9,0a0.95,0.95 0 1,0 -1.9,0M88.8,847.2a0.95,0.95 0 1,0 1.9,0a0.95,0.95 0 1,0 -1.9,0M50.6,794.1a0.95,0.95 0 1,0 1.9,0a0.95,0.95 0 1,0 -1.9,0M105.7,818.2a0.95,0.95 0 1,0 1.9,0a0.95,0.95 0 1,0 -1.9,0M75.8,815.1a0.95,0.95 0 1,0 1.9,0a0.95,0.95 0 1,0 -1.9,0M140.1,815.5a0.95,0.95 0 1,0 1.9,0a0.95,0.95 0 1,0 -1.9,0M98.3,833.7a0.95,0.95 0 1,0 1.9,0a0.95,0.95 0 1,0 -1.9,0M69.5,856.2a0.95,0.95 0 1,0 1.9,0a0.95,0.95 0 1,0 -1.9,0M141.7,819.1a0.95,0.95 0 1,0 1.9,0a0.95,0.95 0 1,0 -1.9,0M130.9,810.7a0.95,0.95 0 1,0 1.9,0a0.95,0.95 0 1,0 -1.9,0M109.0,805.8a0.95,0.95 0 1,0 1.9,0a0.95,0.95 0 1,0 -1.9,0M129.3,763.4a0.95,0.95 0 1,0 1.9,0a0.95,0.95 0 1,0 -1.9,0M143.7,763.8a0.95,0.95 0 1,0 1.9,0a0.95,0.95 0 1,0 -1.9,0M173.7,793.8a0.95,0.95 0 1,0 1.9,0a0.95,0.95 0 1,0 -1.9,0M159.8,784.4a0.95,0.95 0 1,0 1.9,0a0.95,0.95 0 1,0 -1.9,0M57.0,869.8a0.95,0.95 0 1,0 1.9,0a0.95,0.95 0 1,0 -1.9,0M79.2,865.3a0.95,0.95 0 1,0 1.9,0a0.95,0.95 0 1,0 -1.9,0M84.4,869.8a0.95,0.95 0 1,0 1.9,0a0.95,0.95 0 1,0 -1.9,0M40.4,797.1a0.95,0.95 0 1,0 1.9,0a0.95,0.95 0 1,0 -1.9,0" fill="#13508d"/>
<line x1="41.40" y1="823.81" x2="174.23" y2="813.35" stroke="#111" stroke-width="1.3" />
<line x1="41.20" y1="750.20" x2="41.20" y2="879.90" stroke="#111" stroke-width="1.3" />
<line x1="40.60" y1="879.30" x2="221.50" y2="879.30" stroke="#111" stroke-width="1.3" />
<line x1="36.90" y1="879.30" x2="41.20" y2="879.30" stroke="#111" stroke-width="1.2" />
<text x="32.2" y="882.9" font-size="10.5" text-anchor="end" font-weight="normal" fill="#111" >5</text>
<line x1="36.90" y1="838.20" x2="41.20" y2="838.20" stroke="#111" stroke-width="1.2" />
<text x="32.2" y="841.8" font-size="10.5" text-anchor="end" font-weight="normal" fill="#111" >6</text>
<line x1="36.90" y1="797.10" x2="41.20" y2="797.10" stroke="#111" stroke-width="1.2" />
<text x="32.2" y="800.6999999999999" font-size="10.5" text-anchor="end" font-weight="normal" fill="#111" >7</text>
<line x1="36.90" y1="756.00" x2="41.20" y2="756.00" stroke="#111" stroke-width="1.2" />
<text x="32.2" y="759.6" font-size="10.5" text-anchor="end" font-weight="normal" fill="#111" >8</text>
<line x1="41.40" y1="879.30" x2="41.40" y2="883.80" stroke="#111" stroke-width="1.2" />
<text x="41.4" y="896.8" font-size="10.5" text-anchor="middle" font-weight="normal" fill="#111" >0</text>
<line x1="84.95" y1="879.30" x2="84.95" y2="883.80" stroke="#111" stroke-width="1.2" />
<text x="84.94999999999999" y="896.8" font-size="10.5" text-anchor="middle" font-weight="normal" fill="#111" >1</text>
<line x1="128.50" y1="879.30" x2="128.50" y2="883.80" stroke="#111" stroke-width="1.2" />
<text x="128.5" y="896.8" font-size="10.5" text-anchor="middle" font-weight="normal" fill="#111" >2</text>
<line x1="172.05" y1="879.30" x2="172.05" y2="883.80" stroke="#111" stroke-width="1.2" />
<text x="172.04999999999998" y="896.8" font-size="10.5" text-anchor="middle" font-weight="normal" fill="#111" >3</text>
<line x1="215.60" y1="879.30" x2="215.60" y2="883.80" stroke="#111" stroke-width="1.2" />
<text x="215.6" y="896.8" font-size="10.5" text-anchor="middle" font-weight="normal" fill="#111" >4</text>
<text transform="translate(19.7,815) rotate(-90)" x="0" y="0" font-size="12.2" font-weight="bold" text-anchor="middle" fill="#111" textLength="63.7" lengthAdjust="spacingAndGlyphs">TET3 log2_CPM</text>
<text x="131.7" y="910.8" font-size="11.5" text-anchor="middle" font-weight="bold" fill="#111" textLength="76.5" lengthAdjust="spacingAndGlyphs" >L2HGDH log2_CPM</text>
<text x="153.8" y="758.7" font-size="10" fill="#111" textLength="48" lengthAdjust="spacingAndGlyphs">R<tspan font-size="7" dy="-4">2</tspan><tspan dy="4">=0.0179</tspan></text>
<text x="153.8" y="770.8" font-size="10" text-anchor="start" font-weight="normal" fill="#111" textLength="61.8" lengthAdjust="spacingAndGlyphs" >Slope=0.0835</text>
<text x="154.4" y="782.3" font-size="10" fill="#111" textLength="43.3" lengthAdjust="spacingAndGlyphs"><tspan font-style="italic">P</tspan>=0.0012</text>
</svg></body></html>
